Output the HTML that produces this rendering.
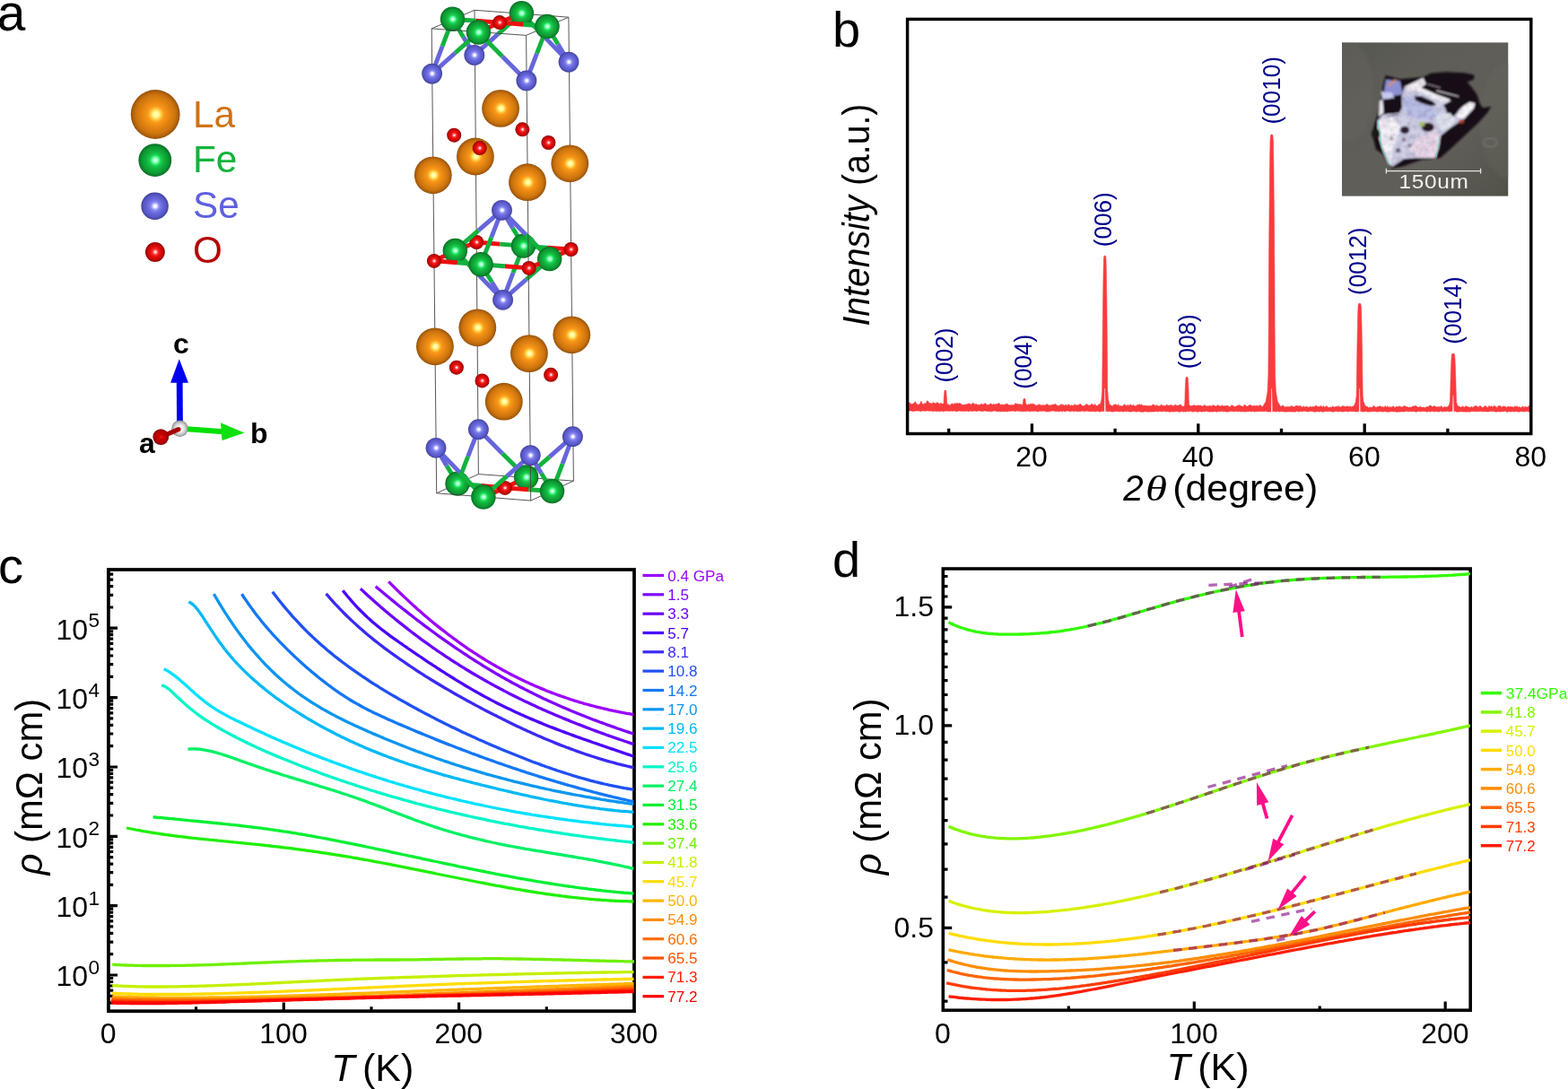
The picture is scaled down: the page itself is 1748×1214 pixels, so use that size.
<!DOCTYPE html>
<html lang="en"><head><meta charset="utf-8"><title>Figure</title>
<style>html,body{margin:0;padding:0;background:#fff;}svg{display:block;}text{font-family:"Liberation Sans",sans-serif;}</style></head>
<body>
<svg width="1748" height="1214" viewBox="0 0 1748 1214">
<rect width="1748" height="1214" fill="#fff"/>
<defs><radialGradient id="gLa" cx="0.5" cy="0.5" r="0.5" fx="0.515" fy="0.5"><stop offset="0" stop-color="#ffffc8"/><stop offset="0.12" stop-color="#fff890"/><stop offset="0.22" stop-color="#ffc840"/><stop offset="0.34" stop-color="#f89818"/><stop offset="0.55" stop-color="#e68612"/><stop offset="0.8" stop-color="#cc740e"/><stop offset="0.95" stop-color="#a85c0a"/><stop offset="1" stop-color="#8a4a06"/></radialGradient><radialGradient id="gFe" cx="0.5" cy="0.5" r="0.5" fx="0.515" fy="0.5"><stop offset="0" stop-color="#e0ffff"/><stop offset="0.12" stop-color="#a8ffd0"/><stop offset="0.22" stop-color="#50f888"/><stop offset="0.34" stop-color="#18d050"/><stop offset="0.55" stop-color="#12b03c"/><stop offset="0.8" stop-color="#0c9832"/><stop offset="0.95" stop-color="#087a28"/><stop offset="1" stop-color="#06601e"/></radialGradient><radialGradient id="gSe" cx="0.5" cy="0.5" r="0.5" fx="0.515" fy="0.5"><stop offset="0" stop-color="#ffffff"/><stop offset="0.12" stop-color="#f0f0ff"/><stop offset="0.22" stop-color="#b0b0ff"/><stop offset="0.34" stop-color="#8080ec"/><stop offset="0.55" stop-color="#6868dc"/><stop offset="0.8" stop-color="#5858c8"/><stop offset="0.95" stop-color="#4848a8"/><stop offset="1" stop-color="#38388c"/></radialGradient><radialGradient id="gO" cx="0.5" cy="0.5" r="0.5" fx="0.515" fy="0.5"><stop offset="0" stop-color="#fff0f0"/><stop offset="0.12" stop-color="#ffc0c0"/><stop offset="0.22" stop-color="#ff6060"/><stop offset="0.34" stop-color="#f82020"/><stop offset="0.55" stop-color="#e00c0c"/><stop offset="0.8" stop-color="#c40606"/><stop offset="0.95" stop-color="#9c0000"/><stop offset="1" stop-color="#800000"/></radialGradient><radialGradient id="gW" cx="0.5" cy="0.5" r="0.5" fx="0.515" fy="0.5"><stop offset="0" stop-color="#ffffff"/><stop offset="0.25" stop-color="#f8f8f8"/><stop offset="0.6" stop-color="#d8d8d8"/><stop offset="0.85" stop-color="#b0b0b0"/><stop offset="1" stop-color="#808080"/></radialGradient><radialGradient id="gR" cx="0.5" cy="0.5" r="0.5" fx="0.515" fy="0.5"><stop offset="0" stop-color="#e02020"/><stop offset="0.3" stop-color="#cc0000"/><stop offset="0.7" stop-color="#b80000"/><stop offset="1" stop-color="#800000"/></radialGradient></defs>
<g id="panel-a"><circle cx="173.2" cy="127.5" r="27.4" fill="url(#gLa)"/><circle cx="172.8" cy="178.6" r="18.4" fill="url(#gFe)"/><circle cx="172.6" cy="229.8" r="15.2" fill="url(#gSe)"/><circle cx="172.9" cy="281" r="10.9" fill="url(#gO)"/><text x="215" y="141.5" font-size="42.3" fill="#d07214">La</text><text x="215" y="192.2" font-size="42.3" fill="#14b43c">Fe</text><text x="215" y="243" font-size="42.3" fill="#5f5fe0">Se</text><text x="215" y="293.4" font-size="42.3" fill="#b40000">O</text><line x1="205" y1="478" x2="249" y2="481.2" stroke="#00e000" stroke-width="6"/><polygon points="246,471.3 272.5,482.6 247.5,491" fill="#10e010"/><line x1="200.5" y1="472" x2="200.2" y2="425" stroke="#0000f0" stroke-width="6.8"/><polygon points="190.1,426.8 199.8,400.2 210,426.8" fill="#0000f0"/><circle cx="200.5" cy="477.8" r="9.2" fill="url(#gW)"/><line x1="199" y1="478.6" x2="180" y2="486.8" stroke="#a80000" stroke-width="5.2" stroke-linecap="round"/><circle cx="179.3" cy="487.1" r="8.9" fill="url(#gR)"/><text x="193" y="394" font-size="32" font-weight="bold">c</text><text x="279" y="493.5" font-size="32" font-weight="bold">b</text><text x="155" y="504.6" font-size="32" font-weight="bold">a</text><g><line x1="529" y1="11.3" x2="481.2" y2="31.9" stroke="#444" stroke-width="0.9" fill="none"/><line x1="529" y1="11.3" x2="633.9" y2="19.2" stroke="#444" stroke-width="0.9" fill="none"/><line x1="533.4" y1="528.6" x2="486.7" y2="549.8" stroke="#444" stroke-width="0.9" fill="none"/><line x1="533.4" y1="528.6" x2="639.4" y2="536.1" stroke="#444" stroke-width="0.9" fill="none"/><line x1="529" y1="11.3" x2="533.4" y2="528.6" stroke="#444" stroke-width="0.9" fill="none"/><line x1="528.8" y1="61.4" x2="516.6" y2="41.4" stroke="#6666dc" stroke-width="4.9"/><line x1="528.8" y1="61.4" x2="555.1" y2="38.1" stroke="#6666dc" stroke-width="4.9"/><line x1="531.3" y1="270" x2="519.3" y2="274.7" stroke="#ee1010" stroke-width="4.9"/><line x1="531.3" y1="270" x2="557.4" y2="272.1" stroke="#ee1010" stroke-width="4.9"/><line x1="533.4" y1="478.7" x2="521.7" y2="508.9" stroke="#6666dc" stroke-width="4.9"/><line x1="533.4" y1="478.7" x2="560" y2="505.4" stroke="#6666dc" stroke-width="4.9"/><circle cx="528.8" cy="61.4" r="11.4" fill="url(#gSe)"/><circle cx="529.9" cy="174.5" r="20.9" fill="url(#gLa)"/><circle cx="531.3" cy="270" r="8" fill="url(#gO)"/><circle cx="532.3" cy="365.3" r="20.9" fill="url(#gLa)"/><circle cx="533.4" cy="478.7" r="11.4" fill="url(#gSe)"/><line x1="581.4" y1="14.8" x2="555.1" y2="38.1" stroke="#12b23e" stroke-width="4.9"/><line x1="581.4" y1="14.8" x2="607.7" y2="41.9" stroke="#12b23e" stroke-width="4.9"/><line x1="581.4" y1="14.8" x2="569.2" y2="20" stroke="#12b23e" stroke-width="4.9"/><line x1="583.5" y1="274.1" x2="557.4" y2="272.1" stroke="#12b23e" stroke-width="4.9"/><line x1="583.5" y1="274.1" x2="610" y2="276.1" stroke="#12b23e" stroke-width="4.9"/><line x1="583.5" y1="274.1" x2="571.5" y2="254.2" stroke="#12b23e" stroke-width="4.9"/><line x1="583.5" y1="274.1" x2="572" y2="304.2" stroke="#12b23e" stroke-width="4.9"/><line x1="586.6" y1="532" x2="560" y2="505.4" stroke="#12b23e" stroke-width="4.9"/><line x1="586.6" y1="532" x2="612.5" y2="509.4" stroke="#12b23e" stroke-width="4.9"/><line x1="586.6" y1="532" x2="574.8" y2="538" stroke="#12b23e" stroke-width="4.9"/><circle cx="581.4" cy="14.8" r="13.7" fill="url(#gFe)"/><circle cx="582.4" cy="144.3" r="8" fill="url(#gO)"/><circle cx="583.5" cy="274.1" r="13.7" fill="url(#gFe)"/><circle cx="585.3" cy="403.6" r="8" fill="url(#gO)"/><circle cx="586.6" cy="532" r="13.7" fill="url(#gFe)"/><line x1="633.9" y1="19.2" x2="586.6" y2="39.4" stroke="#444" stroke-width="0.9" fill="none"/><line x1="639.4" y1="536.1" x2="591.7" y2="558.1" stroke="#444" stroke-width="0.9" fill="none"/><line x1="633.9" y1="19.2" x2="639.4" y2="536.1" stroke="#444" stroke-width="0.9" fill="none"/><line x1="634" y1="69.1" x2="607.7" y2="41.9" stroke="#6666dc" stroke-width="4.9"/><line x1="634" y1="69.1" x2="622" y2="49.3" stroke="#6666dc" stroke-width="4.9"/><line x1="636.6" y1="278" x2="610" y2="276.1" stroke="#ee1010" stroke-width="4.9"/><line x1="636.6" y1="278" x2="624.7" y2="283.3" stroke="#ee1010" stroke-width="4.9"/><line x1="638.4" y1="486.7" x2="612.5" y2="509.4" stroke="#6666dc" stroke-width="4.9"/><line x1="638.4" y1="486.7" x2="627" y2="517.1" stroke="#6666dc" stroke-width="4.9"/><circle cx="634" cy="69.1" r="11.4" fill="url(#gSe)"/><circle cx="635.3" cy="182.3" r="20.9" fill="url(#gLa)"/><circle cx="636.6" cy="278" r="8" fill="url(#gO)"/><circle cx="637.3" cy="373.3" r="20.9" fill="url(#gLa)"/><circle cx="638.4" cy="486.7" r="11.4" fill="url(#gSe)"/><line x1="504.5" y1="21.3" x2="493.1" y2="51.7" stroke="#12b23e" stroke-width="4.9"/><line x1="504.5" y1="21.3" x2="516.6" y2="41.4" stroke="#12b23e" stroke-width="4.9"/><line x1="504.5" y1="21.3" x2="530.8" y2="23.2" stroke="#12b23e" stroke-width="4.9"/><line x1="507.3" y1="279.4" x2="495.6" y2="285.1" stroke="#12b23e" stroke-width="4.9"/><line x1="507.3" y1="279.4" x2="519.3" y2="274.7" stroke="#12b23e" stroke-width="4.9"/><line x1="507.3" y1="279.4" x2="533.4" y2="256.9" stroke="#12b23e" stroke-width="4.9"/><line x1="507.3" y1="279.4" x2="534" y2="306.9" stroke="#12b23e" stroke-width="4.9"/><line x1="510" y1="539.1" x2="498" y2="519.2" stroke="#12b23e" stroke-width="4.9"/><line x1="510" y1="539.1" x2="521.7" y2="508.9" stroke="#12b23e" stroke-width="4.9"/><line x1="510" y1="539.1" x2="536.5" y2="541.5" stroke="#12b23e" stroke-width="4.9"/><circle cx="504.5" cy="21.3" r="13.7" fill="url(#gFe)"/><circle cx="506.2" cy="150.7" r="8" fill="url(#gO)"/><circle cx="507.3" cy="279.4" r="13.7" fill="url(#gFe)"/><circle cx="508.9" cy="409.7" r="8" fill="url(#gO)"/><circle cx="510" cy="539.1" r="13.7" fill="url(#gFe)"/><line x1="557" y1="25.1" x2="530.8" y2="23.2" stroke="#ee1010" stroke-width="4.9"/><line x1="557" y1="25.1" x2="569.2" y2="20" stroke="#ee1010" stroke-width="4.9"/><line x1="557" y1="25.1" x2="545.2" y2="30.6" stroke="#ee1010" stroke-width="4.9"/><line x1="557" y1="25.1" x2="583.5" y2="27.3" stroke="#ee1010" stroke-width="4.9"/><line x1="559.5" y1="234.3" x2="533.4" y2="256.9" stroke="#6666dc" stroke-width="4.9"/><line x1="560.6" y1="334.3" x2="534" y2="306.9" stroke="#6666dc" stroke-width="4.9"/><line x1="559.5" y1="234.3" x2="571.5" y2="254.2" stroke="#6666dc" stroke-width="4.9"/><line x1="560.6" y1="334.3" x2="572" y2="304.2" stroke="#6666dc" stroke-width="4.9"/><line x1="559.5" y1="234.3" x2="547.8" y2="264.5" stroke="#6666dc" stroke-width="4.9"/><line x1="560.6" y1="334.3" x2="548.4" y2="314.5" stroke="#6666dc" stroke-width="4.9"/><line x1="559.5" y1="234.3" x2="586.1" y2="261.5" stroke="#6666dc" stroke-width="4.9"/><line x1="560.6" y1="334.3" x2="586.7" y2="311.5" stroke="#6666dc" stroke-width="4.9"/><line x1="562.9" y1="543.9" x2="536.5" y2="541.5" stroke="#ee1010" stroke-width="4.9"/><line x1="562.9" y1="543.9" x2="574.8" y2="538" stroke="#ee1010" stroke-width="4.9"/><line x1="562.9" y1="543.9" x2="550.9" y2="549" stroke="#ee1010" stroke-width="4.9"/><line x1="562.9" y1="543.9" x2="589.2" y2="545.7" stroke="#ee1010" stroke-width="4.9"/><circle cx="557" cy="25.1" r="8" fill="url(#gO)"/><circle cx="558.1" cy="120.9" r="20.9" fill="url(#gLa)"/><circle cx="559.5" cy="234.3" r="11.4" fill="url(#gSe)"/><circle cx="560.6" cy="334.3" r="11.4" fill="url(#gSe)"/><circle cx="561.8" cy="447.7" r="20.9" fill="url(#gLa)"/><circle cx="562.9" cy="543.9" r="8" fill="url(#gO)"/><line x1="610" y1="29.5" x2="598.5" y2="59.7" stroke="#12b23e" stroke-width="4.9"/><line x1="610" y1="29.5" x2="622" y2="49.3" stroke="#12b23e" stroke-width="4.9"/><line x1="610" y1="29.5" x2="583.5" y2="27.3" stroke="#12b23e" stroke-width="4.9"/><line x1="612.7" y1="288.6" x2="601.2" y2="293.8" stroke="#12b23e" stroke-width="4.9"/><line x1="612.7" y1="288.6" x2="624.7" y2="283.3" stroke="#12b23e" stroke-width="4.9"/><line x1="612.7" y1="288.6" x2="586.1" y2="261.5" stroke="#12b23e" stroke-width="4.9"/><line x1="612.7" y1="288.6" x2="586.7" y2="311.5" stroke="#12b23e" stroke-width="4.9"/><line x1="615.5" y1="547.5" x2="603.4" y2="527.5" stroke="#12b23e" stroke-width="4.9"/><line x1="615.5" y1="547.5" x2="627" y2="517.1" stroke="#12b23e" stroke-width="4.9"/><line x1="615.5" y1="547.5" x2="589.2" y2="545.7" stroke="#12b23e" stroke-width="4.9"/><circle cx="610" cy="29.5" r="13.7" fill="url(#gFe)"/><circle cx="611.4" cy="159" r="8" fill="url(#gO)"/><circle cx="612.7" cy="288.6" r="13.7" fill="url(#gFe)"/><circle cx="614.1" cy="417.8" r="8" fill="url(#gO)"/><circle cx="615.5" cy="547.5" r="13.7" fill="url(#gFe)"/><line x1="481.2" y1="31.9" x2="586.6" y2="39.4" stroke="#444" stroke-width="0.9" fill="none"/><line x1="486.7" y1="549.8" x2="591.7" y2="558.1" stroke="#444" stroke-width="0.9" fill="none"/><line x1="481.2" y1="31.9" x2="486.7" y2="549.8" stroke="#444" stroke-width="0.9" fill="none"/><line x1="481.6" y1="82.1" x2="493.1" y2="51.7" stroke="#6666dc" stroke-width="4.9"/><line x1="481.6" y1="82.1" x2="507.5" y2="59" stroke="#6666dc" stroke-width="4.9"/><line x1="483.9" y1="290.9" x2="495.6" y2="285.1" stroke="#ee1010" stroke-width="4.9"/><line x1="483.9" y1="290.9" x2="510" y2="292.8" stroke="#ee1010" stroke-width="4.9"/><line x1="486" y1="499.3" x2="498" y2="519.2" stroke="#6666dc" stroke-width="4.9"/><line x1="486" y1="499.3" x2="512.5" y2="526.6" stroke="#6666dc" stroke-width="4.9"/><circle cx="481.6" cy="82.1" r="11.4" fill="url(#gSe)"/><circle cx="482.8" cy="195.3" r="20.9" fill="url(#gLa)"/><circle cx="483.9" cy="290.9" r="8" fill="url(#gO)"/><circle cx="484.9" cy="386.3" r="20.9" fill="url(#gLa)"/><circle cx="486" cy="499.3" r="11.4" fill="url(#gSe)"/><line x1="533.4" y1="36" x2="507.5" y2="59" stroke="#12b23e" stroke-width="4.9"/><line x1="533.4" y1="36" x2="560.1" y2="63" stroke="#12b23e" stroke-width="4.9"/><line x1="533.4" y1="36" x2="545.2" y2="30.6" stroke="#12b23e" stroke-width="4.9"/><line x1="536.1" y1="294.7" x2="510" y2="292.8" stroke="#12b23e" stroke-width="4.9"/><line x1="536.1" y1="294.7" x2="562.9" y2="296.8" stroke="#12b23e" stroke-width="4.9"/><line x1="536.1" y1="294.7" x2="547.8" y2="264.5" stroke="#12b23e" stroke-width="4.9"/><line x1="536.1" y1="294.7" x2="548.4" y2="314.5" stroke="#12b23e" stroke-width="4.9"/><line x1="538.9" y1="554" x2="512.5" y2="526.6" stroke="#12b23e" stroke-width="4.9"/><line x1="538.9" y1="554" x2="565.1" y2="530.8" stroke="#12b23e" stroke-width="4.9"/><line x1="538.9" y1="554" x2="550.9" y2="549" stroke="#12b23e" stroke-width="4.9"/><circle cx="533.4" cy="36" r="13.7" fill="url(#gFe)"/><circle cx="534.7" cy="165.1" r="8" fill="url(#gO)"/><circle cx="536.1" cy="294.7" r="13.7" fill="url(#gFe)"/><circle cx="537.5" cy="424.4" r="8" fill="url(#gO)"/><circle cx="538.9" cy="554" r="13.7" fill="url(#gFe)"/><line x1="586.6" y1="39.4" x2="591.7" y2="558.1" stroke="#444" stroke-width="0.9" fill="none"/><line x1="586.9" y1="89.9" x2="560.1" y2="63" stroke="#6666dc" stroke-width="4.9"/><line x1="586.9" y1="89.9" x2="598.5" y2="59.7" stroke="#6666dc" stroke-width="4.9"/><line x1="589.7" y1="298.9" x2="562.9" y2="296.8" stroke="#ee1010" stroke-width="4.9"/><line x1="589.7" y1="298.9" x2="601.2" y2="293.8" stroke="#ee1010" stroke-width="4.9"/><line x1="591.3" y1="507.6" x2="565.1" y2="530.8" stroke="#6666dc" stroke-width="4.9"/><line x1="591.3" y1="507.6" x2="603.4" y2="527.5" stroke="#6666dc" stroke-width="4.9"/><circle cx="586.9" cy="89.9" r="11.4" fill="url(#gSe)"/><circle cx="588" cy="203.2" r="20.9" fill="url(#gLa)"/><circle cx="589.7" cy="298.9" r="8" fill="url(#gO)"/><circle cx="589.9" cy="394.1" r="20.9" fill="url(#gLa)"/><circle cx="591.3" cy="507.6" r="11.4" fill="url(#gSe)"/></g><text x="-3.2" y="33.7" font-size="56.8">a</text></g>
<g id="panel-b"><defs><filter id="blur1" x="-10%" y="-10%" width="120%" height="120%"><feGaussianBlur stdDeviation="1.1"/></filter><filter id="blur2" x="-10%" y="-10%" width="120%" height="120%"><feGaussianBlur stdDeviation="0.55"/></filter><filter id="blur3" x="-20%" y="-20%" width="140%" height="140%"><feGaussianBlur stdDeviation="2.2"/></filter><linearGradient id="phbg" x1="0" y1="0" x2="1" y2="1"><stop offset="0" stop-color="#565650"/><stop offset="0.3" stop-color="#5e5d57"/><stop offset="0.65" stop-color="#5f5e58"/><stop offset="1" stop-color="#525149"/></linearGradient><filter id="mott" x="0" y="0" width="100%" height="100%"><feTurbulence type="fractalNoise" baseFrequency="0.16" numOctaves="2" seed="5" result="n"/><feColorMatrix in="n" type="matrix" values="0 0 0 0 0.1  0 0 0 0 0.05  0 0 0 0 0.15  1.6 0.9 0 0 -0.95"/><feGaussianBlur stdDeviation="0.6"/></filter><filter id="grain" x="0" y="0" width="100%" height="100%"><feTurbulence type="fractalNoise" baseFrequency="0.5" numOctaves="2" seed="3" result="n"/><feColorMatrix in="n" type="matrix" values="0 0 0 0 1  0 0 0 0 1  0 0 0 0 1  0.5 0.5 0 0 -0.42"/></filter><clipPath id="phmain"><polygon points="1562.8,105.3 1566.1,96.8 1586.4,87.1 1589.6,93.6 1580,98.9 1595,105.3 1614.2,110.7 1621.7,115 1616.4,118.2 1611,120.3 1613.2,126.8 1620.7,130 1627.1,121.4 1637.8,113.9 1644.2,115 1643.2,120.3 1632.4,132.1 1616.4,142.8 1605.7,151.4 1604.6,161 1600.3,176 1580,176 1565,177.1 1552.1,185.7 1547.8,182.4 1541.4,166.4 1536.1,149.3 1536.1,134.3 1541.4,127.8 1560.7,125.7 1562.8,117.1"/></clipPath><clipPath id="phclip"><rect x="1496" y="47.2" width="185.5" height="171.6"/></clipPath></defs><g clip-path="url(#phclip)"><rect x="1496" y="47.2" width="185.5" height="171.6" fill="url(#phbg)"/><g filter="url(#blur3)" opacity="0.35"><ellipse cx="1503.9" cy="102.1" rx="27.8" ry="55.7" fill="#6a6963" opacity="1" transform="rotate(0 1503.9 102.1)"/><ellipse cx="1680.6" cy="134.3" rx="32.1" ry="64.3" fill="#68675f" opacity="1" transform="rotate(0 1680.6 134.3)"/></g><g filter="url(#blur1)"><polygon points="1544.6,83.9 1560.7,88.2 1586.4,86.1 1595,81.8 1611,80.2 1632.4,81.2 1643.2,83.4 1643.2,88.2 1635.7,91.4 1641,97.8 1646.4,105.3 1649.6,115 1652.8,120.3 1662.4,118.7 1658.2,125.7 1648.5,136.4 1632.4,151.4 1616.4,166.4 1605.7,176 1584.3,178.2 1562.8,185.7 1552.1,187.8 1547.8,183.5 1541.4,171.7 1533.9,166.4 1529.6,148.2 1532.9,136.4 1536.1,125.7 1539.3,110.7 1541.4,96.8" fill="#150e17"/><polygon points="1562.8,105.3 1566.1,96.8 1586.4,87.1 1589.6,93.6 1580,98.9 1595,105.3 1614.2,110.7 1621.7,115 1616.4,118.2 1611,120.3 1613.2,126.8 1620.7,130 1627.1,121.4 1637.8,113.9 1644.2,115 1643.2,120.3 1632.4,132.1 1616.4,142.8 1605.7,151.4 1604.6,161 1600.3,176 1580,176 1565,177.1 1552.1,185.7 1547.8,182.4 1541.4,166.4 1536.1,149.3 1536.1,134.3 1541.4,127.8 1560.7,125.7 1562.8,117.1" fill="#cfd0e6"/><polygon points="1545.2,88.7 1560.7,90.3 1563.9,105.3 1552.1,106.9 1543,101.6" fill="#8c8fd2"/><polygon points="1546.8,95.2 1555.3,88.2 1556.9,89.8 1548.4,96.8" fill="#d89060"/><polygon points="1539.3,102.1 1552.1,103.2 1554.3,109.6 1541.4,110.7" fill="#c8c8f0"/><polygon points="1562.8,108.6 1580,105.3 1595,115 1601.4,130 1588.5,134.3 1571.4,130 1565,120.3" fill="#b9bfe6"/><polygon points="1536.1,134.3 1552.1,130 1560.7,138.5 1558.6,151.4 1552.1,166.4 1551.1,183.5 1547.8,182.4 1541.4,166.4 1536.1,149.3" fill="#f4f2f8"/><polygon points="1566.1,96.8 1586.4,87.1 1589.6,93.6 1584.3,97.8 1601.4,105.3 1616.4,110.7 1614.2,116.1 1599.3,110.7 1584.3,102.1 1570.3,102.1" fill="#f2eef4"/><polygon points="1580,153.5 1601.4,145 1605.7,151.4 1603.5,166.4 1599.3,175.5 1580,175.5 1571.4,166.4" fill="#e9d9e8"/><polygon points="1622.8,130 1631.4,118.2 1638.9,113.9 1644.2,115.5 1642.1,121.4 1631.4,132.7" fill="#f6f6f6"/><polygon points="1601.4,130 1616.4,125.7 1622.8,134.3 1614.2,143.9 1605.7,145" fill="#dfe6ee"/><ellipse cx="1551.6" cy="118.2" rx="11.6" ry="8.6" fill="#140e18" opacity="1" transform="rotate(0 1551.6 118.2)"/><polygon points="1537.7,112.8 1541.4,110.7 1542.5,125.7 1537.1,130" fill="#e8e8f4"/><ellipse cx="1533.9" cy="149.3" rx="4.8" ry="6.4" fill="#1a1418" opacity="1" transform="rotate(0 1533.9 149.3)"/><polygon points="1576.8,107.5 1584.3,106.9 1597.1,112.8 1601.4,117.1 1595,118.2 1584.3,115 1577.8,111.8" fill="#140e18"/><ellipse cx="1591.8" cy="141.8" rx="7" ry="5.1" fill="#20121e" opacity="1" transform="rotate(0 1591.8 141.8)"/><ellipse cx="1566.1" cy="145" rx="5.1" ry="4.3" fill="#2a1c2c" opacity="1" transform="rotate(0 1566.1 145)"/><ellipse cx="1585.3" cy="138.5" rx="3.2" ry="2.7" fill="#a0c060" opacity="1" transform="rotate(0 1585.3 138.5)"/><ellipse cx="1565" cy="155.7" rx="2.4" ry="2.4" fill="#8a7a96" opacity="1" transform="rotate(0 1565 155.7)"/><ellipse cx="1571.4" cy="162.1" rx="2.6" ry="2.4" fill="#9486a0" opacity="1" transform="rotate(0 1571.4 162.1)"/><ellipse cx="1558.6" cy="167.5" rx="2.8" ry="2.6" fill="#6a5c78" opacity="1" transform="rotate(0 1558.6 167.5)"/><ellipse cx="1551.1" cy="154.6" rx="2.1" ry="1.9" fill="#a090a8" opacity="1" transform="rotate(0 1551.1 154.6)"/><ellipse cx="1629.2" cy="135.3" rx="2.8" ry="2.4" fill="#b04030" opacity="1" transform="rotate(0 1629.2 135.3)"/><path d="M1546.8,130 L1559.6,127.8" stroke="#2a2438" stroke-width="0.9" fill="none"/><path d="M1601.4,101.1 L1626,107.5" stroke="#d8d4e0" stroke-width="1.2" fill="none"/><path d="M1590.7,93.6 L1605.7,97.8" stroke="#b0a8c0" stroke-width="0.9" fill="none"/><polygon points="1608.9,117.1 1616.4,112.8 1627.1,115 1628.2,120.3 1622.8,127.8 1614.2,125.7" fill="#150e17"/></g><g clip-path="url(#phmain)"><rect x="1496" y="47.2" width="185.5" height="171.6" filter="url(#mott)" opacity="0.2"/></g><rect x="1496" y="47.2" width="185.5" height="171.6" filter="url(#grain)" opacity="0.06"/><g filter="url(#blur2)" opacity="0.8"><path d="M1536.1,134.3 L1540.3,164.2 L1550,183.5" stroke="#48d8c0" stroke-width="0.9" fill="none"/><path d="M1604.6,152.5 L1601.4,175.5" stroke="#60e0c0" stroke-width="0.9" fill="none"/></g><ellipse cx="1661.4" cy="158.9" rx="7.5" ry="4.8" fill="none" stroke="#77766e" stroke-width="2" opacity="0.8" filter="url(#blur1)"/><g filter="url(#blur2)"><path d="M1545.2 190.6H1650.8M1545.4 187.8v5.6M1650.6 187.8v5.6" stroke="#e6e4dc" stroke-width="1.3" fill="none"/><text x="1559.6" y="210.2" font-size="21.5" fill="#f2f0ea" textLength="78" lengthAdjust="spacingAndGlyphs" letter-spacing="0.6">150um</text></g></g><path d="M1012.6 449.3 L1013.9 448.7 L1015.2 450 L1016.5 450.6 L1017.8 449.9 L1019.1 449.4 L1020.4 447.6 L1021.7 449.9 L1023 451.2 L1024.3 450.9 L1025.6 450 L1026.9 447 L1028.2 450.2 L1029.5 451 L1030.8 449.3 L1032.1 450.2 L1033.4 446.8 L1034.7 447.3 L1036 449.6 L1037.3 449.3 L1038.6 450.2 L1039.9 448.8 L1041.2 449 L1042.5 449.8 L1043.8 449.2 L1045.1 448.4 L1046.4 449.7 L1047.7 450.4 L1049 449.1 L1050.3 450.3 L1051.6 450.1 L1052.9 451.2 L1054.2 450.9 L1055.5 450.6 L1056.8 450.5 L1058.1 451.4 L1059.4 451.5 L1060.7 450 L1062 449.8 L1063.3 451.1 L1064.6 449.3 L1065.9 450.1 L1067.2 449.3 L1068.5 450 L1069.8 449.3 L1071.1 450 L1072.4 451.2 L1073.7 451.4 L1075 451.2 L1076.3 450.7 L1077.6 450.8 L1078.9 450.2 L1080.2 449.7 L1081.5 450.4 L1082.8 451.1 L1084.1 449.4 L1085.4 449.2 L1086.7 451.2 L1088 450.1 L1089.3 451.1 L1090.6 451.2 L1091.9 451.6 L1093.2 450.4 L1094.5 450.3 L1095.8 451.3 L1097.1 450.2 L1098.4 449.4 L1099.7 451.1 L1101 451 L1102.3 451.7 L1103.6 449.9 L1104.9 450.1 L1106.2 451.2 L1107.5 450.3 L1108.8 451 L1110.1 450.4 L1111.4 450.7 L1112.7 449.6 L1114 449.4 L1115.3 451.4 L1116.6 450.7 L1117.9 451.1 L1119.2 451.4 L1120.5 450.6 L1121.8 450.5 L1123.1 450 L1124.4 451.5 L1125.7 451.6 L1127 451.4 L1128.3 451.7 L1129.6 451.2 L1130.9 451.3 L1132.2 449.3 L1133.5 450.5 L1134.8 450.3 L1136.1 450.8 L1137.4 450.5 L1138.7 451.1 L1140 451.3 L1141.3 451.2 L1142.6 450.5 L1143.9 450.3 L1145.2 451.8 L1146.5 450.5 L1147.8 450.9 L1149.1 449.9 L1150.4 450.5 L1151.7 449.9 L1153 450.7 L1154.3 451.6 L1155.6 452.1 L1156.9 451.4 L1158.2 450.5 L1159.5 451.5 L1160.8 451.4 L1162.1 451.9 L1163.4 451.2 L1164.7 452.1 L1166 450.9 L1167.3 450.6 L1168.6 451.2 L1169.9 452.1 L1171.2 451.7 L1172.5 451.2 L1173.8 451.1 L1175.1 450.9 L1176.4 450.2 L1177.7 451.2 L1179 452.3 L1180.3 452.2 L1181.6 452 L1182.9 450.3 L1184.2 451.4 L1185.5 451 L1186.8 452.2 L1188.1 450.8 L1189.4 452.3 L1190.7 450.7 L1192 451.1 L1193.3 452.4 L1194.6 451.6 L1195.9 452.3 L1197.2 451.5 L1198.5 450.7 L1199.8 451.9 L1201.1 451.4 L1202.4 451.4 L1203.7 450.4 L1205 450.5 L1206.3 452.4 L1207.6 452.5 L1208.9 452.5 L1210.2 451.1 L1211.5 450.2 L1212.8 451.6 L1214.1 452 L1215.4 451.8 L1216.7 450.3 L1218 450.8 L1219.3 452 L1220.6 450.3 L1221.9 452.3 L1223.2 452.6 L1224.5 450.9 L1225.8 450.3 L1227.1 452.6 L1228.4 452.2 L1229.7 451.5 L1231 451.5 L1232.3 452.5 L1233.6 451.3 L1234.9 450.4 L1236.2 451.9 L1237.5 451.2 L1238.8 452.1 L1240.1 452.7 L1241.4 451.3 L1242.7 451 L1244 450.4 L1245.3 452.4 L1246.6 450.5 L1247.9 452.7 L1249.2 452.2 L1250.5 452.7 L1251.8 452.5 L1253.1 450.9 L1254.4 450.9 L1255.7 452.8 L1257 451.2 L1258.3 452.4 L1259.6 450.9 L1260.9 451.3 L1262.2 452.2 L1263.5 451.2 L1264.8 452.4 L1266.1 452.7 L1267.4 451.4 L1268.7 451.3 L1270 450.5 L1271.3 451.7 L1272.6 450.7 L1273.9 452.1 L1275.2 452.3 L1276.5 452.1 L1277.8 452.2 L1279.1 452.2 L1280.4 452.8 L1281.7 452 L1283 452.8 L1284.3 451.6 L1285.6 451 L1286.9 451.3 L1288.2 452.7 L1289.5 451.3 L1290.8 452.6 L1292.1 452.9 L1293.4 452.1 L1294.7 451.1 L1296 452.3 L1297.3 451.8 L1298.6 453 L1299.9 451.4 L1301.2 451.4 L1302.5 452 L1303.8 452.1 L1305.1 451.3 L1306.4 451.8 L1307.7 452.5 L1309 452.1 L1310.3 450.9 L1311.6 451.9 L1312.9 452 L1314.2 452 L1315.5 450.8 L1316.8 451.6 L1318.1 453.2 L1319.4 453.1 L1320.7 453.2 L1322 452.8 L1323.3 452.1 L1324.6 453.2 L1325.9 451.7 L1327.2 452.5 L1328.5 452.5 L1329.8 452.1 L1331.1 451.6 L1332.4 451.9 L1333.7 452.6 L1335 451.8 L1336.3 451.9 L1337.6 452 L1338.9 451.9 L1340.2 453.1 L1341.5 452.5 L1342.8 451 L1344.1 452.9 L1345.4 452.4 L1346.7 453 L1348 452.4 L1349.3 451.9 L1350.6 453.2 L1351.9 451.6 L1353.2 451.9 L1354.5 452.4 L1355.8 453.3 L1357.1 451.4 L1358.4 452.1 L1359.7 452.6 L1361 452.9 L1362.3 451.4 L1363.6 453.1 L1364.9 452.6 L1366.2 452.6 L1367.5 452.2 L1368.8 452.1 L1370.1 453.4 L1371.4 453.7 L1372.7 451.7 L1374 451.8 L1375.3 453 L1376.6 453.2 L1377.9 453.3 L1379.2 452.1 L1380.5 451.9 L1381.8 451.5 L1383.1 452.3 L1384.4 452.8 L1385.7 453.5 L1387 451.3 L1388.3 451.6 L1389.6 453 L1390.9 453.1 L1392.2 451.7 L1393.5 451.6 L1394.8 451.4 L1396.1 453.1 L1397.4 452.2 L1398.7 452.1 L1400 453.1 L1401.3 451.7 L1402.6 452.9 L1403.9 451.7 L1405.2 451.6 L1406.5 453.2 L1407.8 453.5 L1409.1 452.7 L1410.4 452.6 L1411.7 453.3 L1413 451.7 L1414.3 452.3 L1415.6 453.8 L1416.9 453.9 L1418.2 451.6 L1419.5 451.4 L1420.8 453.5 L1422.1 452.8 L1423.4 453.5 L1424.7 453.3 L1426 452.8 L1427.3 453.4 L1428.6 453.2 L1429.9 451.6 L1431.2 452.9 L1432.5 453.8 L1433.8 453.6 L1435.1 453.4 L1436.4 453.3 L1437.7 453.7 L1439 452.5 L1440.3 452.8 L1441.6 453.3 L1442.9 453.8 L1444.2 452.6 L1445.5 452.2 L1446.8 452.5 L1448.1 452.9 L1449.4 452 L1450.7 453.4 L1452 454 L1453.3 452.7 L1454.6 454.1 L1455.9 452.9 L1457.2 453.2 L1458.5 454.2 L1459.8 453.6 L1461.1 453.2 L1462.4 453.8 L1463.7 453.1 L1465 453.7 L1466.3 452.5 L1467.6 452.1 L1468.9 453.5 L1470.2 453.3 L1471.5 453.1 L1472.8 452.2 L1474.1 454.2 L1475.4 452.2 L1476.7 454.3 L1478 452.8 L1479.3 452.7 L1480.6 454.3 L1481.9 454.3 L1483.2 453.8 L1484.5 454.3 L1485.8 452.5 L1487.1 454.2 L1488.4 453.6 L1489.7 452.9 L1491 453.6 L1492.3 452.3 L1493.6 454.1 L1494.9 453.7 L1496.2 452.4 L1497.5 452.7 L1498.8 452.9 L1500.1 453.4 L1501.4 452.8 L1502.7 452.9 L1504 453.6 L1505.3 452.5 L1506.6 454.1 L1507.9 453.4 L1509.2 453.3 L1510.5 453.7 L1511.8 452.6 L1513.1 454.4 L1514.4 452.5 L1515.7 453.6 L1517 454.5 L1518.3 452.5 L1519.6 454 L1520.9 454.5 L1522.2 454.6 L1523.5 453.1 L1524.8 453.8 L1526.1 454.5 L1527.4 453.8 L1528.7 454.3 L1530 453.9 L1531.3 452.2 L1532.6 453.1 L1533.9 454.4 L1535.2 453.4 L1536.5 453.3 L1537.8 453 L1539.1 452.6 L1540.4 453.9 L1541.7 453.2 L1543 454.4 L1544.3 452.2 L1545.6 454.3 L1546.9 452.4 L1548.2 454.2 L1549.5 453.4 L1550.8 454 L1552.1 453.4 L1553.4 452.6 L1554.7 454.5 L1556 453.8 L1557.3 452.8 L1558.6 453.7 L1559.9 452.7 L1561.2 453.3 L1562.5 453.7 L1563.8 453.8 L1565.1 452.4 L1566.4 452.7 L1567.7 453.4 L1569 453.5 L1570.3 454.3 L1571.6 453.7 L1572.9 454.2 L1574.2 453.2 L1575.5 452.7 L1576.8 452.9 L1578.1 452.1 L1579.4 453.2 L1580.7 453.8 L1582 454.3 L1583.3 452.8 L1584.6 454 L1585.9 454.1 L1587.2 453.9 L1588.5 454.5 L1589.8 453.7 L1591.1 453.4 L1592.4 453.6 L1593.7 452 L1595 452 L1596.3 453.5 L1597.6 453.2 L1598.9 452.5 L1600.2 453.1 L1601.5 453.8 L1602.8 453.5 L1604.1 453.2 L1605.4 454.1 L1606.7 452.2 L1608 454.4 L1609.3 453.9 L1610.6 453.3 L1611.9 453.9 L1613.2 454.5 L1614.5 453.9 L1615.8 453.9 L1617.1 454 L1618.4 454.4 L1619.7 454.4 L1621 452.9 L1622.3 452.1 L1623.6 452.9 L1624.9 453.2 L1626.2 452.9 L1627.5 453.4 L1628.8 454.5 L1630.1 452.7 L1631.4 453.2 L1632.7 454.2 L1634 452.5 L1635.3 453.1 L1636.6 453.6 L1637.9 454.1 L1639.2 454.3 L1640.5 452.9 L1641.8 454.5 L1643.1 453.3 L1644.4 452.5 L1645.7 452.6 L1647 453.3 L1648.3 454.2 L1649.6 452.3 L1650.9 452.8 L1652.2 454.2 L1653.5 454.2 L1654.8 452.7 L1656.1 452.3 L1657.4 453.9 L1658.7 454.2 L1660 452.2 L1661.3 453.5 L1662.6 452.5 L1663.9 453.7 L1665.2 452.5 L1666.5 452.5 L1667.8 453.6 L1669.1 454.5 L1670.4 452.2 L1671.7 452.4 L1673 452.7 L1674.3 454.2 L1675.6 452.8 L1676.9 452.9 L1678.2 453.3 L1679.5 454.3 L1680.8 452.9 L1682.1 453.4 L1683.4 453.4 L1684.7 453.5 L1686 453.4 L1687.3 454.2 L1688.6 452.7 L1689.9 453.5 L1691.2 452.5 L1692.5 454.3 L1693.8 453.3 L1695.1 454.6 L1696.4 453.9 L1697.7 452.7 L1699 454.4 L1700.3 453 L1701.6 453.8 L1702.9 454.1 L1704.2 452.4 L1705.5 452.7 L1706.8 453.3 L1706.8 458.3 L1705.5 458.7 L1704.2 459.2 L1702.9 458.3 L1701.6 458.7 L1700.3 458.8 L1699 458.9 L1697.7 459 L1696.4 458.5 L1695.1 458.7 L1693.8 459.2 L1692.5 459.1 L1691.2 458.9 L1689.9 458.5 L1688.6 459.1 L1687.3 459 L1686 458.4 L1684.7 459.1 L1683.4 458.9 L1682.1 458.8 L1680.8 459.3 L1679.5 459.2 L1678.2 458.3 L1676.9 458.5 L1675.6 458.9 L1674.3 458.8 L1673 459 L1671.7 459.1 L1670.4 458.7 L1669.1 459 L1667.8 459.2 L1666.5 459 L1665.2 458.4 L1663.9 458.7 L1662.6 458.3 L1661.3 458.4 L1660 458.9 L1658.7 458.9 L1657.4 459.1 L1656.1 458.7 L1654.8 458.8 L1653.5 458.9 L1652.2 458.7 L1650.9 458.5 L1649.6 458.6 L1648.3 458.9 L1647 458.5 L1645.7 458.9 L1644.4 458.7 L1643.1 458.4 L1641.8 458.8 L1640.5 458.6 L1639.2 459.1 L1637.9 459.2 L1636.6 459 L1635.3 459.1 L1634 459.2 L1632.7 459 L1631.4 459.1 L1630.1 459 L1628.8 458.7 L1627.5 459 L1626.2 459.1 L1624.9 459.1 L1623.6 459.3 L1622.3 458.3 L1621 458.7 L1619.7 458.7 L1618.4 458.5 L1617.1 458.4 L1615.8 459 L1614.5 458.5 L1613.2 458.5 L1611.9 458.4 L1610.6 458.7 L1609.3 458.6 L1608 459.2 L1606.7 458.3 L1605.4 458.5 L1604.1 459.2 L1602.8 458.8 L1601.5 458.9 L1600.2 458.4 L1598.9 459.3 L1597.6 458.6 L1596.3 458.6 L1595 458.8 L1593.7 459 L1592.4 458.4 L1591.1 459.3 L1589.8 458.9 L1588.5 458.4 L1587.2 458.6 L1585.9 458.5 L1584.6 458.8 L1583.3 458.8 L1582 458.7 L1580.7 458.5 L1579.4 459.3 L1578.1 459.1 L1576.8 458.9 L1575.5 458.4 L1574.2 458.7 L1572.9 459 L1571.6 458.4 L1570.3 459 L1569 458.4 L1567.7 458.4 L1566.4 458.8 L1565.1 458.9 L1563.8 459.1 L1562.5 458.7 L1561.2 459 L1559.9 459.1 L1558.6 459.2 L1557.3 459.2 L1556 459.2 L1554.7 458.4 L1553.4 459.2 L1552.1 458.4 L1550.8 458.7 L1549.5 458.9 L1548.2 459.2 L1546.9 459.1 L1545.6 459.3 L1544.3 458.7 L1543 458.5 L1541.7 459.2 L1540.4 458.9 L1539.1 458.6 L1537.8 459 L1536.5 458.7 L1535.2 459.2 L1533.9 458.7 L1532.6 458.8 L1531.3 458.6 L1530 458.9 L1528.7 458.5 L1527.4 459.1 L1526.1 458.9 L1524.8 459.3 L1523.5 458.5 L1522.2 458.5 L1520.9 459 L1519.6 459 L1518.3 459 L1517 458.6 L1515.7 458.5 L1514.4 458.5 L1513.1 459.1 L1511.8 459.1 L1510.5 458.8 L1509.2 458.6 L1507.9 458.7 L1506.6 458.6 L1505.3 458.7 L1504 458.6 L1502.7 459.1 L1501.4 458.7 L1500.1 458.4 L1498.8 458.8 L1497.5 459 L1496.2 458.9 L1494.9 458.7 L1493.6 458.6 L1492.3 459.2 L1491 458.5 L1489.7 458.7 L1488.4 458.6 L1487.1 459 L1485.8 459.2 L1484.5 459 L1483.2 458.4 L1481.9 458.6 L1480.6 458.8 L1479.3 458.8 L1478 458.6 L1476.7 458.8 L1475.4 459.2 L1474.1 459.2 L1472.8 458.4 L1471.5 459 L1470.2 458.9 L1468.9 458.8 L1467.6 458.8 L1466.3 459.2 L1465 459.3 L1463.7 458.7 L1462.4 458.4 L1461.1 458.5 L1459.8 458.6 L1458.5 459.2 L1457.2 458.7 L1455.9 458.8 L1454.6 458.3 L1453.3 458.3 L1452 458.7 L1450.7 458.8 L1449.4 458.6 L1448.1 459.2 L1446.8 458.7 L1445.5 458.3 L1444.2 459.2 L1442.9 458.9 L1441.6 459.2 L1440.3 458.7 L1439 459.2 L1437.7 458.8 L1436.4 459.1 L1435.1 458.9 L1433.8 459.2 L1432.5 458.9 L1431.2 459.2 L1429.9 458.5 L1428.6 459.1 L1427.3 458.4 L1426 459.3 L1424.7 458.4 L1423.4 458.7 L1422.1 459.1 L1420.8 458.6 L1419.5 458.7 L1418.2 459.1 L1416.9 458.9 L1415.6 459.1 L1414.3 459.1 L1413 459.1 L1411.7 458.6 L1410.4 458.3 L1409.1 458.9 L1407.8 458.6 L1406.5 458.7 L1405.2 458.4 L1403.9 458.9 L1402.6 458.4 L1401.3 459.1 L1400 458.5 L1398.7 459.3 L1397.4 458.5 L1396.1 458.5 L1394.8 459 L1393.5 458.6 L1392.2 458.7 L1390.9 458.7 L1389.6 458.8 L1388.3 459.3 L1387 458.7 L1385.7 459 L1384.4 458.7 L1383.1 459.1 L1381.8 458.5 L1380.5 459.1 L1379.2 458.5 L1377.9 458.8 L1376.6 458.5 L1375.3 459 L1374 458.4 L1372.7 458.3 L1371.4 458.7 L1370.1 458.8 L1368.8 459.2 L1367.5 459.1 L1366.2 458.9 L1364.9 458.6 L1363.6 459.1 L1362.3 458.3 L1361 458.8 L1359.7 458.9 L1358.4 458.5 L1357.1 459.1 L1355.8 459.2 L1354.5 458.4 L1353.2 459 L1351.9 459.1 L1350.6 459 L1349.3 459 L1348 459.2 L1346.7 458.7 L1345.4 458.5 L1344.1 458.3 L1342.8 459.1 L1341.5 458.8 L1340.2 459.1 L1338.9 459.1 L1337.6 458.6 L1336.3 459.1 L1335 459.2 L1333.7 459 L1332.4 458.5 L1331.1 458.8 L1329.8 459.2 L1328.5 458.8 L1327.2 458.3 L1325.9 458.6 L1324.6 458.9 L1323.3 458.3 L1322 459.2 L1320.7 458.8 L1319.4 459.3 L1318.1 458.5 L1316.8 458.7 L1315.5 459.2 L1314.2 459.2 L1312.9 458.7 L1311.6 458.4 L1310.3 458.9 L1309 458.8 L1307.7 459.2 L1306.4 458.6 L1305.1 459.2 L1303.8 459.2 L1302.5 458.9 L1301.2 458.8 L1299.9 459 L1298.6 458.5 L1297.3 458.4 L1296 458.8 L1294.7 458.9 L1293.4 458.6 L1292.1 458.4 L1290.8 459.1 L1289.5 458.7 L1288.2 458.4 L1286.9 459 L1285.6 458.9 L1284.3 459.1 L1283 459.1 L1281.7 459 L1280.4 459.2 L1279.1 459 L1277.8 459.1 L1276.5 458.6 L1275.2 459.2 L1273.9 459.2 L1272.6 459.2 L1271.3 459.3 L1270 458.6 L1268.7 458.7 L1267.4 458.9 L1266.1 459.2 L1264.8 458.6 L1263.5 458.6 L1262.2 458.8 L1260.9 458.9 L1259.6 459.1 L1258.3 459.1 L1257 458.3 L1255.7 459.1 L1254.4 458.3 L1253.1 458.9 L1251.8 458.9 L1250.5 458.7 L1249.2 458.4 L1247.9 459 L1246.6 458.8 L1245.3 458.7 L1244 458.3 L1242.7 458.8 L1241.4 459 L1240.1 459.1 L1238.8 458.9 L1237.5 458.5 L1236.2 458.6 L1234.9 459.1 L1233.6 458.3 L1232.3 458.9 L1231 458.8 L1229.7 458.3 L1228.4 458.8 L1227.1 458.6 L1225.8 459.2 L1224.5 458.5 L1223.2 458.3 L1221.9 458.8 L1220.6 458.9 L1219.3 458.6 L1218 458.8 L1216.7 458.6 L1215.4 458.8 L1214.1 458.7 L1212.8 458.3 L1211.5 458.2 L1210.2 458.3 L1208.9 459 L1207.6 458.2 L1206.3 458.3 L1205 458.4 L1203.7 458.8 L1202.4 458.5 L1201.1 458.9 L1199.8 458.4 L1198.5 458.3 L1197.2 458.7 L1195.9 458.2 L1194.6 458.2 L1193.3 458.9 L1192 458.2 L1190.7 458.3 L1189.4 458.1 L1188.1 458.4 L1186.8 459 L1185.5 458.1 L1184.2 458.9 L1182.9 458.3 L1181.6 458.4 L1180.3 458.9 L1179 458.6 L1177.7 458.5 L1176.4 458.7 L1175.1 458.1 L1173.8 458.1 L1172.5 458.3 L1171.2 458.2 L1169.9 459 L1168.6 458.8 L1167.3 458.9 L1166 458.9 L1164.7 458.3 L1163.4 458.2 L1162.1 458.2 L1160.8 458.4 L1159.5 458.2 L1158.2 458.6 L1156.9 458.9 L1155.6 458.7 L1154.3 458 L1153 458.4 L1151.7 458.5 L1150.4 458.3 L1149.1 458.6 L1147.8 458.9 L1146.5 458.2 L1145.2 458.3 L1143.9 458.5 L1142.6 458.4 L1141.3 458.8 L1140 458.5 L1138.7 458.8 L1137.4 458.6 L1136.1 458.3 L1134.8 458.3 L1133.5 458 L1132.2 458.8 L1130.9 458.3 L1129.6 458.3 L1128.3 458 L1127 458.6 L1125.7 458.2 L1124.4 458.4 L1123.1 458.9 L1121.8 458.8 L1120.5 458.5 L1119.2 458.9 L1117.9 458.8 L1116.6 458.7 L1115.3 458.9 L1114 458.8 L1112.7 458.6 L1111.4 458.9 L1110.1 458.1 L1108.8 458.2 L1107.5 458 L1106.2 458.8 L1104.9 458.8 L1103.6 458.5 L1102.3 458.7 L1101 458.3 L1099.7 458.8 L1098.4 457.9 L1097.1 458 L1095.8 458.7 L1094.5 458.2 L1093.2 458.4 L1091.9 457.9 L1090.6 458.1 L1089.3 458.4 L1088 458.6 L1086.7 458 L1085.4 458.3 L1084.1 458.6 L1082.8 458.3 L1081.5 458 L1080.2 458.7 L1078.9 458.6 L1077.6 458.1 L1076.3 458.8 L1075 458.1 L1073.7 458.8 L1072.4 458.3 L1071.1 458.4 L1069.8 458.1 L1068.5 458.2 L1067.2 458.6 L1065.9 458.7 L1064.6 458.3 L1063.3 458 L1062 458.4 L1060.7 458.1 L1059.4 458.6 L1058.1 458.3 L1056.8 458.2 L1055.5 458.3 L1054.2 457.9 L1052.9 458.6 L1051.6 458.8 L1050.3 458.2 L1049 458.3 L1047.7 458.7 L1046.4 458.3 L1045.1 458.8 L1043.8 458.6 L1042.5 458.2 L1041.2 458.4 L1039.9 458.5 L1038.6 458.2 L1037.3 457.9 L1036 458.5 L1034.7 457.8 L1033.4 457.9 L1032.1 458.3 L1030.8 458.3 L1029.5 458.1 L1028.2 457.9 L1026.9 458.6 L1025.6 458.6 L1024.3 458 L1023 457.9 L1021.7 458 L1020.4 458.2 L1019.1 458.2 L1017.8 458.7 L1016.5 458.1 L1015.2 458 L1013.9 458 L1012.6 458.1Z" fill="#fa3b3e" stroke="#fa3b3e" stroke-width="0.5" stroke-linejoin="round"/><polygon points="1049.4,455 1050.5,454.5 1051.5,453.8 1051.9,452.6 1052.1,449 1052.2,445 1052.5,441 1052.8,437 1053,435.5 1053.2,435.1 1053.8,435 1054.4,435.1 1054.6,435.5 1054.8,437 1055.1,441 1055.4,445 1055.5,449 1055.7,452.6 1056.1,453.8 1057,454.5 1058.2,455" fill="#fa3b3e" stroke="#fa3b3e" stroke-width="0.6" stroke-linejoin="round"/><polygon points="1137.5,455 1138.7,454.7 1139.6,454.4 1140,453.7 1140.2,451.9 1140.3,449.8 1140.6,447.6 1140.9,445.6 1141.1,444.8 1141.3,444.5 1141.9,444.5 1142.5,444.5 1142.8,444.8 1143,445.6 1143.2,447.6 1143.5,449.8 1143.6,451.9 1143.8,453.7 1144.2,454.4 1145.2,454.7 1146.3,455" fill="#fa3b3e" stroke="#fa3b3e" stroke-width="0.6" stroke-linejoin="round"/><polygon points="1223.1,455 1226.6,450.8 1228,444.8 1228.7,434.6 1229,404 1229.2,370.1 1229.6,336.1 1230.1,302.1 1230.4,289.3 1230.8,285.6 1231.7,285.1 1232.6,285.6 1233,289.3 1233.3,302.1 1233.8,336.1 1234.2,370.1 1234.4,404 1234.7,434.6 1235.4,444.8 1236.8,450.8 1240.3,455" fill="#fa3b3e" stroke="#fa3b3e" stroke-width="0.6" stroke-linejoin="round"/><polygon points="1231,459.6 1232.5,459.6 1232,433 1231.4,433" fill="#fff" opacity="0.9"/><polygon points="1318.7,455 1319.1,454.1 1320.2,452.9 1320.7,450.8 1321,444.6 1321.1,437.6 1321.4,430.7 1321.8,423.8 1322,421.2 1322.4,420.4 1323.1,420.3 1323.8,420.4 1324.2,421.2 1324.4,423.8 1324.8,430.7 1325.1,437.6 1325.2,444.6 1325.5,450.8 1326,452.9 1327.1,454.1 1327.5,455" fill="#fa3b3e" stroke="#fa3b3e" stroke-width="0.6" stroke-linejoin="round"/><polygon points="1406.7,455 1411.2,447.4 1413,436.7 1413.9,418.4 1414.3,363.4 1414.5,302.4 1415,241.4 1415.6,180.3 1416,157.4 1416.5,150.7 1417.7,149.8 1418.9,150.7 1419.4,157.4 1419.8,180.3 1420.4,241.4 1420.9,302.4 1421.1,363.4 1421.5,418.4 1422.4,436.7 1424.2,447.4 1428.7,455" fill="#fa3b3e" stroke="#fa3b3e" stroke-width="0.6" stroke-linejoin="round"/><polygon points="1417,459.6 1418.5,459.6 1418,433 1417.4,433" fill="#fff" opacity="0.9"/><polygon points="1505.5,455 1509.7,452.1 1511.3,448 1512.2,441 1512.5,420 1512.8,396.6 1513.2,373.2 1513.7,349.9 1514.1,341.1 1514.6,338.6 1515.7,338.2 1516.8,338.6 1517.3,341.1 1517.7,349.9 1518.2,373.2 1518.6,396.6 1518.9,420 1519.2,441 1520.1,448 1521.7,452.1 1525.9,455" fill="#fa3b3e" stroke="#fa3b3e" stroke-width="0.6" stroke-linejoin="round"/><polygon points="1515,459.6 1516.5,459.6 1516,433 1515.4,433" fill="#fff" opacity="0.9"/><polygon points="1609.8,455 1614,453.5 1615.6,451.3 1616.5,447.7 1616.8,436.7 1617.1,424.6 1617.5,412.4 1618,400.2 1618.4,395.6 1618.9,394.3 1620,394.1 1621.1,394.3 1621.6,395.6 1622,400.2 1622.5,412.4 1622.9,424.6 1623.2,436.7 1623.5,447.7 1624.4,451.3 1626,453.5 1630.2,455" fill="#fa3b3e" stroke="#fa3b3e" stroke-width="0.6" stroke-linejoin="round"/><polygon points="1619.2,459.6 1620.8,459.6 1620.3,440.7 1619.7,440.7" fill="#fff" opacity="0.9"/><path d="M1150.4 483.4 V472.2 M1335.8 483.4 V472.2 M1521.2 483.4 V472.2 M1057.7 483.4 V477.8 M1243.1 483.4 V477.8 M1428.5 483.4 V477.8 M1613.9 483.4 V477.8" stroke="#000" stroke-width="3.3" fill="none"/><rect x="1011.6" y="21.4" width="695.2" height="462.1" fill="none" stroke="#000" stroke-width="3.45"/><text x="1150.1" y="520.3" font-size="32" text-anchor="middle">20</text><text x="1335.5" y="520.3" font-size="32" text-anchor="middle">40</text><text x="1520.9" y="520.3" font-size="32" text-anchor="middle">60</text><text x="1706.3" y="520.3" font-size="32" text-anchor="middle">80</text><text x="1252.3" y="558.1" font-size="40.3" font-style="italic">2</text><text x="1277" y="558.1" font-size="40.3" font-style="italic" style="font-family:'Liberation Serif',serif" textLength="24" lengthAdjust="spacingAndGlyphs">θ</text><text x="1307.2" y="558.1" font-size="40.3" textLength="162" lengthAdjust="spacingAndGlyphs">(degree)</text><text transform="translate(968.8,363.6) rotate(-90)" font-size="42.5" textLength="248" lengthAdjust="spacingAndGlyphs"><tspan font-style="italic">Intensity</tspan> (a.u.)</text><text transform="translate(1061.5,426.6) rotate(-90)" font-size="27.7" fill="#00008a" textLength="61.0" lengthAdjust="spacingAndGlyphs">(002)</text><text transform="translate(1149.6,433.7) rotate(-90)" font-size="27.7" fill="#00008a" textLength="61.0" lengthAdjust="spacingAndGlyphs">(004)</text><text transform="translate(1239,275.3) rotate(-90)" font-size="27.7" fill="#00008a" textLength="61.0" lengthAdjust="spacingAndGlyphs">(006)</text><text transform="translate(1332.7,411.3) rotate(-90)" font-size="27.7" fill="#00008a" textLength="61.0" lengthAdjust="spacingAndGlyphs">(008)</text><text transform="translate(1426.8,138.6) rotate(-90)" font-size="27.7" fill="#00008a" textLength="75.5" lengthAdjust="spacingAndGlyphs">(0010)</text><text transform="translate(1522.9,329) rotate(-90)" font-size="27.7" fill="#00008a" textLength="75.5" lengthAdjust="spacingAndGlyphs">(0012)</text><text transform="translate(1628.5,383.7) rotate(-90)" font-size="27.7" fill="#00008a" textLength="75.5" lengthAdjust="spacingAndGlyphs">(0014)</text><text x="928" y="52" font-size="56">b</text></g>
<g id="panel-c"><path d="M120.9 1117.8H126.2 M120.9 1110.3H126.2 M120.9 1104.2H126.2 M120.9 1099H126.2 M120.9 1094.5H126.2 M120.9 1090.5H126.2 M120.9 1087H131 M120.9 1063.7H126.2 M120.9 1050.1H126.2 M120.9 1040.4H126.2 M120.9 1032.9H126.2 M120.9 1026.8H126.2 M120.9 1021.6H126.2 M120.9 1017.1H126.2 M120.9 1013.2H126.2 M120.9 1009.6H131 M120.9 986.4H126.2 M120.9 972.7H126.2 M120.9 963.1H126.2 M120.9 955.6H126.2 M120.9 949.5H126.2 M120.9 944.3H126.2 M120.9 939.8H126.2 M120.9 935.8H126.2 M120.9 932.3H131 M120.9 909H126.2 M120.9 895.4H126.2 M120.9 885.7H126.2 M120.9 878.2H126.2 M120.9 872.1H126.2 M120.9 866.9H126.2 M120.9 862.4H126.2 M120.9 858.5H126.2 M120.9 855H131 M120.9 831.7H126.2 M120.9 818H126.2 M120.9 808.4H126.2 M120.9 800.9H126.2 M120.9 794.8H126.2 M120.9 789.6H126.2 M120.9 785.1H126.2 M120.9 781.1H126.2 M120.9 777.6H131 M120.9 754.3H126.2 M120.9 740.7H126.2 M120.9 731H126.2 M120.9 723.5H126.2 M120.9 717.4H126.2 M120.9 712.2H126.2 M120.9 707.7H126.2 M120.9 703.8H126.2 M120.9 700.2H131 M120.9 677H126.2 M120.9 663.3H126.2 M120.9 653.7H126.2 M120.9 646.2H126.2 M120.9 640.1H126.2 M316.3 1127.2V1117.5 M511.6 1127.2V1117.5 M218.6 1127.2V1122.3 M414 1127.2V1122.3 M609.3 1127.2V1122.3" stroke="#000" stroke-width="3.2" fill="none"/><rect x="120.9" y="635" width="586.1" height="492.2" fill="none" stroke="#000" stroke-width="3.75"/><path d="M433.2 648.3 L435.7 650.8 L438.2 653.3 L440.7 655.8 L443.2 658.3 L445.7 660.7 L448.3 663.2 L450.8 665.6 L453.3 667.9 L455.8 670.3 L458.3 672.6 L460.8 674.9 L463.3 677.1 L465.8 679.4 L468.3 681.6 L470.8 683.8 L473.3 685.9 L475.8 688.1 L478.3 690.2 L480.8 692.3 L483.3 694.4 L485.8 696.4 L488.3 698.4 L490.8 700.4 L493.4 702.4 L495.9 704.3 L498.4 706.3 L500.9 708.2 L503.4 710 L505.9 711.9 L508.4 713.7 L510.9 715.5 L513.4 717.3 L515.9 719.1 L518.4 720.8 L520.9 722.6 L523.4 724.3 L525.9 725.9 L528.4 727.6 L530.9 729.2 L533.4 730.8 L535.9 732.4 L538.5 734 L541 735.6 L543.5 737.1 L546 738.6 L548.5 740.1 L551 741.5 L553.5 743 L556 744.4 L558.5 745.8 L561 747.2 L563.5 748.5 L566 749.9 L568.5 751.2 L571 752.5 L573.5 753.8 L576 755 L578.5 756.3 L581 757.5 L583.6 758.7 L586.1 759.9 L588.6 761 L591.1 762.2 L593.6 763.3 L596.1 764.4 L598.6 765.5 L601.1 766.6 L603.6 767.6 L606.1 768.6 L608.6 769.7 L611.1 770.7 L613.6 771.6 L616.1 772.6 L618.6 773.5 L621.1 774.5 L623.6 775.4 L626.1 776.3 L628.7 777.1 L631.2 778 L633.7 778.8 L636.2 779.7 L638.7 780.5 L641.2 781.3 L643.7 782 L646.2 782.8 L648.7 783.5 L651.2 784.3 L653.7 785 L656.2 785.7 L658.7 786.4 L661.2 787 L663.7 787.7 L666.2 788.3 L668.7 788.9 L671.3 789.5 L673.8 790.1 L676.3 790.7 L678.8 791.3 L681.3 791.8 L683.8 792.4 L686.3 792.9 L688.8 793.4 L691.3 793.9 L693.8 794.4 L696.3 794.8 L698.8 795.3 L701.3 795.7 L703.8 796.2 L706.3 796.6" fill="none" stroke="#9b00ff" stroke-width="3.3"/><path d="M418.8 653.8 L421.3 655.9 L423.8 658 L426.3 660.1 L428.8 662.2 L431.3 664.3 L433.8 666.3 L436.3 668.4 L438.8 670.4 L441.3 672.5 L443.8 674.5 L446.3 676.5 L448.8 678.5 L451.3 680.4 L453.8 682.4 L456.3 684.4 L458.8 686.3 L461.3 688.3 L463.8 690.2 L466.3 692.1 L468.8 694 L471.3 695.9 L473.8 697.8 L476.3 699.6 L478.8 701.5 L481.3 703.3 L483.8 705.2 L486.3 707 L488.8 708.8 L491.3 710.6 L493.8 712.4 L496.3 714.2 L498.8 715.9 L501.3 717.7 L503.8 719.4 L506.3 721.1 L508.8 722.8 L511.3 724.5 L513.8 726.2 L516.3 727.9 L518.8 729.5 L521.3 731.2 L523.8 732.8 L526.3 734.4 L528.8 736 L531.3 737.6 L533.8 739.2 L536.3 740.7 L538.8 742.3 L541.3 743.8 L543.8 745.3 L546.3 746.9 L548.8 748.3 L551.3 749.8 L553.8 751.3 L556.3 752.7 L558.8 754.2 L561.3 755.6 L563.8 757 L566.3 758.4 L568.8 759.8 L571.3 761.2 L573.8 762.5 L576.3 763.8 L578.8 765.2 L581.3 766.5 L583.8 767.8 L586.3 769.1 L588.8 770.3 L591.3 771.6 L593.8 772.8 L596.3 774.1 L598.8 775.3 L601.3 776.5 L603.8 777.7 L606.3 778.9 L608.8 780 L611.3 781.2 L613.8 782.3 L616.3 783.5 L618.8 784.6 L621.3 785.7 L623.8 786.8 L626.3 787.9 L628.8 789 L631.3 790.1 L633.8 791.1 L636.3 792.2 L638.8 793.2 L641.3 794.2 L643.8 795.3 L646.3 796.3 L648.8 797.3 L651.3 798.3 L653.8 799.3 L656.3 800.2 L658.8 801.2 L661.3 802.2 L663.8 803.1 L666.3 804 L668.8 805 L671.3 805.9 L673.8 806.8 L676.3 807.7 L678.8 808.6 L681.3 809.5 L683.8 810.4 L686.3 811.3 L688.8 812.2 L691.3 813 L693.8 813.9 L696.3 814.7 L698.8 815.6 L701.3 816.4 L703.8 817.3 L706.3 818.1" fill="none" stroke="#8000ff" stroke-width="3.3"/><path d="M401.8 656.3 L404.4 658.6 L406.9 661 L409.4 663.3 L411.9 665.5 L414.4 667.8 L416.9 670 L419.5 672.3 L422 674.5 L424.5 676.7 L427 678.8 L429.5 681 L432 683.1 L434.6 685.2 L437.1 687.3 L439.6 689.3 L442.1 691.4 L444.6 693.4 L447.1 695.4 L449.7 697.4 L452.2 699.4 L454.7 701.4 L457.2 703.3 L459.7 705.2 L462.2 707.1 L464.8 709 L467.3 710.9 L469.8 712.8 L472.3 714.6 L474.8 716.4 L477.3 718.2 L479.9 720 L482.4 721.8 L484.9 723.5 L487.4 725.3 L489.9 727 L492.4 728.7 L495 730.4 L497.5 732.1 L500 733.7 L502.5 735.4 L505 737 L507.5 738.6 L510.1 740.2 L512.6 741.8 L515.1 743.4 L517.6 744.9 L520.1 746.5 L522.6 748 L525.1 749.5 L527.7 751 L530.2 752.5 L532.7 753.9 L535.2 755.4 L537.7 756.8 L540.2 758.3 L542.8 759.7 L545.3 761.1 L547.8 762.5 L550.3 763.9 L552.8 765.2 L555.3 766.6 L557.9 767.9 L560.4 769.2 L562.9 770.6 L565.4 771.9 L567.9 773.2 L570.4 774.4 L573 775.7 L575.5 777 L578 778.2 L580.5 779.4 L583 780.7 L585.5 781.9 L588.1 783.1 L590.6 784.2 L593.1 785.4 L595.6 786.6 L598.1 787.8 L600.6 788.9 L603.2 790 L605.7 791.2 L608.2 792.3 L610.7 793.4 L613.2 794.5 L615.7 795.6 L618.3 796.7 L620.8 797.7 L623.3 798.8 L625.8 799.8 L628.3 800.9 L630.8 801.9 L633.4 802.9 L635.9 804 L638.4 805 L640.9 806 L643.4 807 L645.9 807.9 L648.5 808.9 L651 809.9 L653.5 810.9 L656 811.8 L658.5 812.8 L661 813.7 L663.6 814.6 L666.1 815.6 L668.6 816.5 L671.1 817.4 L673.6 818.3 L676.1 819.2 L678.6 820.1 L681.2 821 L683.7 821.9 L686.2 822.7 L688.7 823.6 L691.2 824.5 L693.7 825.3 L696.3 826.2 L698.8 827 L701.3 827.9 L703.8 828.7 L706.3 829.6" fill="none" stroke="#6a00ff" stroke-width="3.3"/><path d="M382.1 658.3 L384.7 661.4 L387.2 664.5 L389.7 667.4 L392.2 670.3 L394.7 673.1 L397.2 675.8 L399.7 678.5 L402.2 681 L404.8 683.5 L407.3 686 L409.8 688.4 L412.3 690.6 L414.8 692.9 L417.3 695 L419.8 697.1 L422.4 699.2 L424.9 701.2 L427.4 703.1 L429.9 705 L432.4 706.9 L434.9 708.8 L437.4 710.6 L439.9 712.4 L442.5 714.2 L445 716 L447.5 717.7 L450 719.5 L452.5 721.2 L455 723 L457.5 724.7 L460.1 726.4 L462.6 728.1 L465.1 729.8 L467.6 731.5 L470.1 733.2 L472.6 734.9 L475.1 736.6 L477.6 738.3 L480.2 739.9 L482.7 741.6 L485.2 743.2 L487.7 744.9 L490.2 746.5 L492.7 748.1 L495.2 749.7 L497.7 751.3 L500.3 752.9 L502.8 754.5 L505.3 756 L507.8 757.6 L510.3 759.1 L512.8 760.7 L515.3 762.2 L517.9 763.7 L520.4 765.2 L522.9 766.6 L525.4 768.1 L527.9 769.6 L530.4 771 L532.9 772.4 L535.4 773.8 L538 775.2 L540.5 776.6 L543 777.9 L545.5 779.3 L548 780.6 L550.5 781.9 L553 783.2 L555.5 784.5 L558.1 785.7 L560.6 787 L563.1 788.2 L565.6 789.4 L568.1 790.6 L570.6 791.8 L573.1 793 L575.7 794.2 L578.2 795.3 L580.7 796.5 L583.2 797.6 L585.7 798.7 L588.2 799.8 L590.7 800.9 L593.2 801.9 L595.8 803 L598.3 804.1 L600.8 805.1 L603.3 806.1 L605.8 807.2 L608.3 808.2 L610.8 809.2 L613.3 810.2 L615.9 811.1 L618.4 812.1 L620.9 813.1 L623.4 814 L625.9 815 L628.4 815.9 L630.9 816.9 L633.5 817.8 L636 818.7 L638.5 819.6 L641 820.6 L643.5 821.5 L646 822.4 L648.5 823.3 L651 824.2 L653.6 825 L656.1 825.9 L658.6 826.8 L661.1 827.7 L663.6 828.5 L666.1 829.4 L668.6 830.3 L671.1 831.1 L673.7 832 L676.2 832.9 L678.7 833.7 L681.2 834.6 L683.7 835.4 L686.2 836.3 L688.7 837.1 L691.3 838 L693.8 838.9 L696.3 839.7 L698.8 840.6 L701.3 841.4 L703.8 842.3 L706.3 843.1" fill="none" stroke="#4a00ff" stroke-width="3.3"/><path d="M363.5 661.8 L366 664.7 L368.5 667.6 L371 670.3 L373.5 673.1 L376 675.7 L378.5 678.4 L381 680.9 L383.5 683.5 L386 686 L388.5 688.4 L391 690.8 L393.5 693.1 L396 695.4 L398.5 697.7 L401 699.9 L403.5 702.1 L406 704.3 L408.5 706.4 L411 708.5 L413.5 710.5 L416 712.6 L418.5 714.6 L421 716.5 L423.5 718.5 L426 720.4 L428.5 722.3 L431 724.1 L433.5 726 L436 727.8 L438.5 729.6 L441 731.4 L443.5 733.2 L446 735 L448.6 736.7 L451.1 738.4 L453.6 740.1 L456.1 741.8 L458.6 743.5 L461.1 745.2 L463.6 746.8 L466.1 748.5 L468.6 750.1 L471.1 751.7 L473.6 753.3 L476.1 754.8 L478.6 756.4 L481.1 758 L483.6 759.5 L486.1 761 L488.6 762.5 L491.1 764 L493.6 765.5 L496.1 767 L498.6 768.4 L501.1 769.9 L503.6 771.3 L506.1 772.8 L508.6 774.2 L511.1 775.6 L513.6 777 L516.1 778.4 L518.6 779.8 L521.1 781.2 L523.6 782.5 L526.1 783.9 L528.6 785.2 L531.1 786.6 L533.6 787.9 L536.1 789.3 L538.6 790.6 L541.2 791.9 L543.7 793.2 L546.2 794.5 L548.7 795.8 L551.2 797.1 L553.7 798.3 L556.2 799.6 L558.7 800.8 L561.2 802.1 L563.7 803.3 L566.2 804.6 L568.7 805.8 L571.2 807 L573.7 808.2 L576.2 809.4 L578.7 810.6 L581.2 811.7 L583.7 812.9 L586.2 814 L588.7 815.2 L591.2 816.3 L593.7 817.4 L596.2 818.6 L598.7 819.7 L601.2 820.7 L603.7 821.8 L606.2 822.9 L608.7 824 L611.2 825 L613.7 826 L616.2 827.1 L618.7 828.1 L621.2 829.1 L623.7 830.1 L626.2 831.1 L628.7 832 L631.2 833 L633.8 833.9 L636.3 834.9 L638.8 835.8 L641.3 836.7 L643.8 837.6 L646.3 838.5 L648.8 839.4 L651.3 840.2 L653.8 841.1 L656.3 841.9 L658.8 842.7 L661.3 843.5 L663.8 844.3 L666.3 845.1 L668.8 845.9 L671.3 846.6 L673.8 847.4 L676.3 848.1 L678.8 848.8 L681.3 849.5 L683.8 850.2 L686.3 850.9 L688.8 851.6 L691.3 852.2 L693.8 852.8 L696.3 853.4 L698.8 854 L701.3 854.6 L703.8 855.2 L706.3 855.8" fill="none" stroke="#3a2af5" stroke-width="3.3"/><path d="M303.8 659.7 L306.3 663 L308.8 666.2 L311.3 669.4 L313.8 672.5 L316.3 675.6 L318.8 678.6 L321.3 681.5 L323.8 684.4 L326.3 687.3 L328.8 690 L331.3 692.7 L333.8 695.4 L336.3 698 L338.8 700.6 L341.3 703.1 L343.8 705.6 L346.3 708 L348.8 710.4 L351.3 712.7 L353.8 715 L356.3 717.3 L358.8 719.5 L361.3 721.6 L363.8 723.8 L366.3 725.9 L368.8 727.9 L371.3 730 L373.8 732 L376.3 733.9 L378.8 735.9 L381.3 737.8 L383.8 739.7 L386.3 741.5 L388.8 743.4 L391.3 745.2 L393.8 746.9 L396.3 748.7 L398.8 750.4 L401.3 752.2 L403.8 753.9 L406.3 755.5 L408.8 757.2 L411.3 758.8 L413.8 760.5 L416.3 762.1 L418.8 763.6 L421.3 765.2 L423.8 766.8 L426.3 768.3 L428.8 769.8 L431.3 771.3 L433.8 772.8 L436.3 774.3 L438.8 775.8 L441.3 777.2 L443.8 778.7 L446.3 780.1 L448.8 781.5 L451.3 782.9 L453.8 784.3 L456.3 785.7 L458.8 787.1 L461.3 788.5 L463.8 789.8 L466.3 791.2 L468.8 792.5 L471.3 793.9 L473.8 795.2 L476.3 796.5 L478.8 797.8 L481.3 799.1 L483.8 800.4 L486.3 801.7 L488.8 803 L491.3 804.2 L493.8 805.5 L496.3 806.7 L498.8 807.9 L501.3 809.2 L503.8 810.4 L506.3 811.6 L508.8 812.8 L511.3 814 L513.8 815.2 L516.3 816.4 L518.8 817.5 L521.3 818.7 L523.8 819.8 L526.3 821 L528.8 822.1 L531.3 823.2 L533.8 824.4 L536.3 825.5 L538.8 826.6 L541.3 827.7 L543.8 828.8 L546.3 829.9 L548.8 830.9 L551.3 832 L553.8 833.1 L556.3 834.1 L558.8 835.2 L561.3 836.2 L563.8 837.3 L566.3 838.3 L568.8 839.3 L571.3 840.3 L573.8 841.3 L576.3 842.3 L578.8 843.3 L581.3 844.3 L583.8 845.3 L586.3 846.3 L588.8 847.2 L591.3 848.2 L593.8 849.2 L596.3 850.1 L598.8 851 L601.3 851.9 L603.8 852.9 L606.3 853.8 L608.8 854.7 L611.3 855.5 L613.8 856.4 L616.3 857.3 L618.8 858.1 L621.3 859 L623.8 859.8 L626.3 860.6 L628.8 861.4 L631.3 862.2 L633.8 863 L636.3 863.8 L638.8 864.6 L641.3 865.3 L643.8 866.1 L646.3 866.8 L648.8 867.5 L651.3 868.2 L653.8 868.9 L656.3 869.6 L658.8 870.3 L661.3 870.9 L663.8 871.6 L666.3 872.2 L668.8 872.8 L671.3 873.4 L673.8 874 L676.3 874.5 L678.8 875.1 L681.3 875.6 L683.8 876.2 L686.3 876.7 L688.8 877.2 L691.3 877.7 L693.8 878.1 L696.3 878.6 L698.8 879 L701.3 879.4 L703.8 879.8 L706.3 880.2" fill="none" stroke="#2050f5" stroke-width="3.3"/><path d="M269.5 662.1 L272 666 L274.5 669.7 L277 673.3 L279.6 676.9 L282.1 680.3 L284.6 683.7 L287.1 686.9 L289.6 690.1 L292.1 693.2 L294.6 696.3 L297.1 699.2 L299.6 702.1 L302.2 705 L304.7 707.8 L307.2 710.5 L309.7 713.2 L312.2 715.8 L314.7 718.4 L317.2 720.9 L319.7 723.4 L322.2 725.9 L324.7 728.3 L327.3 730.7 L329.8 733.1 L332.3 735.4 L334.8 737.7 L337.3 740 L339.8 742.2 L342.3 744.4 L344.8 746.6 L347.3 748.7 L349.8 750.8 L352.4 752.9 L354.9 755 L357.4 757 L359.9 758.9 L362.4 760.9 L364.9 762.8 L367.4 764.7 L369.9 766.5 L372.4 768.3 L375 770.1 L377.5 771.8 L380 773.6 L382.5 775.2 L385 776.8 L387.5 778.4 L390 780 L392.5 781.5 L395 783 L397.5 784.4 L400.1 785.8 L402.6 787.2 L405.1 788.6 L407.6 789.9 L410.1 791.2 L412.6 792.4 L415.1 793.7 L417.6 794.9 L420.1 796.1 L422.7 797.3 L425.2 798.5 L427.7 799.6 L430.2 800.8 L432.7 801.9 L435.2 803 L437.7 804.1 L440.2 805.2 L442.7 806.3 L445.2 807.4 L447.8 808.4 L450.3 809.5 L452.8 810.6 L455.3 811.6 L457.8 812.7 L460.3 813.8 L462.8 814.8 L465.3 815.9 L467.8 816.9 L470.3 817.9 L472.9 819 L475.4 820 L477.9 821 L480.4 822 L482.9 823.1 L485.4 824.1 L487.9 825.1 L490.4 826.1 L492.9 827.1 L495.5 828.1 L498 829.1 L500.5 830.1 L503 831 L505.5 832 L508 833 L510.5 834 L513 834.9 L515.5 835.9 L518 836.8 L520.6 837.8 L523.1 838.7 L525.6 839.7 L528.1 840.6 L530.6 841.5 L533.1 842.4 L535.6 843.4 L538.1 844.3 L540.6 845.2 L543.2 846.1 L545.7 847 L548.2 847.9 L550.7 848.8 L553.2 849.7 L555.7 850.6 L558.2 851.4 L560.7 852.3 L563.2 853.2 L565.7 854 L568.3 854.9 L570.8 855.7 L573.3 856.6 L575.8 857.4 L578.3 858.3 L580.8 859.1 L583.3 859.9 L585.8 860.7 L588.3 861.6 L590.9 862.4 L593.4 863.2 L595.9 864 L598.4 864.8 L600.9 865.6 L603.4 866.3 L605.9 867.1 L608.4 867.9 L610.9 868.7 L613.4 869.4 L616 870.2 L618.5 870.9 L621 871.7 L623.5 872.4 L626 873.1 L628.5 873.9 L631 874.6 L633.5 875.3 L636 876 L638.5 876.7 L641.1 877.4 L643.6 878.1 L646.1 878.8 L648.6 879.5 L651.1 880.2 L653.6 880.9 L656.1 881.5 L658.6 882.2 L661.1 882.9 L663.7 883.5 L666.2 884.2 L668.7 884.8 L671.2 885.4 L673.7 886.1 L676.2 886.7 L678.7 887.3 L681.2 887.9 L683.7 888.5 L686.2 889.1 L688.8 889.7 L691.3 890.3 L693.8 890.9 L696.3 891.4 L698.8 892 L701.3 892.6 L703.8 893.1 L706.3 893.7" fill="none" stroke="#1478f5" stroke-width="3.3"/><path d="M238.4 662.2 L240.9 666.5 L243.4 670.7 L245.9 674.9 L248.4 678.9 L250.9 682.9 L253.4 686.7 L255.9 690.5 L258.4 694.2 L260.9 697.9 L263.4 701.4 L265.9 704.9 L268.4 708.3 L270.9 711.6 L273.4 714.8 L275.9 718 L278.4 721.1 L280.9 724.1 L283.4 727 L285.9 729.9 L288.4 732.7 L290.9 735.5 L293.4 738.2 L295.9 740.8 L298.4 743.4 L300.9 745.9 L303.4 748.3 L305.9 750.7 L308.4 753 L310.9 755.3 L313.4 757.5 L315.9 759.7 L318.5 761.8 L321 763.9 L323.5 765.9 L326 767.8 L328.5 769.8 L331 771.6 L333.5 773.5 L336 775.3 L338.5 777 L341 778.7 L343.5 780.4 L346 782 L348.5 783.6 L351 785.2 L353.5 786.7 L356 788.2 L358.5 789.7 L361 791.1 L363.5 792.5 L366 793.9 L368.5 795.3 L371 796.6 L373.5 797.9 L376 799.2 L378.5 800.5 L381 801.7 L383.5 803 L386 804.2 L388.5 805.4 L391 806.6 L393.5 807.7 L396 808.9 L398.5 810 L401 811.2 L403.5 812.3 L406 813.4 L408.5 814.6 L411 815.7 L413.5 816.8 L416 817.9 L418.5 818.9 L421.1 820 L423.6 821.1 L426.1 822.1 L428.6 823.2 L431.1 824.2 L433.6 825.3 L436.1 826.3 L438.6 827.3 L441.1 828.3 L443.6 829.3 L446.1 830.3 L448.6 831.3 L451.1 832.3 L453.6 833.3 L456.1 834.2 L458.6 835.2 L461.1 836.1 L463.6 837.1 L466.1 838 L468.6 838.9 L471.1 839.8 L473.6 840.7 L476.1 841.6 L478.6 842.5 L481.1 843.4 L483.6 844.3 L486.1 845.2 L488.6 846 L491.1 846.9 L493.6 847.8 L496.1 848.6 L498.6 849.4 L501.1 850.3 L503.6 851.1 L506.1 851.9 L508.6 852.7 L511.1 853.5 L513.6 854.3 L516.1 855.1 L518.6 855.9 L521.1 856.6 L523.7 857.4 L526.2 858.2 L528.7 858.9 L531.2 859.6 L533.7 860.4 L536.2 861.1 L538.7 861.8 L541.2 862.6 L543.7 863.3 L546.2 864 L548.7 864.7 L551.2 865.4 L553.7 866 L556.2 866.7 L558.7 867.4 L561.2 868 L563.7 868.7 L566.2 869.4 L568.7 870 L571.2 870.6 L573.7 871.3 L576.2 871.9 L578.7 872.5 L581.2 873.1 L583.7 873.7 L586.2 874.3 L588.7 874.9 L591.2 875.5 L593.7 876.1 L596.2 876.7 L598.7 877.2 L601.2 877.8 L603.7 878.4 L606.2 878.9 L608.7 879.5 L611.2 880 L613.7 880.5 L616.2 881.1 L618.7 881.6 L621.2 882.1 L623.7 882.6 L626.3 883.1 L628.8 883.6 L631.3 884.1 L633.8 884.6 L636.3 885.1 L638.8 885.6 L641.3 886 L643.8 886.5 L646.3 887 L648.8 887.4 L651.3 887.9 L653.8 888.3 L656.3 888.7 L658.8 889.2 L661.3 889.6 L663.8 890 L666.3 890.4 L668.8 890.9 L671.3 891.3 L673.8 891.7 L676.3 892.1 L678.8 892.5 L681.3 892.8 L683.8 893.2 L686.3 893.6 L688.8 894 L691.3 894.3 L693.8 894.7 L696.3 895.1 L698.8 895.4 L701.3 895.8 L703.8 896.1 L706.3 896.4" fill="none" stroke="#0a96f0" stroke-width="3.3"/><path d="M210.3 670.9 L212.9 672.2 L215.4 674.2 L217.9 676.7 L220.4 679.7 L222.9 683.1 L225.4 686.7 L227.9 690.6 L230.4 694.4 L232.9 698.3 L235.4 702.1 L237.9 705.9 L240.4 709.6 L242.9 713.2 L245.4 716.7 L247.9 720.1 L250.4 723.4 L252.9 726.6 L255.4 729.6 L257.9 732.6 L260.4 735.5 L263 738.3 L265.5 741 L268 743.6 L270.5 746.1 L273 748.6 L275.5 751 L278 753.4 L280.5 755.7 L283 757.9 L285.5 760.1 L288 762.3 L290.5 764.4 L293 766.4 L295.5 768.5 L298 770.5 L300.5 772.4 L303 774.3 L305.5 776.2 L308 778.1 L310.5 779.9 L313 781.7 L315.6 783.4 L318.1 785.1 L320.6 786.8 L323.1 788.5 L325.6 790.2 L328.1 791.8 L330.6 793.4 L333.1 794.9 L335.6 796.5 L338.1 798 L340.6 799.6 L343.1 801.1 L345.6 802.5 L348.1 804 L350.6 805.4 L353.1 806.9 L355.6 808.3 L358.1 809.7 L360.6 811 L363.1 812.4 L365.7 813.7 L368.2 815 L370.7 816.3 L373.2 817.6 L375.7 818.9 L378.2 820.1 L380.7 821.4 L383.2 822.6 L385.7 823.8 L388.2 825 L390.7 826.2 L393.2 827.3 L395.7 828.5 L398.2 829.6 L400.7 830.7 L403.2 831.8 L405.7 832.9 L408.2 834 L410.7 835 L413.2 836.1 L415.8 837.1 L418.3 838.1 L420.8 839.1 L423.3 840.1 L425.8 841.1 L428.3 842.1 L430.8 843 L433.3 844 L435.8 844.9 L438.3 845.8 L440.8 846.7 L443.3 847.6 L445.8 848.5 L448.3 849.4 L450.8 850.3 L453.3 851.1 L455.8 852 L458.3 852.8 L460.8 853.6 L463.3 854.4 L465.9 855.2 L468.4 856 L470.9 856.8 L473.4 857.6 L475.9 858.4 L478.4 859.1 L480.9 859.9 L483.4 860.6 L485.9 861.4 L488.4 862.1 L490.9 862.8 L493.4 863.6 L495.9 864.3 L498.4 865 L500.9 865.7 L503.4 866.4 L505.9 867.1 L508.4 867.7 L510.9 868.4 L513.4 869.1 L516 869.7 L518.5 870.4 L521 871 L523.5 871.7 L526 872.3 L528.5 873 L531 873.6 L533.5 874.2 L536 874.9 L538.5 875.5 L541 876.1 L543.5 876.7 L546 877.3 L548.5 877.9 L551 878.5 L553.5 879.2 L556 879.8 L558.5 880.4 L561 880.9 L563.5 881.5 L566.1 882.1 L568.6 882.7 L571.1 883.3 L573.6 883.9 L576.1 884.4 L578.6 885 L581.1 885.6 L583.6 886.1 L586.1 886.7 L588.6 887.2 L591.1 887.8 L593.6 888.3 L596.1 888.9 L598.6 889.4 L601.1 889.9 L603.6 890.4 L606.1 891 L608.6 891.5 L611.1 892 L613.6 892.5 L616.2 892.9 L618.7 893.4 L621.2 893.9 L623.7 894.4 L626.2 894.8 L628.7 895.3 L631.2 895.7 L633.7 896.2 L636.2 896.6 L638.7 897.1 L641.2 897.5 L643.7 897.9 L646.2 898.3 L648.7 898.7 L651.2 899.1 L653.7 899.5 L656.2 899.8 L658.7 900.2 L661.2 900.5 L663.7 900.9 L666.3 901.2 L668.8 901.6 L671.3 901.9 L673.8 902.2 L676.3 902.5 L678.8 902.8 L681.3 903 L683.8 903.3 L686.3 903.6 L688.8 903.8 L691.3 904.1 L693.8 904.3 L696.3 904.5 L698.8 904.7 L701.3 904.9 L703.8 905.1 L706.3 905.3" fill="none" stroke="#00b9f5" stroke-width="3.3"/><path d="M182.7 745.8 L185.2 747 L187.7 748.4 L190.2 750 L192.7 751.8 L195.2 753.6 L197.7 755.6 L200.2 757.7 L202.7 759.9 L205.2 762.1 L207.7 764.3 L210.2 766.6 L212.7 768.9 L215.2 771.1 L217.7 773.4 L220.2 775.5 L222.8 777.7 L225.3 779.7 L227.8 781.7 L230.3 783.6 L232.8 785.5 L235.3 787.3 L237.8 788.9 L240.3 790.6 L242.8 792.1 L245.3 793.6 L247.8 795 L250.3 796.4 L252.8 797.8 L255.3 799.1 L257.8 800.4 L260.3 801.6 L262.8 802.9 L265.3 804.1 L267.9 805.3 L270.4 806.5 L272.9 807.7 L275.4 808.9 L277.9 810.1 L280.4 811.3 L282.9 812.5 L285.4 813.7 L287.9 814.8 L290.4 816 L292.9 817.1 L295.4 818.3 L297.9 819.4 L300.4 820.5 L302.9 821.7 L305.4 822.8 L307.9 823.9 L310.4 825 L313 826.1 L315.5 827.2 L318 828.2 L320.5 829.3 L323 830.4 L325.5 831.4 L328 832.5 L330.5 833.5 L333 834.6 L335.5 835.6 L338 836.6 L340.5 837.7 L343 838.7 L345.5 839.7 L348 840.7 L350.5 841.7 L353 842.6 L355.5 843.6 L358.1 844.6 L360.6 845.6 L363.1 846.5 L365.6 847.5 L368.1 848.4 L370.6 849.4 L373.1 850.3 L375.6 851.2 L378.1 852.1 L380.6 853 L383.1 853.9 L385.6 854.8 L388.1 855.7 L390.6 856.6 L393.1 857.5 L395.6 858.4 L398.1 859.2 L400.6 860.1 L403.2 860.9 L405.7 861.8 L408.2 862.6 L410.7 863.5 L413.2 864.3 L415.7 865.1 L418.2 865.9 L420.7 866.7 L423.2 867.5 L425.7 868.3 L428.2 869.1 L430.7 869.9 L433.2 870.7 L435.7 871.5 L438.2 872.2 L440.7 873 L443.2 873.7 L445.7 874.5 L448.3 875.2 L450.8 876 L453.3 876.7 L455.8 877.4 L458.3 878.1 L460.8 878.8 L463.3 879.5 L465.8 880.2 L468.3 880.9 L470.8 881.6 L473.3 882.3 L475.8 883 L478.3 883.6 L480.8 884.3 L483.3 885 L485.8 885.6 L488.3 886.3 L490.9 886.9 L493.4 887.5 L495.9 888.2 L498.4 888.8 L500.9 889.4 L503.4 890 L505.9 890.6 L508.4 891.2 L510.9 891.8 L513.4 892.4 L515.9 893 L518.4 893.5 L520.9 894.1 L523.4 894.7 L525.9 895.2 L528.4 895.8 L530.9 896.3 L533.4 896.9 L536 897.4 L538.5 897.9 L541 898.5 L543.5 899 L546 899.5 L548.5 900 L551 900.5 L553.5 901 L556 901.5 L558.5 902 L561 902.5 L563.5 903 L566 903.4 L568.5 903.9 L571 904.3 L573.5 904.8 L576 905.3 L578.5 905.7 L581.1 906.1 L583.6 906.6 L586.1 907 L588.6 907.4 L591.1 907.8 L593.6 908.3 L596.1 908.7 L598.6 909.1 L601.1 909.5 L603.6 909.9 L606.1 910.2 L608.6 910.6 L611.1 911 L613.6 911.4 L616.1 911.7 L618.6 912.1 L621.1 912.5 L623.6 912.8 L626.2 913.2 L628.7 913.5 L631.2 913.8 L633.7 914.2 L636.2 914.5 L638.7 914.8 L641.2 915.1 L643.7 915.4 L646.2 915.8 L648.7 916.1 L651.2 916.4 L653.7 916.6 L656.2 916.9 L658.7 917.2 L661.2 917.5 L663.7 917.8 L666.2 918 L668.7 918.3 L671.3 918.6 L673.8 918.8 L676.3 919.1 L678.8 919.3 L681.3 919.6 L683.8 919.8 L686.3 920 L688.8 920.3 L691.3 920.5 L693.8 920.7 L696.3 920.9 L698.8 921.1 L701.3 921.3 L703.8 921.5 L706.3 921.7" fill="none" stroke="#00e1ff" stroke-width="3.3"/><path d="M180.1 763.9 L182.6 764.7 L185.1 766 L187.6 767.8 L190.1 769.8 L192.6 772.1 L195.1 774.5 L197.6 776.9 L200.1 779.3 L202.6 781.6 L205.1 783.8 L207.6 786.1 L210.1 788.2 L212.6 790.3 L215.2 792.3 L217.7 794.3 L220.2 796.2 L222.7 798 L225.2 799.8 L227.7 801.5 L230.2 803.1 L232.7 804.7 L235.2 806.3 L237.7 807.9 L240.2 809.4 L242.7 810.8 L245.2 812.3 L247.7 813.7 L250.2 815.1 L252.7 816.5 L255.2 817.8 L257.8 819.1 L260.3 820.5 L262.8 821.8 L265.3 823.1 L267.8 824.3 L270.3 825.6 L272.8 826.8 L275.3 828 L277.8 829.2 L280.3 830.4 L282.8 831.6 L285.3 832.8 L287.8 833.9 L290.3 835.1 L292.8 836.2 L295.3 837.3 L297.9 838.4 L300.4 839.5 L302.9 840.6 L305.4 841.6 L307.9 842.7 L310.4 843.7 L312.9 844.8 L315.4 845.8 L317.9 846.8 L320.4 847.8 L322.9 848.8 L325.4 849.8 L327.9 850.8 L330.4 851.8 L332.9 852.8 L335.4 853.7 L337.9 854.7 L340.5 855.6 L343 856.6 L345.5 857.5 L348 858.5 L350.5 859.4 L353 860.3 L355.5 861.3 L358 862.2 L360.5 863.1 L363 864 L365.5 864.9 L368 865.8 L370.5 866.6 L373 867.5 L375.5 868.4 L378 869.3 L380.5 870.1 L383.1 871 L385.6 871.8 L388.1 872.7 L390.6 873.5 L393.1 874.3 L395.6 875.1 L398.1 876 L400.6 876.8 L403.1 877.6 L405.6 878.4 L408.1 879.2 L410.6 880 L413.1 880.8 L415.6 881.5 L418.1 882.3 L420.6 883.1 L423.2 883.8 L425.7 884.6 L428.2 885.3 L430.7 886.1 L433.2 886.8 L435.7 887.6 L438.2 888.3 L440.7 889 L443.2 889.7 L445.7 890.4 L448.2 891.1 L450.7 891.9 L453.2 892.5 L455.7 893.2 L458.2 893.9 L460.7 894.6 L463.2 895.3 L465.8 896 L468.3 896.6 L470.8 897.3 L473.3 897.9 L475.8 898.6 L478.3 899.2 L480.8 899.9 L483.3 900.5 L485.8 901.1 L488.3 901.8 L490.8 902.4 L493.3 903 L495.8 903.6 L498.3 904.2 L500.8 904.8 L503.3 905.4 L505.8 906 L508.4 906.6 L510.9 907.2 L513.4 907.7 L515.9 908.3 L518.4 908.9 L520.9 909.4 L523.4 910 L525.9 910.5 L528.4 911.1 L530.9 911.6 L533.4 912.2 L535.9 912.7 L538.4 913.2 L540.9 913.7 L543.4 914.3 L545.9 914.8 L548.5 915.3 L551 915.8 L553.5 916.3 L556 916.8 L558.5 917.3 L561 917.8 L563.5 918.3 L566 918.7 L568.5 919.2 L571 919.7 L573.5 920.2 L576 920.6 L578.5 921.1 L581 921.5 L583.5 922 L586 922.4 L588.5 922.9 L591.1 923.3 L593.6 923.7 L596.1 924.2 L598.6 924.6 L601.1 925 L603.6 925.4 L606.1 925.8 L608.6 926.2 L611.1 926.6 L613.6 927 L616.1 927.4 L618.6 927.8 L621.1 928.2 L623.6 928.6 L626.1 929 L628.6 929.4 L631.1 929.7 L633.7 930.1 L636.2 930.5 L638.7 930.8 L641.2 931.2 L643.7 931.5 L646.2 931.9 L648.7 932.2 L651.2 932.6 L653.7 932.9 L656.2 933.3 L658.7 933.6 L661.2 933.9 L663.7 934.2 L666.2 934.6 L668.7 934.9 L671.2 935.2 L673.8 935.5 L676.3 935.8 L678.8 936.1 L681.3 936.4 L683.8 936.7 L686.3 937 L688.8 937.3 L691.3 937.6 L693.8 937.9 L696.3 938.1 L698.8 938.4 L701.3 938.7 L703.8 939 L706.3 939.2" fill="none" stroke="#00f5c8" stroke-width="3.3"/><path d="M209.5 835.1 L212 835 L214.5 834.9 L217 834.9 L219.5 835 L222 835.2 L224.5 835.5 L227 835.9 L229.6 836.3 L232.1 836.8 L234.6 837.3 L237.1 837.9 L239.6 838.6 L242.1 839.3 L244.6 840 L247.1 840.8 L249.6 841.6 L252.1 842.4 L254.6 843.3 L257.2 844.1 L259.7 845 L262.2 845.9 L264.7 846.8 L267.2 847.7 L269.7 848.6 L272.2 849.5 L274.7 850.4 L277.2 851.3 L279.7 852.1 L282.3 853 L284.8 853.9 L287.3 854.7 L289.8 855.6 L292.3 856.4 L294.8 857.3 L297.3 858.1 L299.8 858.9 L302.3 859.8 L304.8 860.6 L307.3 861.4 L309.9 862.2 L312.4 863 L314.9 863.8 L317.4 864.5 L319.9 865.3 L322.4 866.1 L324.9 866.9 L327.4 867.6 L329.9 868.4 L332.4 869.2 L334.9 869.9 L337.5 870.7 L340 871.4 L342.5 872.2 L345 873 L347.5 873.7 L350 874.5 L352.5 875.2 L355 876 L357.5 876.8 L360 877.5 L362.6 878.3 L365.1 879.1 L367.6 879.9 L370.1 880.7 L372.6 881.4 L375.1 882.2 L377.6 883 L380.1 883.9 L382.6 884.7 L385.1 885.5 L387.6 886.3 L390.2 887.2 L392.7 888 L395.2 888.9 L397.7 889.7 L400.2 890.6 L402.7 891.5 L405.2 892.4 L407.7 893.3 L410.2 894.2 L412.7 895.2 L415.2 896.1 L417.8 897 L420.3 898 L422.8 898.9 L425.3 899.9 L427.8 900.8 L430.3 901.8 L432.8 902.8 L435.3 903.7 L437.8 904.7 L440.3 905.6 L442.8 906.6 L445.4 907.6 L447.9 908.5 L450.4 909.5 L452.9 910.4 L455.4 911.4 L457.9 912.3 L460.4 913.2 L462.9 914.2 L465.4 915.1 L467.9 916 L470.5 916.9 L473 917.8 L475.5 918.7 L478 919.5 L480.5 920.4 L483 921.2 L485.5 922.1 L488 922.9 L490.5 923.7 L493 924.5 L495.5 925.3 L498.1 926 L500.6 926.8 L503.1 927.5 L505.6 928.3 L508.1 929 L510.6 929.7 L513.1 930.4 L515.6 931.1 L518.1 931.7 L520.6 932.4 L523.1 933.1 L525.7 933.7 L528.2 934.3 L530.7 934.9 L533.2 935.5 L535.7 936.1 L538.2 936.7 L540.7 937.3 L543.2 937.9 L545.7 938.4 L548.2 939 L550.8 939.5 L553.3 940 L555.8 940.6 L558.3 941.1 L560.8 941.6 L563.3 942.1 L565.8 942.6 L568.3 943 L570.8 943.5 L573.3 944 L575.8 944.5 L578.4 944.9 L580.9 945.4 L583.4 945.8 L585.9 946.3 L588.4 946.7 L590.9 947.1 L593.4 947.6 L595.9 948 L598.4 948.4 L600.9 948.8 L603.4 949.2 L606 949.7 L608.5 950.1 L611 950.5 L613.5 950.9 L616 951.3 L618.5 951.7 L621 952.1 L623.5 952.5 L626 952.9 L628.5 953.4 L631 953.8 L633.6 954.2 L636.1 954.6 L638.6 955 L641.1 955.4 L643.6 955.9 L646.1 956.3 L648.6 956.7 L651.1 957.2 L653.6 957.6 L656.1 958 L658.7 958.5 L661.2 958.9 L663.7 959.4 L666.2 959.9 L668.7 960.3 L671.2 960.8 L673.7 961.3 L676.2 961.8 L678.7 962.3 L681.2 962.8 L683.7 963.3 L686.3 963.9 L688.8 964.4 L691.3 964.9 L693.8 965.5 L696.3 966.1 L698.8 966.6 L701.3 967.2 L703.8 967.8 L706.3 968.4" fill="none" stroke="#00f064" stroke-width="3.3"/><path d="M170.6 910.8 L173.1 911 L175.6 911.3 L178.1 911.5 L180.6 911.7 L183.1 912 L185.6 912.2 L188.1 912.5 L190.6 912.7 L193.1 912.9 L195.6 913.2 L198.1 913.4 L200.6 913.6 L203.1 913.9 L205.6 914.1 L208.1 914.3 L210.6 914.6 L213.1 914.8 L215.6 915.1 L218.1 915.3 L220.6 915.5 L223.1 915.8 L225.6 916 L228.1 916.3 L230.6 916.5 L233.1 916.8 L235.6 917 L238.2 917.3 L240.7 917.5 L243.2 917.8 L245.7 918 L248.2 918.3 L250.7 918.6 L253.2 918.8 L255.7 919.1 L258.2 919.4 L260.7 919.6 L263.2 919.9 L265.7 920.2 L268.2 920.5 L270.7 920.8 L273.2 921.1 L275.7 921.4 L278.2 921.7 L280.7 922 L283.2 922.3 L285.7 922.6 L288.2 922.9 L290.7 923.2 L293.2 923.6 L295.7 923.9 L298.2 924.2 L300.7 924.6 L303.2 924.9 L305.7 925.3 L308.3 925.7 L310.8 926 L313.3 926.4 L315.8 926.8 L318.3 927.1 L320.8 927.5 L323.3 927.9 L325.8 928.3 L328.3 928.7 L330.8 929.1 L333.3 929.6 L335.8 930 L338.3 930.4 L340.8 930.8 L343.3 931.3 L345.8 931.7 L348.3 932.2 L350.8 932.6 L353.3 933.1 L355.8 933.5 L358.3 934 L360.8 934.5 L363.3 934.9 L365.8 935.4 L368.3 935.9 L370.8 936.4 L373.3 936.9 L375.9 937.4 L378.4 937.9 L380.9 938.3 L383.4 938.8 L385.9 939.4 L388.4 939.9 L390.9 940.4 L393.4 940.9 L395.9 941.4 L398.4 941.9 L400.9 942.4 L403.4 942.9 L405.9 943.4 L408.4 944 L410.9 944.5 L413.4 945 L415.9 945.5 L418.4 946.1 L420.9 946.6 L423.4 947.1 L425.9 947.7 L428.4 948.2 L430.9 948.7 L433.4 949.2 L435.9 949.8 L438.4 950.3 L440.9 950.8 L443.4 951.4 L446 951.9 L448.5 952.5 L451 953 L453.5 953.5 L456 954.1 L458.5 954.6 L461 955.1 L463.5 955.7 L466 956.2 L468.5 956.7 L471 957.3 L473.5 957.8 L476 958.3 L478.5 958.9 L481 959.4 L483.5 960 L486 960.5 L488.5 961 L491 961.5 L493.5 962.1 L496 962.6 L498.5 963.1 L501 963.7 L503.5 964.2 L506 964.7 L508.5 965.2 L511 965.8 L513.6 966.3 L516.1 966.8 L518.6 967.3 L521.1 967.8 L523.6 968.3 L526.1 968.8 L528.6 969.4 L531.1 969.9 L533.6 970.4 L536.1 970.9 L538.6 971.4 L541.1 971.9 L543.6 972.4 L546.1 972.9 L548.6 973.4 L551.1 973.8 L553.6 974.3 L556.1 974.8 L558.6 975.3 L561.1 975.8 L563.6 976.2 L566.1 976.7 L568.6 977.2 L571.1 977.6 L573.6 978.1 L576.1 978.6 L578.6 979 L581.1 979.5 L583.7 979.9 L586.2 980.4 L588.7 980.8 L591.2 981.2 L593.7 981.7 L596.2 982.1 L598.7 982.5 L601.2 983 L603.7 983.4 L606.2 983.8 L608.7 984.2 L611.2 984.6 L613.7 985 L616.2 985.4 L618.7 985.8 L621.2 986.2 L623.7 986.6 L626.2 986.9 L628.7 987.3 L631.2 987.7 L633.7 988 L636.2 988.4 L638.7 988.7 L641.2 989.1 L643.7 989.4 L646.2 989.8 L648.7 990.1 L651.2 990.4 L653.8 990.7 L656.3 991.1 L658.8 991.4 L661.3 991.7 L663.8 992 L666.3 992.3 L668.8 992.5 L671.3 992.8 L673.8 993.1 L676.3 993.4 L678.8 993.6 L681.3 993.9 L683.8 994.1 L686.3 994.4 L688.8 994.6 L691.3 994.8 L693.8 995 L696.3 995.3 L698.8 995.5 L701.3 995.7 L703.8 995.9 L706.3 996" fill="none" stroke="#00f032" stroke-width="3.3"/><path d="M141.1 923 L143.6 923.5 L146.1 924 L148.6 924.5 L151.1 925 L153.6 925.5 L156.1 925.9 L158.6 926.4 L161.1 926.8 L163.6 927.2 L166.2 927.7 L168.7 928.1 L171.2 928.5 L173.7 928.8 L176.2 929.2 L178.7 929.6 L181.2 930 L183.7 930.3 L186.2 930.7 L188.7 931 L191.2 931.3 L193.7 931.7 L196.2 932 L198.7 932.3 L201.2 932.6 L203.7 932.9 L206.2 933.2 L208.7 933.5 L211.2 933.8 L213.7 934.1 L216.2 934.3 L218.7 934.6 L221.2 934.9 L223.7 935.1 L226.2 935.4 L228.7 935.7 L231.2 935.9 L233.7 936.2 L236.2 936.4 L238.7 936.7 L241.2 936.9 L243.7 937.2 L246.2 937.4 L248.7 937.7 L251.2 937.9 L253.7 938.1 L256.2 938.4 L258.7 938.6 L261.2 938.9 L263.7 939.1 L266.2 939.4 L268.7 939.6 L271.2 939.8 L273.7 940.1 L276.2 940.4 L278.7 940.6 L281.2 940.9 L283.7 941.1 L286.2 941.4 L288.7 941.6 L291.2 941.9 L293.7 942.2 L296.2 942.5 L298.7 942.7 L301.2 943 L303.7 943.3 L306.2 943.6 L308.7 943.9 L311.2 944.2 L313.7 944.5 L316.2 944.8 L318.7 945.1 L321.2 945.4 L323.7 945.7 L326.2 946 L328.7 946.3 L331.2 946.7 L333.7 947 L336.2 947.3 L338.7 947.6 L341.2 948 L343.7 948.3 L346.2 948.7 L348.7 949 L351.2 949.4 L353.7 949.7 L356.2 950.1 L358.7 950.5 L361.2 950.8 L363.7 951.2 L366.2 951.6 L368.7 952 L371.2 952.4 L373.7 952.8 L376.2 953.2 L378.7 953.6 L381.2 954 L383.7 954.4 L386.2 954.8 L388.7 955.2 L391.2 955.6 L393.7 956.1 L396.2 956.5 L398.7 956.9 L401.2 957.4 L403.7 957.8 L406.2 958.3 L408.7 958.7 L411.2 959.2 L413.7 959.6 L416.2 960.1 L418.7 960.6 L421.2 961 L423.7 961.5 L426.2 962 L428.7 962.5 L431.2 962.9 L433.7 963.4 L436.2 963.9 L438.7 964.4 L441.2 964.9 L443.7 965.4 L446.2 965.9 L448.7 966.4 L451.2 966.9 L453.7 967.4 L456.2 967.9 L458.7 968.4 L461.2 968.9 L463.7 969.4 L466.2 969.9 L468.8 970.4 L471.3 970.9 L473.8 971.4 L476.3 971.9 L478.8 972.4 L481.3 972.9 L483.8 973.4 L486.3 974 L488.8 974.5 L491.3 975 L493.8 975.5 L496.3 976 L498.8 976.5 L501.3 977 L503.8 977.5 L506.3 978 L508.8 978.5 L511.3 979 L513.8 979.5 L516.3 980 L518.8 980.5 L521.3 981 L523.8 981.5 L526.3 982 L528.8 982.5 L531.3 983 L533.8 983.5 L536.3 984 L538.8 984.4 L541.3 984.9 L543.8 985.4 L546.3 985.9 L548.8 986.3 L551.3 986.8 L553.8 987.3 L556.3 987.7 L558.8 988.2 L561.3 988.7 L563.8 989.1 L566.3 989.6 L568.8 990 L571.3 990.4 L573.8 990.9 L576.3 991.3 L578.8 991.7 L581.3 992.2 L583.8 992.6 L586.3 993 L588.8 993.4 L591.3 993.8 L593.8 994.2 L596.3 994.6 L598.8 995 L601.3 995.4 L603.8 995.7 L606.3 996.1 L608.8 996.5 L611.3 996.8 L613.8 997.2 L616.3 997.5 L618.8 997.9 L621.3 998.2 L623.8 998.5 L626.3 998.9 L628.8 999.2 L631.3 999.5 L633.8 999.8 L636.3 1000.1 L638.8 1000.4 L641.3 1000.6 L643.8 1000.9 L646.3 1001.2 L648.8 1001.4 L651.3 1001.7 L653.8 1001.9 L656.3 1002.1 L658.8 1002.4 L661.3 1002.6 L663.8 1002.8 L666.3 1003 L668.8 1003.2 L671.3 1003.4 L673.8 1003.5 L676.3 1003.7 L678.8 1003.8 L681.3 1004 L683.8 1004.1 L686.3 1004.3 L688.8 1004.4 L691.3 1004.5 L693.8 1004.6 L696.3 1004.7 L698.8 1004.7 L701.3 1004.8 L703.8 1004.9 L706.3 1004.9" fill="none" stroke="#1ef000" stroke-width="3.3"/><path d="M125.2 1075.1 L127.8 1075.3 L130.3 1075.5 L132.8 1075.6 L135.3 1075.8 L137.8 1075.9 L140.3 1076 L142.8 1076.1 L145.3 1076.2 L147.8 1076.2 L150.3 1076.3 L152.8 1076.4 L155.3 1076.4 L157.8 1076.4 L160.4 1076.5 L162.9 1076.5 L165.4 1076.5 L167.9 1076.5 L170.4 1076.5 L172.9 1076.5 L175.4 1076.5 L177.9 1076.5 L180.4 1076.5 L182.9 1076.5 L185.4 1076.5 L187.9 1076.5 L190.4 1076.4 L193 1076.4 L195.5 1076.4 L198 1076.4 L200.5 1076.3 L203 1076.3 L205.5 1076.3 L208 1076.2 L210.5 1076.2 L213 1076.1 L215.5 1076.1 L218 1076 L220.5 1075.9 L223 1075.9 L225.6 1075.8 L228.1 1075.7 L230.6 1075.7 L233.1 1075.6 L235.6 1075.5 L238.1 1075.4 L240.6 1075.3 L243.1 1075.2 L245.6 1075.1 L248.1 1075 L250.6 1074.9 L253.1 1074.8 L255.6 1074.7 L258.1 1074.6 L260.7 1074.5 L263.2 1074.4 L265.7 1074.3 L268.2 1074.2 L270.7 1074.1 L273.2 1074 L275.7 1073.9 L278.2 1073.7 L280.7 1073.6 L283.2 1073.5 L285.7 1073.4 L288.2 1073.3 L290.7 1073.2 L293.3 1073.1 L295.8 1073 L298.3 1072.9 L300.8 1072.8 L303.3 1072.7 L305.8 1072.6 L308.3 1072.5 L310.8 1072.4 L313.3 1072.3 L315.8 1072.2 L318.3 1072.1 L320.8 1072 L323.3 1071.9 L325.9 1071.8 L328.4 1071.8 L330.9 1071.7 L333.4 1071.6 L335.9 1071.5 L338.4 1071.4 L340.9 1071.3 L343.4 1071.3 L345.9 1071.2 L348.4 1071.1 L350.9 1071.1 L353.4 1071 L355.9 1070.9 L358.5 1070.9 L361 1070.8 L363.5 1070.8 L366 1070.7 L368.5 1070.6 L371 1070.6 L373.5 1070.5 L376 1070.5 L378.5 1070.5 L381 1070.4 L383.5 1070.4 L386 1070.3 L388.5 1070.3 L391 1070.3 L393.6 1070.2 L396.1 1070.2 L398.6 1070.2 L401.1 1070.2 L403.6 1070.1 L406.1 1070.1 L408.6 1070.1 L411.1 1070.1 L413.6 1070.1 L416.1 1070.1 L418.6 1070 L421.1 1070 L423.6 1070 L426.2 1070 L428.7 1070 L431.2 1070 L433.7 1070 L436.2 1070 L438.7 1070 L441.2 1070 L443.7 1070 L446.2 1069.9 L448.7 1069.9 L451.2 1069.9 L453.7 1069.9 L456.2 1069.9 L458.8 1069.9 L461.3 1069.8 L463.8 1069.8 L466.3 1069.8 L468.8 1069.7 L471.3 1069.7 L473.8 1069.6 L476.3 1069.6 L478.8 1069.5 L481.3 1069.5 L483.8 1069.4 L486.3 1069.4 L488.8 1069.3 L491.4 1069.3 L493.9 1069.3 L496.4 1069.2 L498.9 1069.2 L501.4 1069.2 L503.9 1069.1 L506.4 1069.1 L508.9 1069.1 L511.4 1069 L513.9 1069 L516.4 1069 L518.9 1068.9 L521.4 1068.9 L523.9 1068.9 L526.5 1068.9 L529 1068.8 L531.5 1068.8 L534 1068.8 L536.5 1068.8 L539 1068.7 L541.5 1068.7 L544 1068.7 L546.5 1068.7 L549 1068.7 L551.5 1068.7 L554 1068.7 L556.5 1068.7 L559.1 1068.7 L561.6 1068.8 L564.1 1068.8 L566.6 1068.8 L569.1 1068.8 L571.6 1068.9 L574.1 1068.9 L576.6 1069 L579.1 1069 L581.6 1069 L584.1 1069.1 L586.6 1069.1 L589.1 1069.2 L591.7 1069.2 L594.2 1069.3 L596.7 1069.3 L599.2 1069.4 L601.7 1069.4 L604.2 1069.5 L606.7 1069.5 L609.2 1069.6 L611.7 1069.6 L614.2 1069.7 L616.7 1069.8 L619.2 1069.8 L621.7 1069.9 L624.3 1069.9 L626.8 1070 L629.3 1070.1 L631.8 1070.1 L634.3 1070.2 L636.8 1070.2 L639.3 1070.3 L641.8 1070.4 L644.3 1070.4 L646.8 1070.5 L649.3 1070.6 L651.8 1070.6 L654.3 1070.7 L656.8 1070.8 L659.4 1070.8 L661.9 1070.9 L664.4 1071 L666.9 1071 L669.4 1071.1 L671.9 1071.1 L674.4 1071.2 L676.9 1071.3 L679.4 1071.3 L681.9 1071.4 L684.4 1071.4 L686.9 1071.5 L689.4 1071.6 L692 1071.6 L694.5 1071.7 L697 1071.8 L699.5 1071.8 L702 1071.9 L704.5 1071.9 L707 1072" fill="none" stroke="#6ef000" stroke-width="3.3"/><path d="M125.2 1098.6 L127.8 1098.8 L130.3 1098.9 L132.8 1099.1 L135.3 1099.2 L137.8 1099.3 L140.3 1099.4 L142.8 1099.5 L145.3 1099.6 L147.8 1099.6 L150.3 1099.7 L152.8 1099.8 L155.3 1099.8 L157.8 1099.9 L160.3 1099.9 L162.8 1100 L165.3 1100 L167.8 1100 L170.3 1100 L172.9 1100 L175.4 1100 L177.9 1100 L180.4 1100 L182.9 1100 L185.4 1100 L187.9 1099.9 L190.4 1099.9 L192.9 1099.9 L195.4 1099.8 L197.9 1099.8 L200.4 1099.8 L202.9 1099.7 L205.4 1099.7 L207.9 1099.6 L210.4 1099.6 L212.9 1099.5 L215.4 1099.4 L217.9 1099.4 L220.5 1099.3 L223 1099.2 L225.5 1099.2 L228 1099.1 L230.5 1099 L233 1098.9 L235.5 1098.8 L238 1098.8 L240.5 1098.7 L243 1098.6 L245.5 1098.5 L248 1098.4 L250.5 1098.3 L253 1098.2 L255.5 1098.1 L258 1098 L260.5 1097.9 L263 1097.8 L265.6 1097.7 L268.1 1097.6 L270.6 1097.5 L273.1 1097.4 L275.6 1097.3 L278.1 1097.2 L280.6 1097 L283.1 1096.9 L285.6 1096.8 L288.1 1096.7 L290.6 1096.6 L293.1 1096.5 L295.6 1096.3 L298.1 1096.2 L300.6 1096.1 L303.1 1096 L305.6 1095.9 L308.1 1095.7 L310.6 1095.6 L313.2 1095.5 L315.7 1095.4 L318.2 1095.2 L320.7 1095.1 L323.2 1095 L325.7 1094.9 L328.2 1094.7 L330.7 1094.6 L333.2 1094.5 L335.7 1094.4 L338.2 1094.2 L340.7 1094.1 L343.2 1094 L345.7 1093.9 L348.2 1093.8 L350.7 1093.6 L353.2 1093.5 L355.7 1093.4 L358.3 1093.3 L360.8 1093.1 L363.3 1093 L365.8 1092.9 L368.3 1092.8 L370.8 1092.7 L373.3 1092.5 L375.8 1092.4 L378.3 1092.3 L380.8 1092.2 L383.3 1092.1 L385.8 1092 L388.3 1091.9 L390.8 1091.8 L393.3 1091.7 L395.8 1091.5 L398.3 1091.4 L400.8 1091.3 L403.3 1091.2 L405.9 1091.1 L408.4 1091 L410.9 1090.9 L413.4 1090.8 L415.9 1090.8 L418.4 1090.7 L420.9 1090.6 L423.4 1090.5 L425.9 1090.4 L428.4 1090.3 L430.9 1090.2 L433.4 1090.1 L435.9 1090 L438.4 1090 L440.9 1089.9 L443.4 1089.8 L445.9 1089.7 L448.4 1089.6 L450.9 1089.5 L453.5 1089.5 L456 1089.4 L458.5 1089.3 L461 1089.2 L463.5 1089.1 L466 1089.1 L468.5 1089 L471 1088.9 L473.5 1088.8 L476 1088.8 L478.5 1088.7 L481 1088.6 L483.5 1088.5 L486 1088.5 L488.5 1088.4 L491 1088.3 L493.5 1088.2 L496 1088.1 L498.6 1088.1 L501.1 1088 L503.6 1087.9 L506.1 1087.8 L508.6 1087.7 L511.1 1087.7 L513.6 1087.6 L516.1 1087.5 L518.6 1087.5 L521.1 1087.4 L523.6 1087.3 L526.1 1087.3 L528.6 1087.2 L531.1 1087.1 L533.6 1087.1 L536.1 1087 L538.6 1086.9 L541.1 1086.9 L543.6 1086.8 L546.2 1086.7 L548.7 1086.7 L551.2 1086.6 L553.7 1086.5 L556.2 1086.5 L558.7 1086.4 L561.2 1086.3 L563.7 1086.3 L566.2 1086.2 L568.7 1086.2 L571.2 1086.1 L573.7 1086 L576.2 1086 L578.7 1085.9 L581.2 1085.9 L583.7 1085.8 L586.2 1085.7 L588.7 1085.7 L591.3 1085.6 L593.8 1085.6 L596.3 1085.5 L598.8 1085.4 L601.3 1085.4 L603.8 1085.3 L606.3 1085.3 L608.8 1085.2 L611.3 1085.2 L613.8 1085.1 L616.3 1085.1 L618.8 1085 L621.3 1084.9 L623.8 1084.9 L626.3 1084.8 L628.8 1084.8 L631.3 1084.7 L633.8 1084.7 L636.3 1084.6 L638.9 1084.6 L641.4 1084.6 L643.9 1084.5 L646.4 1084.5 L648.9 1084.4 L651.4 1084.4 L653.9 1084.3 L656.4 1084.3 L658.9 1084.2 L661.4 1084.2 L663.9 1084.2 L666.4 1084.1 L668.9 1084.1 L671.4 1084 L673.9 1084 L676.4 1084 L678.9 1083.9 L681.4 1083.9 L684 1083.9 L686.5 1083.8 L689 1083.8 L691.5 1083.8 L694 1083.7 L696.5 1083.7 L699 1083.7 L701.5 1083.7 L704 1083.6 L706.5 1083.6" fill="none" stroke="#c3f000" stroke-width="3.3"/><path d="M125.2 1107.2 L127.8 1107.3 L130.3 1107.4 L132.8 1107.6 L135.3 1107.7 L137.8 1107.8 L140.3 1107.9 L142.8 1108 L145.3 1108 L147.8 1108.1 L150.3 1108.2 L152.8 1108.2 L155.3 1108.3 L157.8 1108.4 L160.3 1108.4 L162.8 1108.4 L165.3 1108.5 L167.8 1108.5 L170.3 1108.5 L172.9 1108.5 L175.4 1108.5 L177.9 1108.5 L180.4 1108.5 L182.9 1108.5 L185.4 1108.5 L187.9 1108.5 L190.4 1108.5 L192.9 1108.5 L195.4 1108.5 L197.9 1108.5 L200.4 1108.4 L202.9 1108.4 L205.4 1108.4 L207.9 1108.3 L210.4 1108.3 L212.9 1108.3 L215.4 1108.2 L217.9 1108.2 L220.5 1108.1 L223 1108.1 L225.5 1108 L228 1108 L230.5 1107.9 L233 1107.9 L235.5 1107.8 L238 1107.8 L240.5 1107.7 L243 1107.6 L245.5 1107.6 L248 1107.5 L250.5 1107.4 L253 1107.4 L255.5 1107.3 L258 1107.2 L260.5 1107.2 L263 1107.1 L265.6 1107 L268.1 1106.9 L270.6 1106.9 L273.1 1106.8 L275.6 1106.7 L278.1 1106.6 L280.6 1106.5 L283.1 1106.4 L285.6 1106.3 L288.1 1106.3 L290.6 1106.2 L293.1 1106.1 L295.6 1106 L298.1 1105.9 L300.6 1105.8 L303.1 1105.7 L305.6 1105.6 L308.1 1105.5 L310.6 1105.4 L313.2 1105.3 L315.7 1105.2 L318.2 1105.1 L320.7 1105 L323.2 1104.9 L325.7 1104.8 L328.2 1104.7 L330.7 1104.6 L333.2 1104.5 L335.7 1104.4 L338.2 1104.3 L340.7 1104.2 L343.2 1104.1 L345.7 1104 L348.2 1103.8 L350.7 1103.7 L353.2 1103.6 L355.7 1103.5 L358.3 1103.4 L360.8 1103.3 L363.3 1103.2 L365.8 1103.1 L368.3 1103 L370.8 1102.8 L373.3 1102.7 L375.8 1102.6 L378.3 1102.5 L380.8 1102.4 L383.3 1102.3 L385.8 1102.2 L388.3 1102 L390.8 1101.9 L393.3 1101.8 L395.8 1101.7 L398.3 1101.6 L400.8 1101.5 L403.3 1101.4 L405.9 1101.2 L408.4 1101.1 L410.9 1101 L413.4 1100.9 L415.9 1100.8 L418.4 1100.7 L420.9 1100.6 L423.4 1100.4 L425.9 1100.3 L428.4 1100.2 L430.9 1100.1 L433.4 1100 L435.9 1099.9 L438.4 1099.8 L440.9 1099.6 L443.4 1099.5 L445.9 1099.4 L448.4 1099.3 L450.9 1099.2 L453.5 1099.1 L456 1099 L458.5 1098.9 L461 1098.8 L463.5 1098.7 L466 1098.6 L468.5 1098.4 L471 1098.3 L473.5 1098.2 L476 1098.1 L478.5 1098 L481 1097.9 L483.5 1097.8 L486 1097.7 L488.5 1097.6 L491 1097.5 L493.5 1097.4 L496 1097.3 L498.6 1097.2 L501.1 1097.1 L503.6 1097 L506.1 1096.9 L508.6 1096.8 L511.1 1096.7 L513.6 1096.7 L516.1 1096.6 L518.6 1096.5 L521.1 1096.4 L523.6 1096.3 L526.1 1096.2 L528.6 1096.2 L531.1 1096.1 L533.6 1096 L536.1 1095.9 L538.6 1095.8 L541.1 1095.8 L543.6 1095.7 L546.2 1095.6 L548.7 1095.5 L551.2 1095.4 L553.7 1095.4 L556.2 1095.3 L558.7 1095.2 L561.2 1095.1 L563.7 1095 L566.2 1095 L568.7 1094.9 L571.2 1094.8 L573.7 1094.7 L576.2 1094.6 L578.7 1094.6 L581.2 1094.5 L583.7 1094.4 L586.2 1094.3 L588.7 1094.3 L591.3 1094.2 L593.8 1094.1 L596.3 1094 L598.8 1094 L601.3 1093.9 L603.8 1093.8 L606.3 1093.7 L608.8 1093.7 L611.3 1093.6 L613.8 1093.5 L616.3 1093.5 L618.8 1093.4 L621.3 1093.3 L623.8 1093.2 L626.3 1093.2 L628.8 1093.1 L631.3 1093 L633.8 1093 L636.3 1092.9 L638.9 1092.8 L641.4 1092.8 L643.9 1092.7 L646.4 1092.6 L648.9 1092.6 L651.4 1092.5 L653.9 1092.5 L656.4 1092.4 L658.9 1092.3 L661.4 1092.3 L663.9 1092.2 L666.4 1092.2 L668.9 1092.1 L671.4 1092 L673.9 1092 L676.4 1091.9 L678.9 1091.9 L681.4 1091.8 L684 1091.8 L686.5 1091.7 L689 1091.7 L691.5 1091.6 L694 1091.5 L696.5 1091.5 L699 1091.4 L701.5 1091.4 L704 1091.3 L706.5 1091.3" fill="none" stroke="#ffdc00" stroke-width="3.3"/><path d="M125.2 1110.9 L127.8 1111 L130.3 1111.1 L132.8 1111.2 L135.3 1111.2 L137.8 1111.3 L140.3 1111.4 L142.8 1111.5 L145.3 1111.5 L147.8 1111.6 L150.3 1111.6 L152.8 1111.7 L155.3 1111.8 L157.8 1111.8 L160.3 1111.8 L162.8 1111.9 L165.3 1111.9 L167.8 1112 L170.3 1112 L172.9 1112 L175.4 1112.1 L177.9 1112.1 L180.4 1112.1 L182.9 1112.1 L185.4 1112.1 L187.9 1112.2 L190.4 1112.2 L192.9 1112.2 L195.4 1112.2 L197.9 1112.2 L200.4 1112.2 L202.9 1112.2 L205.4 1112.2 L207.9 1112.2 L210.4 1112.2 L212.9 1112.2 L215.4 1112.2 L217.9 1112.2 L220.5 1112.1 L223 1112.1 L225.5 1112.1 L228 1112.1 L230.5 1112.1 L233 1112 L235.5 1112 L238 1112 L240.5 1111.9 L243 1111.9 L245.5 1111.9 L248 1111.8 L250.5 1111.8 L253 1111.8 L255.5 1111.7 L258 1111.7 L260.5 1111.6 L263 1111.6 L265.6 1111.6 L268.1 1111.5 L270.6 1111.5 L273.1 1111.4 L275.6 1111.4 L278.1 1111.3 L280.6 1111.2 L283.1 1111.2 L285.6 1111.1 L288.1 1111.1 L290.6 1111 L293.1 1111 L295.6 1110.9 L298.1 1110.8 L300.6 1110.8 L303.1 1110.7 L305.6 1110.6 L308.1 1110.6 L310.6 1110.5 L313.2 1110.4 L315.7 1110.3 L318.2 1110.3 L320.7 1110.2 L323.2 1110.1 L325.7 1110.1 L328.2 1110 L330.7 1109.9 L333.2 1109.8 L335.7 1109.7 L338.2 1109.7 L340.7 1109.6 L343.2 1109.5 L345.7 1109.4 L348.2 1109.3 L350.7 1109.2 L353.2 1109.2 L355.7 1109.1 L358.3 1109 L360.8 1108.9 L363.3 1108.8 L365.8 1108.7 L368.3 1108.6 L370.8 1108.6 L373.3 1108.5 L375.8 1108.4 L378.3 1108.3 L380.8 1108.2 L383.3 1108.1 L385.8 1108 L388.3 1107.9 L390.8 1107.8 L393.3 1107.7 L395.8 1107.6 L398.3 1107.5 L400.8 1107.4 L403.3 1107.4 L405.9 1107.3 L408.4 1107.2 L410.9 1107.1 L413.4 1107 L415.9 1106.9 L418.4 1106.8 L420.9 1106.7 L423.4 1106.6 L425.9 1106.5 L428.4 1106.4 L430.9 1106.3 L433.4 1106.2 L435.9 1106.1 L438.4 1106 L440.9 1105.9 L443.4 1105.8 L445.9 1105.7 L448.4 1105.6 L450.9 1105.5 L453.5 1105.4 L456 1105.3 L458.5 1105.2 L461 1105.1 L463.5 1105 L466 1104.9 L468.5 1104.8 L471 1104.7 L473.5 1104.6 L476 1104.5 L478.5 1104.4 L481 1104.3 L483.5 1104.2 L486 1104.1 L488.5 1104 L491 1104 L493.5 1103.9 L496 1103.8 L498.6 1103.7 L501.1 1103.6 L503.6 1103.5 L506.1 1103.4 L508.6 1103.3 L511.1 1103.2 L513.6 1103.1 L516.1 1103 L518.6 1102.9 L521.1 1102.8 L523.6 1102.7 L526.1 1102.6 L528.6 1102.6 L531.1 1102.5 L533.6 1102.4 L536.1 1102.3 L538.6 1102.2 L541.1 1102.1 L543.6 1102 L546.2 1101.9 L548.7 1101.8 L551.2 1101.7 L553.7 1101.7 L556.2 1101.6 L558.7 1101.5 L561.2 1101.4 L563.7 1101.3 L566.2 1101.2 L568.7 1101.1 L571.2 1101 L573.7 1100.9 L576.2 1100.8 L578.7 1100.8 L581.2 1100.7 L583.7 1100.6 L586.2 1100.5 L588.7 1100.4 L591.3 1100.3 L593.8 1100.2 L596.3 1100.1 L598.8 1100 L601.3 1100 L603.8 1099.9 L606.3 1099.8 L608.8 1099.7 L611.3 1099.6 L613.8 1099.5 L616.3 1099.4 L618.8 1099.3 L621.3 1099.3 L623.8 1099.2 L626.3 1099.1 L628.8 1099 L631.3 1098.9 L633.8 1098.8 L636.3 1098.7 L638.9 1098.7 L641.4 1098.6 L643.9 1098.5 L646.4 1098.4 L648.9 1098.3 L651.4 1098.2 L653.9 1098.1 L656.4 1098.1 L658.9 1098 L661.4 1097.9 L663.9 1097.8 L666.4 1097.7 L668.9 1097.6 L671.4 1097.6 L673.9 1097.5 L676.4 1097.4 L678.9 1097.3 L681.4 1097.2 L684 1097.1 L686.5 1097.1 L689 1097 L691.5 1096.9 L694 1096.8 L696.5 1096.7 L699 1096.6 L701.5 1096.6 L704 1096.5 L706.5 1096.4" fill="none" stroke="#ffb400" stroke-width="3.3"/><path d="M125.2 1112.8 L127.8 1112.9 L130.3 1113 L132.8 1113 L135.3 1113.1 L137.8 1113.2 L140.3 1113.2 L142.8 1113.3 L145.3 1113.4 L147.8 1113.4 L150.3 1113.5 L152.8 1113.5 L155.3 1113.6 L157.8 1113.6 L160.3 1113.6 L162.8 1113.7 L165.3 1113.7 L167.8 1113.8 L170.3 1113.8 L172.9 1113.8 L175.4 1113.8 L177.9 1113.9 L180.4 1113.9 L182.9 1113.9 L185.4 1113.9 L187.9 1113.9 L190.4 1113.9 L192.9 1113.9 L195.4 1114 L197.9 1114 L200.4 1114 L202.9 1114 L205.4 1114 L207.9 1114 L210.4 1114 L212.9 1113.9 L215.4 1113.9 L217.9 1113.9 L220.5 1113.9 L223 1113.9 L225.5 1113.9 L228 1113.9 L230.5 1113.8 L233 1113.8 L235.5 1113.8 L238 1113.8 L240.5 1113.8 L243 1113.7 L245.5 1113.7 L248 1113.7 L250.5 1113.6 L253 1113.6 L255.5 1113.6 L258 1113.5 L260.5 1113.5 L263 1113.5 L265.6 1113.4 L268.1 1113.4 L270.6 1113.4 L273.1 1113.3 L275.6 1113.3 L278.1 1113.3 L280.6 1113.2 L283.1 1113.2 L285.6 1113.1 L288.1 1113.1 L290.6 1113 L293.1 1113 L295.6 1113 L298.1 1112.9 L300.6 1112.9 L303.1 1112.8 L305.6 1112.8 L308.1 1112.7 L310.6 1112.7 L313.2 1112.6 L315.7 1112.6 L318.2 1112.6 L320.7 1112.5 L323.2 1112.5 L325.7 1112.4 L328.2 1112.4 L330.7 1112.3 L333.2 1112.3 L335.7 1112.2 L338.2 1112.2 L340.7 1112.1 L343.2 1112.1 L345.7 1112.1 L348.2 1112 L350.7 1112 L353.2 1111.9 L355.7 1111.9 L358.3 1111.8 L360.8 1111.8 L363.3 1111.7 L365.8 1111.7 L368.3 1111.6 L370.8 1111.6 L373.3 1111.5 L375.8 1111.5 L378.3 1111.4 L380.8 1111.3 L383.3 1111.3 L385.8 1111.2 L388.3 1111.2 L390.8 1111.1 L393.3 1111 L395.8 1111 L398.3 1110.9 L400.8 1110.8 L403.3 1110.7 L405.9 1110.7 L408.4 1110.6 L410.9 1110.5 L413.4 1110.4 L415.9 1110.4 L418.4 1110.3 L420.9 1110.2 L423.4 1110.1 L425.9 1110 L428.4 1109.9 L430.9 1109.8 L433.4 1109.7 L435.9 1109.6 L438.4 1109.5 L440.9 1109.4 L443.4 1109.3 L445.9 1109.2 L448.4 1109.1 L450.9 1109.1 L453.5 1109 L456 1108.9 L458.5 1108.8 L461 1108.7 L463.5 1108.6 L466 1108.5 L468.5 1108.4 L471 1108.3 L473.5 1108.2 L476 1108.1 L478.5 1108 L481 1107.9 L483.5 1107.8 L486 1107.7 L488.5 1107.6 L491 1107.5 L493.5 1107.4 L496 1107.3 L498.6 1107.2 L501.1 1107.1 L503.6 1107.1 L506.1 1107 L508.6 1106.9 L511.1 1106.8 L513.6 1106.7 L516.1 1106.6 L518.6 1106.5 L521.1 1106.4 L523.6 1106.3 L526.1 1106.2 L528.6 1106.2 L531.1 1106.1 L533.6 1106 L536.1 1105.9 L538.6 1105.8 L541.1 1105.7 L543.6 1105.6 L546.2 1105.5 L548.7 1105.4 L551.2 1105.3 L553.7 1105.2 L556.2 1105.1 L558.7 1105 L561.2 1104.9 L563.7 1104.9 L566.2 1104.8 L568.7 1104.7 L571.2 1104.6 L573.7 1104.5 L576.2 1104.4 L578.7 1104.3 L581.2 1104.2 L583.7 1104.1 L586.2 1104 L588.7 1103.9 L591.3 1103.8 L593.8 1103.7 L596.3 1103.6 L598.8 1103.5 L601.3 1103.4 L603.8 1103.3 L606.3 1103.2 L608.8 1103.1 L611.3 1103 L613.8 1102.9 L616.3 1102.8 L618.8 1102.8 L621.3 1102.7 L623.8 1102.6 L626.3 1102.5 L628.8 1102.4 L631.3 1102.3 L633.8 1102.2 L636.3 1102.1 L638.9 1102 L641.4 1101.9 L643.9 1101.8 L646.4 1101.7 L648.9 1101.6 L651.4 1101.5 L653.9 1101.4 L656.4 1101.3 L658.9 1101.2 L661.4 1101.1 L663.9 1101 L666.4 1100.9 L668.9 1100.8 L671.4 1100.7 L673.9 1100.6 L676.4 1100.5 L678.9 1100.3 L681.4 1100.2 L684 1100.1 L686.5 1100 L689 1099.9 L691.5 1099.8 L694 1099.7 L696.5 1099.6 L699 1099.5 L701.5 1099.4 L704 1099.3 L706.5 1099.2" fill="none" stroke="#ff8c00" stroke-width="3.3"/><path d="M124.3 1113.9 L126.8 1114.1 L129.3 1114.2 L131.8 1114.3 L134.4 1114.4 L136.9 1114.5 L139.4 1114.6 L141.9 1114.6 L144.4 1114.7 L146.9 1114.8 L149.4 1114.9 L151.9 1114.9 L154.4 1115 L156.9 1115 L159.5 1115.1 L162 1115.1 L164.5 1115.1 L167 1115.2 L169.5 1115.2 L172 1115.2 L174.5 1115.2 L177 1115.3 L179.5 1115.3 L182 1115.3 L184.5 1115.3 L187.1 1115.3 L189.6 1115.3 L192.1 1115.3 L194.6 1115.3 L197.1 1115.3 L199.6 1115.3 L202.1 1115.3 L204.6 1115.3 L207.1 1115.3 L209.6 1115.3 L212.1 1115.2 L214.7 1115.2 L217.2 1115.2 L219.7 1115.2 L222.2 1115.2 L224.7 1115.2 L227.2 1115.2 L229.7 1115.1 L232.2 1115.1 L234.7 1115.1 L237.2 1115.1 L239.8 1115 L242.3 1115 L244.8 1115 L247.3 1115 L249.8 1114.9 L252.3 1114.9 L254.8 1114.9 L257.3 1114.9 L259.8 1114.8 L262.3 1114.8 L264.8 1114.8 L267.4 1114.7 L269.9 1114.7 L272.4 1114.6 L274.9 1114.6 L277.4 1114.6 L279.9 1114.5 L282.4 1114.5 L284.9 1114.4 L287.4 1114.4 L289.9 1114.4 L292.4 1114.3 L295 1114.3 L297.5 1114.2 L300 1114.2 L302.5 1114.1 L305 1114.1 L307.5 1114 L310 1114 L312.5 1113.9 L315 1113.9 L317.5 1113.8 L320.1 1113.8 L322.6 1113.7 L325.1 1113.6 L327.6 1113.6 L330.1 1113.5 L332.6 1113.5 L335.1 1113.4 L337.6 1113.3 L340.1 1113.3 L342.6 1113.2 L345.1 1113.2 L347.7 1113.1 L350.2 1113 L352.7 1113 L355.2 1112.9 L357.7 1112.8 L360.2 1112.8 L362.7 1112.7 L365.2 1112.6 L367.7 1112.6 L370.2 1112.5 L372.7 1112.4 L375.3 1112.4 L377.8 1112.3 L380.3 1112.2 L382.8 1112.2 L385.3 1112.1 L387.8 1112 L390.3 1111.9 L392.8 1111.9 L395.3 1111.8 L397.8 1111.7 L400.4 1111.7 L402.9 1111.6 L405.4 1111.5 L407.9 1111.4 L410.4 1111.4 L412.9 1111.3 L415.4 1111.2 L417.9 1111.1 L420.4 1111.1 L422.9 1111 L425.4 1110.9 L428 1110.9 L430.5 1110.8 L433 1110.7 L435.5 1110.6 L438 1110.6 L440.5 1110.5 L443 1110.4 L445.5 1110.3 L448 1110.3 L450.5 1110.2 L453.1 1110.1 L455.6 1110 L458.1 1110 L460.6 1109.9 L463.1 1109.8 L465.6 1109.7 L468.1 1109.7 L470.6 1109.6 L473.1 1109.5 L475.6 1109.4 L478.1 1109.4 L480.7 1109.3 L483.2 1109.2 L485.7 1109.2 L488.2 1109.1 L490.7 1109 L493.2 1108.9 L495.7 1108.9 L498.2 1108.8 L500.7 1108.7 L503.2 1108.7 L505.7 1108.6 L508.3 1108.5 L510.8 1108.5 L513.3 1108.4 L515.8 1108.3 L518.3 1108.2 L520.8 1108.2 L523.3 1108.1 L525.8 1108 L528.3 1107.9 L530.8 1107.8 L533.4 1107.8 L535.9 1107.7 L538.4 1107.6 L540.9 1107.5 L543.4 1107.4 L545.9 1107.4 L548.4 1107.3 L550.9 1107.2 L553.4 1107.1 L555.9 1107 L558.4 1107 L561 1106.9 L563.5 1106.8 L566 1106.7 L568.5 1106.6 L571 1106.5 L573.5 1106.4 L576 1106.4 L578.5 1106.3 L581 1106.2 L583.5 1106.1 L586 1106 L588.6 1105.9 L591.1 1105.8 L593.6 1105.7 L596.1 1105.6 L598.6 1105.5 L601.1 1105.5 L603.6 1105.4 L606.1 1105.3 L608.6 1105.2 L611.1 1105.1 L613.7 1105 L616.2 1104.9 L618.7 1104.8 L621.2 1104.7 L623.7 1104.6 L626.2 1104.5 L628.7 1104.4 L631.2 1104.3 L633.7 1104.2 L636.2 1104.1 L638.7 1104 L641.3 1103.9 L643.8 1103.8 L646.3 1103.7 L648.8 1103.6 L651.3 1103.5 L653.8 1103.4 L656.3 1103.3 L658.8 1103.2 L661.3 1103.1 L663.8 1103 L666.3 1102.8 L668.9 1102.7 L671.4 1102.6 L673.9 1102.5 L676.4 1102.4 L678.9 1102.3 L681.4 1102.2 L683.9 1102.1 L686.4 1101.9 L688.9 1101.8 L691.4 1101.7 L694 1101.6 L696.5 1101.5 L699 1101.4 L701.5 1101.2 L704 1101.1 L706.5 1101" fill="none" stroke="#ff6e00" stroke-width="3.3"/><path d="M124 1115.1 L126.5 1115.2 L129 1115.3 L131.5 1115.4 L134 1115.5 L136.5 1115.6 L139 1115.7 L141.5 1115.7 L144 1115.8 L146.5 1115.9 L149 1115.9 L151.5 1116 L154 1116 L156.5 1116 L159 1116.1 L161.5 1116.1 L164 1116.1 L166.5 1116.2 L169 1116.2 L171.5 1116.2 L174 1116.2 L176.5 1116.2 L179 1116.2 L181.5 1116.2 L184 1116.2 L186.5 1116.2 L189 1116.2 L191.5 1116.2 L194 1116.2 L196.5 1116.2 L199 1116.2 L201.5 1116.2 L204 1116.2 L206.5 1116.2 L209 1116.1 L211.5 1116.1 L214 1116.1 L216.5 1116.1 L219 1116 L221.5 1116 L224 1116 L226.5 1116 L229 1115.9 L231.5 1115.9 L234 1115.9 L236.5 1115.8 L239 1115.8 L241.5 1115.8 L244 1115.7 L246.5 1115.7 L249 1115.6 L251.5 1115.6 L254 1115.6 L256.5 1115.5 L259 1115.5 L261.5 1115.4 L264 1115.4 L266.5 1115.3 L269 1115.3 L271.5 1115.2 L274 1115.2 L276.5 1115.1 L279 1115.1 L281.5 1115 L284 1115 L286.5 1114.9 L289 1114.9 L291.5 1114.8 L294 1114.8 L296.5 1114.7 L299 1114.6 L301.5 1114.6 L304 1114.5 L306.5 1114.5 L309 1114.4 L311.5 1114.4 L314 1114.3 L316.5 1114.2 L319 1114.2 L321.5 1114.1 L324 1114 L326.5 1114 L329 1113.9 L331.5 1113.9 L334 1113.8 L336.5 1113.7 L339 1113.7 L341.5 1113.6 L344 1113.5 L346.5 1113.5 L349 1113.4 L351.5 1113.3 L354 1113.3 L356.5 1113.2 L359 1113.1 L361.5 1113.1 L364 1113 L366.5 1112.9 L369 1112.9 L371.5 1112.8 L374 1112.7 L376.5 1112.6 L379 1112.6 L381.5 1112.5 L384 1112.4 L386.5 1112.4 L389 1112.3 L391.5 1112.2 L394 1112.2 L396.5 1112.1 L399 1112 L401.5 1111.9 L404 1111.9 L406.5 1111.8 L409 1111.7 L411.5 1111.7 L414 1111.6 L416.5 1111.5 L419 1111.4 L421.5 1111.4 L424 1111.3 L426.5 1111.2 L429 1111.2 L431.5 1111.1 L434 1111 L436.5 1110.9 L439 1110.9 L441.5 1110.8 L444 1110.7 L446.5 1110.7 L449 1110.6 L451.5 1110.5 L454 1110.5 L456.5 1110.4 L459 1110.3 L461.5 1110.2 L464 1110.2 L466.5 1110.1 L469 1110 L471.5 1110 L474 1109.9 L476.5 1109.8 L479 1109.8 L481.5 1109.7 L484 1109.6 L486.5 1109.6 L489 1109.5 L491.5 1109.4 L494 1109.4 L496.5 1109.3 L499 1109.3 L501.5 1109.2 L504 1109.1 L506.5 1109.1 L509 1109 L511.5 1108.9 L514 1108.9 L516.5 1108.8 L519 1108.7 L521.5 1108.7 L524 1108.6 L526.5 1108.5 L529 1108.5 L531.5 1108.4 L534 1108.3 L536.5 1108.3 L539 1108.2 L541.5 1108.1 L544 1108 L546.5 1108 L549 1107.9 L551.5 1107.8 L554 1107.8 L556.5 1107.7 L559 1107.6 L561.5 1107.5 L564 1107.5 L566.5 1107.4 L569 1107.3 L571.5 1107.2 L574 1107.2 L576.5 1107.1 L579 1107 L581.5 1106.9 L584 1106.9 L586.5 1106.8 L589 1106.7 L591.5 1106.6 L594 1106.5 L596.5 1106.5 L599 1106.4 L601.5 1106.3 L604 1106.2 L606.5 1106.1 L609 1106.1 L611.5 1106 L614 1105.9 L616.5 1105.8 L619 1105.7 L621.5 1105.6 L624 1105.6 L626.5 1105.5 L629 1105.4 L631.5 1105.3 L634 1105.2 L636.5 1105.1 L639 1105.1 L641.5 1105 L644 1104.9 L646.5 1104.8 L649 1104.7 L651.5 1104.6 L654 1104.5 L656.5 1104.4 L659 1104.3 L661.5 1104.2 L664 1104.2 L666.5 1104.1 L669 1104 L671.5 1103.9 L674 1103.8 L676.5 1103.7 L679 1103.6 L681.5 1103.5 L684 1103.4 L686.5 1103.3 L689 1103.2 L691.5 1103.1 L694 1103 L696.5 1102.9 L699 1102.8 L701.5 1102.7 L704 1102.6 L706.5 1102.5" fill="none" stroke="#ff5000" stroke-width="3.3"/><path d="M123.6 1116.6 L126.1 1116.7 L128.6 1116.8 L131.1 1116.9 L133.6 1116.9 L136.1 1117 L138.6 1117.1 L141.1 1117.1 L143.6 1117.2 L146.1 1117.2 L148.6 1117.3 L151.1 1117.3 L153.6 1117.3 L156.1 1117.4 L158.6 1117.4 L161.1 1117.4 L163.6 1117.5 L166.1 1117.5 L168.6 1117.5 L171.1 1117.5 L173.6 1117.5 L176.1 1117.5 L178.6 1117.5 L181.1 1117.5 L183.6 1117.5 L186.1 1117.5 L188.6 1117.5 L191.1 1117.5 L193.6 1117.4 L196.1 1117.4 L198.6 1117.4 L201.1 1117.4 L203.6 1117.4 L206.1 1117.3 L208.6 1117.3 L211.1 1117.3 L213.6 1117.2 L216.1 1117.2 L218.6 1117.1 L221.1 1117.1 L223.6 1117.1 L226.1 1117 L228.6 1117 L231.1 1116.9 L233.6 1116.9 L236.1 1116.8 L238.6 1116.8 L241.1 1116.7 L243.6 1116.7 L246.1 1116.6 L248.6 1116.5 L251.1 1116.5 L253.7 1116.4 L256.2 1116.4 L258.7 1116.3 L261.2 1116.2 L263.7 1116.2 L266.2 1116.1 L268.7 1116.1 L271.2 1116 L273.7 1115.9 L276.2 1115.9 L278.7 1115.8 L281.2 1115.7 L283.7 1115.7 L286.2 1115.6 L288.7 1115.5 L291.2 1115.5 L293.7 1115.4 L296.2 1115.3 L298.7 1115.2 L301.2 1115.2 L303.7 1115.1 L306.2 1115 L308.7 1115 L311.2 1114.9 L313.7 1114.8 L316.2 1114.7 L318.7 1114.7 L321.2 1114.6 L323.7 1114.5 L326.2 1114.4 L328.7 1114.4 L331.2 1114.3 L333.7 1114.2 L336.2 1114.1 L338.7 1114.1 L341.2 1114 L343.7 1113.9 L346.2 1113.8 L348.7 1113.8 L351.2 1113.7 L353.7 1113.6 L356.2 1113.5 L358.7 1113.5 L361.2 1113.4 L363.7 1113.3 L366.2 1113.2 L368.7 1113.2 L371.2 1113.1 L373.7 1113 L376.2 1112.9 L378.7 1112.9 L381.2 1112.8 L383.8 1112.7 L386.3 1112.6 L388.8 1112.5 L391.3 1112.5 L393.8 1112.4 L396.3 1112.3 L398.8 1112.2 L401.3 1112.2 L403.8 1112.1 L406.3 1112 L408.8 1111.9 L411.3 1111.9 L413.8 1111.8 L416.3 1111.7 L418.8 1111.7 L421.3 1111.6 L423.8 1111.5 L426.3 1111.4 L428.8 1111.4 L431.3 1111.3 L433.8 1111.2 L436.3 1111.2 L438.8 1111.1 L441.3 1111 L443.8 1111 L446.3 1110.9 L448.8 1110.8 L451.3 1110.8 L453.8 1110.7 L456.3 1110.6 L458.8 1110.6 L461.3 1110.5 L463.8 1110.4 L466.3 1110.4 L468.8 1110.3 L471.3 1110.2 L473.8 1110.2 L476.3 1110.1 L478.8 1110.1 L481.3 1110 L483.8 1110 L486.3 1109.9 L488.8 1109.8 L491.3 1109.8 L493.8 1109.7 L496.3 1109.7 L498.8 1109.6 L501.3 1109.6 L503.8 1109.5 L506.3 1109.5 L508.8 1109.4 L511.3 1109.4 L513.9 1109.3 L516.4 1109.3 L518.9 1109.2 L521.4 1109.2 L523.9 1109.1 L526.4 1109.1 L528.9 1109 L531.4 1109 L533.9 1108.9 L536.4 1108.8 L538.9 1108.8 L541.4 1108.7 L543.9 1108.7 L546.4 1108.6 L548.9 1108.5 L551.4 1108.5 L553.9 1108.4 L556.4 1108.4 L558.9 1108.3 L561.4 1108.3 L563.9 1108.2 L566.4 1108.1 L568.9 1108.1 L571.4 1108 L573.9 1107.9 L576.4 1107.9 L578.9 1107.8 L581.4 1107.8 L583.9 1107.7 L586.4 1107.6 L588.9 1107.6 L591.4 1107.5 L593.9 1107.4 L596.4 1107.4 L598.9 1107.3 L601.4 1107.2 L603.9 1107.2 L606.4 1107.1 L608.9 1107 L611.4 1107 L613.9 1106.9 L616.4 1106.8 L618.9 1106.8 L621.4 1106.7 L623.9 1106.6 L626.4 1106.6 L628.9 1106.5 L631.4 1106.4 L633.9 1106.3 L636.4 1106.3 L638.9 1106.2 L641.4 1106.1 L644 1106 L646.5 1106 L649 1105.9 L651.5 1105.8 L654 1105.7 L656.5 1105.7 L659 1105.6 L661.5 1105.5 L664 1105.4 L666.5 1105.3 L669 1105.3 L671.5 1105.2 L674 1105.1 L676.5 1105 L679 1104.9 L681.5 1104.9 L684 1104.8 L686.5 1104.7 L689 1104.6 L691.5 1104.5 L694 1104.4 L696.5 1104.4 L699 1104.3 L701.5 1104.2 L704 1104.1 L706.5 1104" fill="none" stroke="#ff1e00" stroke-width="3.3"/><path d="M125.2 1118.2 L127.7 1118.2 L130.2 1118.3 L132.7 1118.3 L135.2 1118.3 L137.8 1118.4 L140.3 1118.4 L142.8 1118.4 L145.3 1118.5 L147.8 1118.5 L150.3 1118.5 L152.8 1118.5 L155.3 1118.5 L157.8 1118.5 L160.3 1118.5 L162.8 1118.5 L165.3 1118.6 L167.8 1118.6 L170.3 1118.5 L172.8 1118.5 L175.3 1118.5 L177.8 1118.5 L180.3 1118.5 L182.9 1118.5 L185.4 1118.4 L187.9 1118.4 L190.4 1118.4 L192.9 1118.4 L195.4 1118.3 L197.9 1118.3 L200.4 1118.2 L202.9 1118.2 L205.4 1118.1 L207.9 1118.1 L210.4 1118 L212.9 1118 L215.4 1117.9 L217.9 1117.9 L220.4 1117.8 L222.9 1117.7 L225.4 1117.7 L228 1117.6 L230.5 1117.6 L233 1117.5 L235.5 1117.4 L238 1117.3 L240.5 1117.3 L243 1117.2 L245.5 1117.1 L248 1117.1 L250.5 1117 L253 1116.9 L255.5 1116.8 L258 1116.7 L260.5 1116.7 L263 1116.6 L265.5 1116.5 L268 1116.4 L270.5 1116.4 L273.1 1116.3 L275.6 1116.2 L278.1 1116.1 L280.6 1116.1 L283.1 1116 L285.6 1115.9 L288.1 1115.9 L290.6 1115.8 L293.1 1115.7 L295.6 1115.6 L298.1 1115.6 L300.6 1115.5 L303.1 1115.4 L305.6 1115.3 L308.1 1115.3 L310.6 1115.2 L313.1 1115.1 L315.6 1115.1 L318.1 1115 L320.7 1114.9 L323.2 1114.8 L325.7 1114.8 L328.2 1114.7 L330.7 1114.6 L333.2 1114.6 L335.7 1114.5 L338.2 1114.4 L340.7 1114.3 L343.2 1114.3 L345.7 1114.2 L348.2 1114.1 L350.7 1114.1 L353.2 1114 L355.7 1113.9 L358.2 1113.8 L360.7 1113.8 L363.2 1113.7 L365.8 1113.6 L368.3 1113.6 L370.8 1113.5 L373.3 1113.4 L375.8 1113.4 L378.3 1113.3 L380.8 1113.2 L383.3 1113.1 L385.8 1113.1 L388.3 1113 L390.8 1112.9 L393.3 1112.9 L395.8 1112.8 L398.3 1112.7 L400.8 1112.6 L403.3 1112.6 L405.8 1112.5 L408.3 1112.4 L410.9 1112.4 L413.4 1112.3 L415.9 1112.2 L418.4 1112.2 L420.9 1112.1 L423.4 1112 L425.9 1112 L428.4 1111.9 L430.9 1111.8 L433.4 1111.8 L435.9 1111.7 L438.4 1111.6 L440.9 1111.6 L443.4 1111.5 L445.9 1111.4 L448.4 1111.4 L450.9 1111.3 L453.4 1111.3 L456 1111.2 L458.5 1111.1 L461 1111.1 L463.5 1111 L466 1111 L468.5 1110.9 L471 1110.8 L473.5 1110.8 L476 1110.7 L478.5 1110.7 L481 1110.6 L483.5 1110.6 L486 1110.5 L488.5 1110.4 L491 1110.4 L493.5 1110.3 L496 1110.3 L498.5 1110.2 L501 1110.2 L503.6 1110.1 L506.1 1110.1 L508.6 1110.1 L511.1 1110 L513.6 1110 L516.1 1109.9 L518.6 1109.9 L521.1 1109.8 L523.6 1109.8 L526.1 1109.7 L528.6 1109.7 L531.1 1109.6 L533.6 1109.6 L536.1 1109.5 L538.6 1109.5 L541.1 1109.4 L543.6 1109.4 L546.1 1109.3 L548.7 1109.2 L551.2 1109.2 L553.7 1109.1 L556.2 1109.1 L558.7 1109 L561.2 1109 L563.7 1108.9 L566.2 1108.9 L568.7 1108.8 L571.2 1108.8 L573.7 1108.7 L576.2 1108.7 L578.7 1108.6 L581.2 1108.6 L583.7 1108.5 L586.2 1108.4 L588.7 1108.4 L591.2 1108.3 L593.8 1108.3 L596.3 1108.2 L598.8 1108.2 L601.3 1108.1 L603.8 1108.1 L606.3 1108 L608.8 1107.9 L611.3 1107.9 L613.8 1107.8 L616.3 1107.8 L618.8 1107.7 L621.3 1107.7 L623.8 1107.6 L626.3 1107.5 L628.8 1107.5 L631.3 1107.4 L633.8 1107.4 L636.3 1107.3 L638.9 1107.2 L641.4 1107.2 L643.9 1107.1 L646.4 1107.1 L648.9 1107 L651.4 1106.9 L653.9 1106.9 L656.4 1106.8 L658.9 1106.7 L661.4 1106.7 L663.9 1106.6 L666.4 1106.6 L668.9 1106.5 L671.4 1106.4 L673.9 1106.4 L676.4 1106.3 L678.9 1106.2 L681.4 1106.2 L684 1106.1 L686.5 1106 L689 1106 L691.5 1105.9 L694 1105.8 L696.5 1105.8 L699 1105.7 L701.5 1105.6 L704 1105.6 L706.5 1105.5" fill="none" stroke="#ff0000" stroke-width="3.3"/><text x="98" y="1099.4" font-size="32" text-anchor="end">10</text><text x="98.4" y="1086.1" font-size="22.5">0</text><text x="98" y="1022" font-size="32" text-anchor="end">10</text><text x="98.4" y="1008.8" font-size="22.5">1</text><text x="98" y="944.7" font-size="32" text-anchor="end">10</text><text x="98.4" y="931.4" font-size="22.5">2</text><text x="98" y="867.4" font-size="32" text-anchor="end">10</text><text x="98.4" y="854.1" font-size="22.5">3</text><text x="98" y="790" font-size="32" text-anchor="end">10</text><text x="98.4" y="776.7" font-size="22.5">4</text><text x="98" y="712.6" font-size="32" text-anchor="end">10</text><text x="98.4" y="699.4" font-size="22.5">5</text><text x="120.6" y="1163.4" font-size="32" text-anchor="middle">0</text><text x="316" y="1163.4" font-size="32" text-anchor="middle">100</text><text x="511.3" y="1163.4" font-size="32" text-anchor="middle">200</text><text x="706.7" y="1163.4" font-size="32" text-anchor="middle">300</text><text y="1204.5" font-size="43"><tspan x="369.3" font-style="italic">T</tspan><tspan x="404">(K)</tspan></text><text transform="translate(47.3,975.6) rotate(-90)" font-size="41.8"><tspan font-style="italic">ρ</tspan> (mΩ cm)</text><path d="M716.5 641.5H740.1" stroke="#9b00ff" stroke-width="3.2"/><text x="744.3" y="647.5" font-size="17.1" fill="#9b00ff">0.4 GPa</text><path d="M716.5 662.8H740.1" stroke="#8000ff" stroke-width="3.2"/><text x="744.3" y="668.8" font-size="17.1" fill="#8000ff">1.5</text><path d="M716.5 684.2H740.1" stroke="#6a00ff" stroke-width="3.2"/><text x="744.3" y="690.2" font-size="17.1" fill="#6a00ff">3.3</text><path d="M716.5 705.5H740.1" stroke="#4a00ff" stroke-width="3.2"/><text x="744.3" y="711.5" font-size="17.1" fill="#4a00ff">5.7</text><path d="M716.5 726.8H740.1" stroke="#3a2af5" stroke-width="3.2"/><text x="744.3" y="732.8" font-size="17.1" fill="#3a2af5">8.1</text><path d="M716.5 748.1H740.1" stroke="#2050f5" stroke-width="3.2"/><text x="744.3" y="754.1" font-size="17.1" fill="#2050f5">10.8</text><path d="M716.5 769.5H740.1" stroke="#1478f5" stroke-width="3.2"/><text x="744.3" y="775.5" font-size="17.1" fill="#1478f5">14.2</text><path d="M716.5 790.8H740.1" stroke="#0a96f0" stroke-width="3.2"/><text x="744.3" y="796.8" font-size="17.1" fill="#0a96f0">17.0</text><path d="M716.5 812.1H740.1" stroke="#00b9f5" stroke-width="3.2"/><text x="744.3" y="818.1" font-size="17.1" fill="#00b9f5">19.6</text><path d="M716.5 833.4H740.1" stroke="#00e1ff" stroke-width="3.2"/><text x="744.3" y="839.4" font-size="17.1" fill="#00e1ff">22.5</text><path d="M716.5 854.8H740.1" stroke="#00f5c8" stroke-width="3.2"/><text x="744.3" y="860.8" font-size="17.1" fill="#00f5c8">25.6</text><path d="M716.5 876.1H740.1" stroke="#00f064" stroke-width="3.2"/><text x="744.3" y="882.1" font-size="17.1" fill="#00f064">27.4</text><path d="M716.5 897.4H740.1" stroke="#00f032" stroke-width="3.2"/><text x="744.3" y="903.4" font-size="17.1" fill="#00f032">31.5</text><path d="M716.5 918.8H740.1" stroke="#1ef000" stroke-width="3.2"/><text x="744.3" y="924.8" font-size="17.1" fill="#1ef000">33.6</text><path d="M716.5 940.1H740.1" stroke="#6ef000" stroke-width="3.2"/><text x="744.3" y="946.1" font-size="17.1" fill="#6ef000">37.4</text><path d="M716.5 961.4H740.1" stroke="#c3f000" stroke-width="3.2"/><text x="744.3" y="967.4" font-size="17.1" fill="#c3f000">41.8</text><path d="M716.5 982.7H740.1" stroke="#ffdc00" stroke-width="3.2"/><text x="744.3" y="988.7" font-size="17.1" fill="#ffdc00">45.7</text><path d="M716.5 1004.1H740.1" stroke="#ffb400" stroke-width="3.2"/><text x="744.3" y="1010.1" font-size="17.1" fill="#ffb400">50.0</text><path d="M716.5 1025.4H740.1" stroke="#ff8c00" stroke-width="3.2"/><text x="744.3" y="1031.4" font-size="17.1" fill="#ff8c00">54.9</text><path d="M716.5 1046.7H740.1" stroke="#ff6e00" stroke-width="3.2"/><text x="744.3" y="1052.7" font-size="17.1" fill="#ff6e00">60.6</text><path d="M716.5 1068H740.1" stroke="#ff5000" stroke-width="3.2"/><text x="744.3" y="1074" font-size="17.1" fill="#ff5000">65.5</text><path d="M716.5 1089.4H740.1" stroke="#ff1e00" stroke-width="3.2"/><text x="744.3" y="1095.4" font-size="17.1" fill="#ff1e00">71.3</text><path d="M716.5 1110.7H740.1" stroke="#ff0000" stroke-width="3.2"/><text x="744.3" y="1116.7" font-size="17.1" fill="#ff0000">77.2</text><text x="-2" y="649.5" font-size="56">c</text></g>
<g id="panel-d"><path d="M1051.3 1116.2H1056.5 M1051.3 1072.8H1056.5 M1051.3 1034.4H1061.2 M1051.3 1000.1H1056.5 M1051.3 969.1H1056.5 M1051.3 940.8H1056.5 M1051.3 914.7H1056.5 M1051.3 890.6H1056.5 M1051.3 868.1H1056.5 M1051.3 847.1H1056.5 M1051.3 827.4H1056.5 M1051.3 808.8H1061.2 M1051.3 791.2H1056.5 M1051.3 774.5H1056.5 M1051.3 758.6H1056.5 M1051.3 743.5H1056.5 M1051.3 729H1056.5 M1051.3 715.2H1056.5 M1051.3 701.9H1056.5 M1051.3 689.1H1056.5 M1051.3 676.8H1061.2 M1051.3 665H1056.5 M1051.3 653.6H1056.5 M1051.3 642.5H1056.5 M1331.3 1126.2V1116.4 M1611.2 1126.2V1116.4 M1191.3 1126.2V1121.4 M1471.2 1126.2V1121.4" stroke="#000" stroke-width="3.2" fill="none"/><rect x="1051.3" y="634" width="587.9" height="492.2" fill="none" stroke="#000" stroke-width="3.55"/><path d="M1057.5 693.7 L1060 694.9 L1062.5 696.1 L1065 697.2 L1067.6 698.2 L1070.1 699.2 L1072.6 700 L1075.1 700.8 L1077.6 701.6 L1080.1 702.3 L1082.6 702.9 L1085.1 703.5 L1087.6 704.1 L1090.1 704.5 L1092.6 705 L1095.1 705.4 L1097.6 705.7 L1100.1 706 L1102.6 706.3 L1105.1 706.5 L1107.7 706.7 L1110.2 706.8 L1112.7 707 L1115.2 707.1 L1117.7 707.1 L1120.2 707.2 L1122.7 707.2 L1125.2 707.2 L1127.7 707.2 L1130.2 707.2 L1132.7 707.1 L1135.2 707.1 L1137.7 707 L1140.2 707 L1142.7 706.9 L1145.2 706.8 L1147.8 706.7 L1150.3 706.5 L1152.8 706.4 L1155.3 706.2 L1157.8 706.1 L1160.3 705.9 L1162.8 705.7 L1165.3 705.5 L1167.8 705.3 L1170.3 705 L1172.8 704.7 L1175.3 704.5 L1177.8 704.1 L1180.3 703.8 L1182.8 703.5 L1185.3 703.1 L1187.8 702.7 L1190.4 702.3 L1192.9 701.9 L1195.4 701.5 L1197.9 701 L1200.4 700.5 L1202.9 700 L1205.4 699.5 L1207.9 699 L1210.4 698.5 L1212.9 697.9 L1215.4 697.3 L1217.9 696.7 L1220.4 696.1 L1222.9 695.5 L1225.4 694.9 L1227.9 694.3 L1230.5 693.6 L1233 692.9 L1235.5 692.3 L1238 691.6 L1240.5 690.9 L1243 690.2 L1245.5 689.5 L1248 688.8 L1250.5 688.1 L1253 687.4 L1255.5 686.6 L1258 685.9 L1260.5 685.2 L1263 684.4 L1265.5 683.7 L1268 683 L1270.6 682.2 L1273.1 681.5 L1275.6 680.7 L1278.1 680 L1280.6 679.2 L1283.1 678.5 L1285.6 677.8 L1288.1 677 L1290.6 676.3 L1293.1 675.6 L1295.6 674.8 L1298.1 674.1 L1300.6 673.4 L1303.1 672.7 L1305.6 672 L1308.1 671.3 L1310.6 670.6 L1313.2 669.9 L1315.7 669.2 L1318.2 668.6 L1320.7 667.9 L1323.2 667.3 L1325.7 666.6 L1328.2 666 L1330.7 665.3 L1333.2 664.7 L1335.7 664.1 L1338.2 663.5 L1340.7 662.9 L1343.2 662.3 L1345.7 661.7 L1348.2 661.1 L1350.7 660.5 L1353.3 660 L1355.8 659.4 L1358.3 658.9 L1360.8 658.4 L1363.3 657.8 L1365.8 657.3 L1368.3 656.8 L1370.8 656.3 L1373.3 655.8 L1375.8 655.3 L1378.3 654.9 L1380.8 654.4 L1383.3 654 L1385.8 653.5 L1388.3 653.1 L1390.8 652.7 L1393.3 652.3 L1395.9 651.9 L1398.4 651.5 L1400.9 651.1 L1403.4 650.7 L1405.9 650.4 L1408.4 650 L1410.9 649.7 L1413.4 649.4 L1415.9 649.1 L1418.4 648.8 L1420.9 648.5 L1423.4 648.2 L1425.9 647.9 L1428.4 647.7 L1430.9 647.4 L1433.4 647.2 L1436 647 L1438.5 646.8 L1441 646.6 L1443.5 646.4 L1446 646.2 L1448.5 646 L1451 645.8 L1453.5 645.7 L1456 645.5 L1458.5 645.4 L1461 645.2 L1463.5 645.1 L1466 645 L1468.5 644.9 L1471 644.7 L1473.5 644.6 L1476.1 644.5 L1478.6 644.4 L1481.1 644.4 L1483.6 644.3 L1486.1 644.2 L1488.6 644.1 L1491.1 644.1 L1493.6 644 L1496.1 643.9 L1498.6 643.9 L1501.1 643.8 L1503.6 643.8 L1506.1 643.7 L1508.6 643.7 L1511.1 643.7 L1513.6 643.6 L1516.1 643.6 L1518.7 643.5 L1521.2 643.5 L1523.7 643.5 L1526.2 643.5 L1528.7 643.4 L1531.2 643.4 L1533.7 643.4 L1536.2 643.4 L1538.7 643.3 L1541.2 643.3 L1543.7 643.3 L1546.2 643.3 L1548.7 643.2 L1551.2 643.2 L1553.7 643.2 L1556.2 643.1 L1558.8 643.1 L1561.3 643.1 L1563.8 643 L1566.3 643 L1568.8 643 L1571.3 642.9 L1573.8 642.9 L1576.3 642.8 L1578.8 642.8 L1581.3 642.7 L1583.8 642.6 L1586.3 642.6 L1588.8 642.5 L1591.3 642.4 L1593.8 642.3 L1596.3 642.2 L1598.9 642.2 L1601.4 642.1 L1603.9 641.9 L1606.4 641.8 L1608.9 641.7 L1611.4 641.6 L1613.9 641.5 L1616.4 641.3 L1618.9 641.2 L1621.4 641 L1623.9 640.9 L1626.4 640.7 L1628.9 640.5 L1631.4 640.3 L1633.9 640.1 L1636.4 639.9 L1638.9 639.7" fill="none" stroke="#32fa00" stroke-width="3.3"/><path d="M1057.5 921.4 L1060 922.4 L1062.5 923.4 L1065 924.4 L1067.6 925.3 L1070.1 926.1 L1072.6 927 L1075.1 927.7 L1077.6 928.4 L1080.1 929.1 L1082.6 929.8 L1085.1 930.3 L1087.6 930.9 L1090.1 931.4 L1092.6 931.9 L1095.1 932.3 L1097.6 932.7 L1100.1 933.1 L1102.6 933.4 L1105.1 933.7 L1107.7 933.9 L1110.2 934.2 L1112.7 934.3 L1115.2 934.5 L1117.7 934.6 L1120.2 934.7 L1122.7 934.8 L1125.2 934.9 L1127.7 934.9 L1130.2 934.9 L1132.7 934.9 L1135.2 934.8 L1137.7 934.7 L1140.2 934.6 L1142.7 934.5 L1145.2 934.3 L1147.8 934.2 L1150.3 934 L1152.8 933.8 L1155.3 933.5 L1157.8 933.3 L1160.3 933 L1162.8 932.7 L1165.3 932.4 L1167.8 932.1 L1170.3 931.8 L1172.8 931.5 L1175.3 931.1 L1177.8 930.7 L1180.3 930.3 L1182.8 929.9 L1185.3 929.5 L1187.8 929.1 L1190.4 928.7 L1192.9 928.2 L1195.4 927.8 L1197.9 927.3 L1200.4 926.8 L1202.9 926.3 L1205.4 925.8 L1207.9 925.3 L1210.4 924.7 L1212.9 924.2 L1215.4 923.6 L1217.9 923.1 L1220.4 922.5 L1222.9 921.9 L1225.4 921.3 L1227.9 920.7 L1230.5 920.1 L1233 919.5 L1235.5 918.8 L1238 918.2 L1240.5 917.5 L1243 916.9 L1245.5 916.2 L1248 915.5 L1250.5 914.8 L1253 914.1 L1255.5 913.4 L1258 912.7 L1260.5 912 L1263 911.3 L1265.5 910.5 L1268 909.8 L1270.6 909.1 L1273.1 908.3 L1275.6 907.6 L1278.1 906.8 L1280.6 906 L1283.1 905.3 L1285.6 904.5 L1288.1 903.7 L1290.6 902.9 L1293.1 902.1 L1295.6 901.3 L1298.1 900.5 L1300.6 899.7 L1303.1 898.9 L1305.6 898.1 L1308.1 897.3 L1310.6 896.5 L1313.2 895.6 L1315.7 894.8 L1318.2 894 L1320.7 893.2 L1323.2 892.3 L1325.7 891.5 L1328.2 890.7 L1330.7 889.8 L1333.2 889 L1335.7 888.1 L1338.2 887.3 L1340.7 886.4 L1343.2 885.6 L1345.7 884.8 L1348.2 883.9 L1350.7 883.1 L1353.3 882.2 L1355.8 881.4 L1358.3 880.5 L1360.8 879.7 L1363.3 878.8 L1365.8 878 L1368.3 877.2 L1370.8 876.3 L1373.3 875.5 L1375.8 874.6 L1378.3 873.8 L1380.8 873 L1383.3 872.1 L1385.8 871.3 L1388.3 870.5 L1390.8 869.7 L1393.3 868.8 L1395.9 868 L1398.4 867.2 L1400.9 866.4 L1403.4 865.6 L1405.9 864.8 L1408.4 864 L1410.9 863.2 L1413.4 862.4 L1415.9 861.6 L1418.4 860.8 L1420.9 860.1 L1423.4 859.3 L1425.9 858.5 L1428.4 857.8 L1430.9 857 L1433.4 856.3 L1436 855.5 L1438.5 854.8 L1441 854.1 L1443.5 853.4 L1446 852.6 L1448.5 851.9 L1451 851.2 L1453.5 850.5 L1456 849.9 L1458.5 849.2 L1461 848.5 L1463.5 847.9 L1466 847.2 L1468.5 846.5 L1471 845.9 L1473.5 845.3 L1476.1 844.6 L1478.6 844 L1481.1 843.4 L1483.6 842.8 L1486.1 842.2 L1488.6 841.6 L1491.1 841 L1493.6 840.4 L1496.1 839.8 L1498.6 839.2 L1501.1 838.6 L1503.6 838 L1506.1 837.5 L1508.6 836.9 L1511.1 836.3 L1513.6 835.8 L1516.1 835.2 L1518.7 834.7 L1521.2 834.1 L1523.7 833.6 L1526.2 833 L1528.7 832.5 L1531.2 832 L1533.7 831.4 L1536.2 830.9 L1538.7 830.4 L1541.2 829.8 L1543.7 829.3 L1546.2 828.8 L1548.7 828.2 L1551.2 827.7 L1553.7 827.2 L1556.2 826.7 L1558.8 826.2 L1561.3 825.6 L1563.8 825.1 L1566.3 824.6 L1568.8 824.1 L1571.3 823.5 L1573.8 823 L1576.3 822.5 L1578.8 822 L1581.3 821.5 L1583.8 820.9 L1586.3 820.4 L1588.8 819.9 L1591.3 819.4 L1593.8 818.8 L1596.3 818.3 L1598.9 817.8 L1601.4 817.2 L1603.9 816.7 L1606.4 816.2 L1608.9 815.6 L1611.4 815.1 L1613.9 814.5 L1616.4 814 L1618.9 813.4 L1621.4 812.9 L1623.9 812.3 L1626.4 811.7 L1628.9 811.2 L1631.4 810.6 L1633.9 810 L1636.4 809.4 L1638.9 808.9" fill="none" stroke="#82f500" stroke-width="3.3"/><path d="M1057.5 1004.3 L1060 1005.3 L1062.5 1006.2 L1065 1007 L1067.6 1007.8 L1070.1 1008.6 L1072.6 1009.3 L1075.1 1010 L1077.6 1010.7 L1080.1 1011.3 L1082.6 1011.9 L1085.1 1012.5 L1087.6 1013 L1090.1 1013.5 L1092.6 1013.9 L1095.1 1014.4 L1097.6 1014.8 L1100.1 1015.2 L1102.6 1015.5 L1105.1 1015.8 L1107.7 1016.1 L1110.2 1016.4 L1112.7 1016.6 L1115.2 1016.8 L1117.7 1017 L1120.2 1017.1 L1122.7 1017.3 L1125.2 1017.4 L1127.7 1017.5 L1130.2 1017.5 L1132.7 1017.6 L1135.2 1017.6 L1137.7 1017.6 L1140.2 1017.6 L1142.7 1017.5 L1145.2 1017.5 L1147.8 1017.4 L1150.3 1017.3 L1152.8 1017.2 L1155.3 1017.1 L1157.8 1016.9 L1160.3 1016.8 L1162.8 1016.6 L1165.3 1016.5 L1167.8 1016.3 L1170.3 1016.1 L1172.8 1015.8 L1175.3 1015.6 L1177.8 1015.4 L1180.3 1015.1 L1182.8 1014.9 L1185.3 1014.6 L1187.8 1014.3 L1190.4 1014.1 L1192.9 1013.8 L1195.4 1013.4 L1197.9 1013.1 L1200.4 1012.8 L1202.9 1012.5 L1205.4 1012.1 L1207.9 1011.8 L1210.4 1011.4 L1212.9 1011 L1215.4 1010.6 L1217.9 1010.2 L1220.4 1009.8 L1222.9 1009.4 L1225.4 1009 L1227.9 1008.6 L1230.5 1008.1 L1233 1007.7 L1235.5 1007.2 L1238 1006.8 L1240.5 1006.3 L1243 1005.8 L1245.5 1005.3 L1248 1004.8 L1250.5 1004.3 L1253 1003.8 L1255.5 1003.3 L1258 1002.8 L1260.5 1002.3 L1263 1001.7 L1265.5 1001.2 L1268 1000.6 L1270.6 1000.1 L1273.1 999.5 L1275.6 999 L1278.1 998.4 L1280.6 997.8 L1283.1 997.2 L1285.6 996.6 L1288.1 996 L1290.6 995.4 L1293.1 994.8 L1295.6 994.2 L1298.1 993.6 L1300.6 993 L1303.1 992.4 L1305.6 991.7 L1308.1 991.1 L1310.6 990.5 L1313.2 989.8 L1315.7 989.2 L1318.2 988.5 L1320.7 987.9 L1323.2 987.2 L1325.7 986.5 L1328.2 985.8 L1330.7 985.2 L1333.2 984.5 L1335.7 983.8 L1338.2 983.1 L1340.7 982.4 L1343.2 981.7 L1345.7 981 L1348.2 980.3 L1350.7 979.6 L1353.3 978.9 L1355.8 978.2 L1358.3 977.5 L1360.8 976.8 L1363.3 976.1 L1365.8 975.3 L1368.3 974.6 L1370.8 973.9 L1373.3 973.1 L1375.8 972.4 L1378.3 971.7 L1380.8 970.9 L1383.3 970.2 L1385.8 969.4 L1388.3 968.7 L1390.8 967.9 L1393.3 967.2 L1395.9 966.4 L1398.4 965.7 L1400.9 964.9 L1403.4 964.2 L1405.9 963.4 L1408.4 962.6 L1410.9 961.9 L1413.4 961.1 L1415.9 960.3 L1418.4 959.6 L1420.9 958.8 L1423.4 958 L1425.9 957.2 L1428.4 956.5 L1430.9 955.7 L1433.4 954.9 L1436 954.2 L1438.5 953.4 L1441 952.6 L1443.5 951.8 L1446 951 L1448.5 950.3 L1451 949.5 L1453.5 948.7 L1456 947.9 L1458.5 947.2 L1461 946.4 L1463.5 945.6 L1466 944.8 L1468.5 944.1 L1471 943.3 L1473.5 942.5 L1476.1 941.7 L1478.6 940.9 L1481.1 940.2 L1483.6 939.4 L1486.1 938.6 L1488.6 937.9 L1491.1 937.1 L1493.6 936.3 L1496.1 935.6 L1498.6 934.8 L1501.1 934 L1503.6 933.3 L1506.1 932.5 L1508.6 931.7 L1511.1 931 L1513.6 930.2 L1516.1 929.5 L1518.7 928.7 L1521.2 928 L1523.7 927.2 L1526.2 926.5 L1528.7 925.7 L1531.2 925 L1533.7 924.3 L1536.2 923.5 L1538.7 922.8 L1541.2 922.1 L1543.7 921.3 L1546.2 920.6 L1548.7 919.9 L1551.2 919.2 L1553.7 918.4 L1556.2 917.7 L1558.8 917 L1561.3 916.3 L1563.8 915.6 L1566.3 914.9 L1568.8 914.2 L1571.3 913.5 L1573.8 912.8 L1576.3 912.2 L1578.8 911.5 L1581.3 910.8 L1583.8 910.1 L1586.3 909.5 L1588.8 908.8 L1591.3 908.1 L1593.8 907.5 L1596.3 906.8 L1598.9 906.2 L1601.4 905.6 L1603.9 904.9 L1606.4 904.3 L1608.9 903.7 L1611.4 903 L1613.9 902.4 L1616.4 901.8 L1618.9 901.2 L1621.4 900.6 L1623.9 900 L1626.4 899.4 L1628.9 898.8 L1631.4 898.3 L1633.9 897.7 L1636.4 897.1 L1638.9 896.6" fill="none" stroke="#d7f000" stroke-width="3.3"/><path d="M1057.5 1040.3 L1060 1041 L1062.5 1041.6 L1065 1042.1 L1067.6 1042.7 L1070.1 1043.3 L1072.6 1043.8 L1075.1 1044.3 L1077.6 1044.8 L1080.1 1045.3 L1082.6 1045.7 L1085.1 1046.2 L1087.6 1046.6 L1090.1 1047 L1092.6 1047.5 L1095.1 1047.8 L1097.6 1048.2 L1100.1 1048.6 L1102.6 1048.9 L1105.1 1049.2 L1107.7 1049.5 L1110.2 1049.8 L1112.7 1050.1 L1115.2 1050.4 L1117.7 1050.6 L1120.2 1050.9 L1122.7 1051.1 L1125.2 1051.3 L1127.7 1051.5 L1130.2 1051.7 L1132.7 1051.9 L1135.2 1052 L1137.7 1052.2 L1140.2 1052.3 L1142.7 1052.4 L1145.2 1052.5 L1147.8 1052.6 L1150.3 1052.7 L1152.8 1052.8 L1155.3 1052.8 L1157.8 1052.9 L1160.3 1052.9 L1162.8 1052.9 L1165.3 1053 L1167.8 1053 L1170.3 1053 L1172.8 1052.9 L1175.3 1052.9 L1177.8 1052.9 L1180.3 1052.8 L1182.8 1052.7 L1185.3 1052.7 L1187.8 1052.6 L1190.4 1052.5 L1192.9 1052.4 L1195.4 1052.3 L1197.9 1052.2 L1200.4 1052 L1202.9 1051.9 L1205.4 1051.8 L1207.9 1051.6 L1210.4 1051.4 L1212.9 1051.3 L1215.4 1051.1 L1217.9 1050.9 L1220.4 1050.7 L1222.9 1050.5 L1225.4 1050.3 L1227.9 1050.1 L1230.5 1049.8 L1233 1049.6 L1235.5 1049.3 L1238 1049.1 L1240.5 1048.8 L1243 1048.6 L1245.5 1048.3 L1248 1048 L1250.5 1047.7 L1253 1047.4 L1255.5 1047.1 L1258 1046.8 L1260.5 1046.5 L1263 1046.2 L1265.5 1045.8 L1268 1045.5 L1270.6 1045.1 L1273.1 1044.8 L1275.6 1044.4 L1278.1 1044.1 L1280.6 1043.7 L1283.1 1043.3 L1285.6 1042.9 L1288.1 1042.5 L1290.6 1042.1 L1293.1 1041.7 L1295.6 1041.3 L1298.1 1040.9 L1300.6 1040.5 L1303.1 1040 L1305.6 1039.6 L1308.1 1039.2 L1310.6 1038.7 L1313.2 1038.3 L1315.7 1037.8 L1318.2 1037.4 L1320.7 1036.9 L1323.2 1036.4 L1325.7 1035.9 L1328.2 1035.5 L1330.7 1035 L1333.2 1034.5 L1335.7 1034 L1338.2 1033.5 L1340.7 1033 L1343.2 1032.5 L1345.7 1032 L1348.2 1031.4 L1350.7 1030.9 L1353.3 1030.4 L1355.8 1029.9 L1358.3 1029.3 L1360.8 1028.8 L1363.3 1028.2 L1365.8 1027.7 L1368.3 1027.1 L1370.8 1026.6 L1373.3 1026 L1375.8 1025.5 L1378.3 1024.9 L1380.8 1024.3 L1383.3 1023.8 L1385.8 1023.2 L1388.3 1022.6 L1390.8 1022 L1393.3 1021.5 L1395.9 1020.9 L1398.4 1020.3 L1400.9 1019.7 L1403.4 1019.1 L1405.9 1018.5 L1408.4 1017.9 L1410.9 1017.3 L1413.4 1016.7 L1415.9 1016.1 L1418.4 1015.5 L1420.9 1014.8 L1423.4 1014.2 L1425.9 1013.6 L1428.4 1013 L1430.9 1012.4 L1433.4 1011.7 L1436 1011.1 L1438.5 1010.5 L1441 1009.9 L1443.5 1009.2 L1446 1008.6 L1448.5 1007.9 L1451 1007.3 L1453.5 1006.7 L1456 1006 L1458.5 1005.4 L1461 1004.7 L1463.5 1004.1 L1466 1003.4 L1468.5 1002.8 L1471 1002.2 L1473.5 1001.5 L1476.1 1000.8 L1478.6 1000.2 L1481.1 999.5 L1483.6 998.9 L1486.1 998.2 L1488.6 997.6 L1491.1 996.9 L1493.6 996.3 L1496.1 995.6 L1498.6 994.9 L1501.1 994.3 L1503.6 993.6 L1506.1 993 L1508.6 992.3 L1511.1 991.6 L1513.6 991 L1516.1 990.3 L1518.7 989.6 L1521.2 989 L1523.7 988.3 L1526.2 987.7 L1528.7 987 L1531.2 986.3 L1533.7 985.7 L1536.2 985 L1538.7 984.3 L1541.2 983.7 L1543.7 983 L1546.2 982.4 L1548.7 981.7 L1551.2 981 L1553.7 980.4 L1556.2 979.7 L1558.8 979.1 L1561.3 978.4 L1563.8 977.7 L1566.3 977.1 L1568.8 976.4 L1571.3 975.8 L1573.8 975.1 L1576.3 974.5 L1578.8 973.8 L1581.3 973.2 L1583.8 972.5 L1586.3 971.9 L1588.8 971.2 L1591.3 970.6 L1593.8 969.9 L1596.3 969.3 L1598.9 968.7 L1601.4 968 L1603.9 967.4 L1606.4 966.8 L1608.9 966.1 L1611.4 965.5 L1613.9 964.9 L1616.4 964.2 L1618.9 963.6 L1621.4 963 L1623.9 962.4 L1626.4 961.8 L1628.9 961.1 L1631.4 960.5 L1633.9 959.9 L1636.4 959.3 L1638.9 958.7" fill="none" stroke="#ffdc00" stroke-width="3.3"/><path d="M1057.5 1058.7 L1060 1059.3 L1062.5 1059.8 L1065 1060.4 L1067.6 1060.9 L1070.1 1061.3 L1072.6 1061.8 L1075.1 1062.3 L1077.6 1062.7 L1080.1 1063.2 L1082.6 1063.6 L1085.1 1064 L1087.6 1064.4 L1090.1 1064.7 L1092.6 1065.1 L1095.1 1065.4 L1097.6 1065.8 L1100.1 1066.1 L1102.6 1066.4 L1105.2 1066.7 L1107.7 1067 L1110.2 1067.2 L1112.7 1067.5 L1115.2 1067.7 L1117.7 1067.9 L1120.2 1068.2 L1122.7 1068.4 L1125.2 1068.6 L1127.7 1068.7 L1130.2 1068.9 L1132.7 1069.1 L1135.2 1069.2 L1137.7 1069.3 L1140.2 1069.4 L1142.7 1069.6 L1145.3 1069.7 L1147.8 1069.7 L1150.3 1069.8 L1152.8 1069.9 L1155.3 1069.9 L1157.8 1070 L1160.3 1070 L1162.8 1070 L1165.3 1070.1 L1167.8 1070.1 L1170.3 1070.1 L1172.8 1070 L1175.3 1070 L1177.8 1070 L1180.3 1070 L1182.8 1069.9 L1185.4 1069.8 L1187.9 1069.8 L1190.4 1069.7 L1192.9 1069.6 L1195.4 1069.5 L1197.9 1069.4 L1200.4 1069.3 L1202.9 1069.2 L1205.4 1069.1 L1207.9 1069 L1210.4 1068.8 L1212.9 1068.7 L1215.4 1068.5 L1217.9 1068.4 L1220.4 1068.2 L1222.9 1068.1 L1225.5 1067.9 L1228 1067.7 L1230.5 1067.5 L1233 1067.3 L1235.5 1067.1 L1238 1066.9 L1240.5 1066.7 L1243 1066.5 L1245.5 1066.3 L1248 1066 L1250.5 1065.8 L1253 1065.6 L1255.5 1065.3 L1258 1065.1 L1260.5 1064.8 L1263.1 1064.6 L1265.6 1064.3 L1268.1 1064.1 L1270.6 1063.8 L1273.1 1063.6 L1275.6 1063.3 L1278.1 1063 L1280.6 1062.7 L1283.1 1062.5 L1285.6 1062.2 L1288.1 1061.9 L1290.6 1061.6 L1293.1 1061.3 L1295.6 1061 L1298.1 1060.7 L1300.6 1060.4 L1303.2 1060.1 L1305.7 1059.8 L1308.2 1059.5 L1310.7 1059.2 L1313.2 1058.9 L1315.7 1058.6 L1318.2 1058.3 L1320.7 1058 L1323.2 1057.7 L1325.7 1057.4 L1328.2 1057.1 L1330.7 1056.8 L1333.2 1056.5 L1335.7 1056.2 L1338.2 1055.9 L1340.7 1055.6 L1343.3 1055.3 L1345.8 1055 L1348.3 1054.7 L1350.8 1054.4 L1353.3 1054.1 L1355.8 1053.8 L1358.3 1053.5 L1360.8 1053.2 L1363.3 1052.9 L1365.8 1052.6 L1368.3 1052.2 L1370.8 1051.9 L1373.3 1051.6 L1375.8 1051.3 L1378.3 1051 L1380.8 1050.7 L1383.4 1050.3 L1385.9 1050 L1388.4 1049.7 L1390.9 1049.4 L1393.4 1049 L1395.9 1048.7 L1398.4 1048.3 L1400.9 1048 L1403.4 1047.6 L1405.9 1047.3 L1408.4 1046.9 L1410.9 1046.6 L1413.4 1046.2 L1415.9 1045.8 L1418.4 1045.4 L1420.9 1045 L1423.5 1044.6 L1426 1044.2 L1428.5 1043.8 L1431 1043.4 L1433.5 1043 L1436 1042.6 L1438.5 1042.1 L1441 1041.7 L1443.5 1041.2 L1446 1040.8 L1448.5 1040.3 L1451 1039.8 L1453.5 1039.4 L1456 1038.9 L1458.5 1038.4 L1461.1 1037.9 L1463.6 1037.3 L1466.1 1036.8 L1468.6 1036.3 L1471.1 1035.7 L1473.6 1035.2 L1476.1 1034.6 L1478.6 1034 L1481.1 1033.4 L1483.6 1032.8 L1486.1 1032.2 L1488.6 1031.6 L1491.1 1031 L1493.6 1030.4 L1496.1 1029.8 L1498.6 1029.1 L1501.2 1028.5 L1503.7 1027.9 L1506.2 1027.2 L1508.7 1026.6 L1511.2 1025.9 L1513.7 1025.3 L1516.2 1024.6 L1518.7 1023.9 L1521.2 1023.3 L1523.7 1022.6 L1526.2 1022 L1528.7 1021.3 L1531.2 1020.6 L1533.7 1020 L1536.2 1019.3 L1538.7 1018.6 L1541.3 1018 L1543.8 1017.3 L1546.3 1016.6 L1548.8 1016 L1551.3 1015.3 L1553.8 1014.7 L1556.3 1014 L1558.8 1013.4 L1561.3 1012.7 L1563.8 1012.1 L1566.3 1011.4 L1568.8 1010.8 L1571.3 1010.2 L1573.8 1009.5 L1576.3 1008.9 L1578.8 1008.3 L1581.4 1007.6 L1583.9 1007 L1586.4 1006.4 L1588.9 1005.8 L1591.4 1005.2 L1593.9 1004.5 L1596.4 1003.9 L1598.9 1003.3 L1601.4 1002.7 L1603.9 1002.1 L1606.4 1001.5 L1608.9 1000.9 L1611.4 1000.3 L1613.9 999.7 L1616.4 999.1 L1618.9 998.6 L1621.5 998 L1624 997.4 L1626.5 996.8 L1629 996.3 L1631.5 995.7 L1634 995.1 L1636.5 994.6 L1639 994" fill="none" stroke="#ffaa00" stroke-width="3.3"/><path d="M1056.2 1069.8 L1058.7 1070.6 L1061.2 1071.4 L1063.7 1072.2 L1066.2 1072.9 L1068.7 1073.6 L1071.2 1074.2 L1073.7 1074.9 L1076.2 1075.5 L1078.7 1076 L1081.2 1076.6 L1083.7 1077.1 L1086.2 1077.6 L1088.7 1078.1 L1091.2 1078.5 L1093.7 1078.9 L1096.2 1079.3 L1098.7 1079.7 L1101.2 1080 L1103.7 1080.3 L1106.2 1080.6 L1108.7 1080.9 L1111.2 1081.2 L1113.7 1081.4 L1116.2 1081.6 L1118.7 1081.8 L1121.2 1082 L1123.7 1082.2 L1126.2 1082.3 L1128.7 1082.4 L1131.2 1082.5 L1133.7 1082.6 L1136.2 1082.7 L1138.7 1082.8 L1141.2 1082.9 L1143.7 1082.9 L1146.2 1082.9 L1148.7 1083 L1151.2 1083 L1153.8 1083 L1156.3 1083 L1158.8 1082.9 L1161.3 1082.9 L1163.8 1082.9 L1166.3 1082.8 L1168.8 1082.8 L1171.3 1082.7 L1173.8 1082.7 L1176.3 1082.6 L1178.8 1082.6 L1181.3 1082.5 L1183.8 1082.4 L1186.3 1082.3 L1188.8 1082.2 L1191.3 1082.1 L1193.8 1082 L1196.3 1081.9 L1198.8 1081.8 L1201.3 1081.7 L1203.8 1081.6 L1206.3 1081.5 L1208.8 1081.3 L1211.3 1081.2 L1213.8 1081.1 L1216.3 1080.9 L1218.8 1080.8 L1221.3 1080.6 L1223.8 1080.4 L1226.3 1080.3 L1228.8 1080.1 L1231.3 1079.9 L1233.8 1079.7 L1236.3 1079.5 L1238.8 1079.4 L1241.3 1079.2 L1243.8 1079 L1246.3 1078.7 L1248.8 1078.5 L1251.3 1078.3 L1253.8 1078.1 L1256.3 1077.9 L1258.8 1077.6 L1261.3 1077.4 L1263.8 1077.1 L1266.3 1076.9 L1268.8 1076.6 L1271.3 1076.4 L1273.8 1076.1 L1276.3 1075.9 L1278.8 1075.6 L1281.3 1075.3 L1283.8 1075 L1286.3 1074.7 L1288.8 1074.4 L1291.3 1074.1 L1293.8 1073.8 L1296.3 1073.5 L1298.8 1073.2 L1301.3 1072.9 L1303.8 1072.6 L1306.3 1072.3 L1308.8 1071.9 L1311.3 1071.6 L1313.8 1071.3 L1316.3 1070.9 L1318.8 1070.6 L1321.3 1070.2 L1323.8 1069.9 L1326.3 1069.5 L1328.8 1069.2 L1331.3 1068.8 L1333.8 1068.4 L1336.3 1068.1 L1338.8 1067.7 L1341.3 1067.3 L1343.8 1066.9 L1346.3 1066.5 L1348.9 1066.1 L1351.4 1065.7 L1353.9 1065.3 L1356.4 1064.9 L1358.9 1064.5 L1361.4 1064.1 L1363.9 1063.7 L1366.4 1063.3 L1368.9 1062.9 L1371.4 1062.5 L1373.9 1062.1 L1376.4 1061.6 L1378.9 1061.2 L1381.4 1060.8 L1383.9 1060.3 L1386.4 1059.9 L1388.9 1059.5 L1391.4 1059 L1393.9 1058.6 L1396.4 1058.1 L1398.9 1057.7 L1401.4 1057.2 L1403.9 1056.8 L1406.4 1056.3 L1408.9 1055.9 L1411.4 1055.4 L1413.9 1054.9 L1416.4 1054.5 L1418.9 1054 L1421.4 1053.6 L1423.9 1053.1 L1426.4 1052.6 L1428.9 1052.1 L1431.4 1051.7 L1433.9 1051.2 L1436.4 1050.7 L1438.9 1050.2 L1441.4 1049.7 L1443.9 1049.3 L1446.4 1048.8 L1448.9 1048.3 L1451.4 1047.8 L1453.9 1047.3 L1456.4 1046.8 L1458.9 1046.3 L1461.4 1045.8 L1463.9 1045.4 L1466.4 1044.9 L1468.9 1044.4 L1471.4 1043.9 L1473.9 1043.4 L1476.4 1042.9 L1478.9 1042.4 L1481.4 1041.9 L1483.9 1041.4 L1486.4 1040.9 L1488.9 1040.4 L1491.4 1039.9 L1493.9 1039.4 L1496.4 1038.9 L1498.9 1038.4 L1501.4 1037.9 L1503.9 1037.4 L1506.4 1036.9 L1508.9 1036.4 L1511.4 1035.9 L1513.9 1035.4 L1516.4 1034.9 L1518.9 1034.4 L1521.4 1033.9 L1523.9 1033.4 L1526.4 1032.9 L1528.9 1032.4 L1531.4 1031.9 L1533.9 1031.4 L1536.4 1030.9 L1538.9 1030.4 L1541.4 1029.9 L1544 1029.4 L1546.5 1028.9 L1549 1028.4 L1551.5 1027.9 L1554 1027.4 L1556.5 1026.9 L1559 1026.4 L1561.5 1025.9 L1564 1025.5 L1566.5 1025 L1569 1024.5 L1571.5 1024 L1574 1023.5 L1576.5 1023 L1579 1022.6 L1581.5 1022.1 L1584 1021.6 L1586.5 1021.1 L1589 1020.6 L1591.5 1020.2 L1594 1019.7 L1596.5 1019.2 L1599 1018.8 L1601.5 1018.3 L1604 1017.8 L1606.5 1017.4 L1609 1016.9 L1611.5 1016.5 L1614 1016 L1616.5 1015.6 L1619 1015.1 L1621.5 1014.7 L1624 1014.2 L1626.5 1013.8 L1629 1013.3 L1631.5 1012.9 L1634 1012.5 L1636.5 1012 L1639 1011.6" fill="none" stroke="#ff8c00" stroke-width="3.3"/><path d="M1055.7 1081.5 L1058.2 1082.2 L1060.7 1082.9 L1063.2 1083.5 L1065.7 1084.1 L1068.2 1084.7 L1070.7 1085.3 L1073.2 1085.8 L1075.7 1086.4 L1078.2 1086.8 L1080.7 1087.3 L1083.2 1087.7 L1085.7 1088.2 L1088.2 1088.5 L1090.7 1088.9 L1093.3 1089.2 L1095.8 1089.6 L1098.3 1089.9 L1100.8 1090.1 L1103.3 1090.4 L1105.8 1090.6 L1108.3 1090.8 L1110.8 1091 L1113.3 1091.2 L1115.8 1091.4 L1118.3 1091.5 L1120.8 1091.6 L1123.3 1091.7 L1125.8 1091.8 L1128.3 1091.9 L1130.8 1092 L1133.3 1092 L1135.8 1092.1 L1138.3 1092.1 L1140.8 1092.1 L1143.3 1092.1 L1145.8 1092.1 L1148.3 1092.1 L1150.8 1092 L1153.3 1092 L1155.8 1091.9 L1158.3 1091.9 L1160.8 1091.8 L1163.3 1091.7 L1165.9 1091.7 L1168.4 1091.6 L1170.9 1091.5 L1173.4 1091.3 L1175.9 1091.2 L1178.4 1091.1 L1180.9 1091 L1183.4 1090.8 L1185.9 1090.7 L1188.4 1090.5 L1190.9 1090.3 L1193.4 1090.2 L1195.9 1090 L1198.4 1089.8 L1200.9 1089.6 L1203.4 1089.4 L1205.9 1089.2 L1208.4 1089 L1210.9 1088.8 L1213.4 1088.5 L1215.9 1088.3 L1218.4 1088.1 L1220.9 1087.8 L1223.4 1087.6 L1225.9 1087.3 L1228.4 1087 L1230.9 1086.8 L1233.4 1086.5 L1235.9 1086.2 L1238.5 1085.9 L1241 1085.6 L1243.5 1085.4 L1246 1085.1 L1248.5 1084.8 L1251 1084.4 L1253.5 1084.1 L1256 1083.8 L1258.5 1083.5 L1261 1083.2 L1263.5 1082.8 L1266 1082.5 L1268.5 1082.2 L1271 1081.8 L1273.5 1081.5 L1276 1081.2 L1278.5 1080.8 L1281 1080.5 L1283.5 1080.1 L1286 1079.7 L1288.5 1079.4 L1291 1079 L1293.5 1078.6 L1296 1078.3 L1298.5 1077.9 L1301 1077.5 L1303.5 1077.1 L1306 1076.8 L1308.5 1076.4 L1311.1 1076 L1313.6 1075.6 L1316.1 1075.2 L1318.6 1074.8 L1321.1 1074.4 L1323.6 1074 L1326.1 1073.6 L1328.6 1073.2 L1331.1 1072.8 L1333.6 1072.3 L1336.1 1071.9 L1338.6 1071.5 L1341.1 1071.1 L1343.6 1070.7 L1346.1 1070.2 L1348.6 1069.8 L1351.1 1069.4 L1353.6 1068.9 L1356.1 1068.5 L1358.6 1068.1 L1361.1 1067.6 L1363.6 1067.2 L1366.1 1066.8 L1368.6 1066.3 L1371.1 1065.9 L1373.6 1065.4 L1376.1 1065 L1378.6 1064.5 L1381.1 1064.1 L1383.6 1063.6 L1386.2 1063.1 L1388.7 1062.7 L1391.2 1062.2 L1393.7 1061.8 L1396.2 1061.3 L1398.7 1060.8 L1401.2 1060.4 L1403.7 1059.9 L1406.2 1059.4 L1408.7 1059 L1411.2 1058.5 L1413.7 1058 L1416.2 1057.6 L1418.7 1057.1 L1421.2 1056.6 L1423.7 1056.1 L1426.2 1055.7 L1428.7 1055.2 L1431.2 1054.7 L1433.7 1054.2 L1436.2 1053.8 L1438.7 1053.3 L1441.2 1052.8 L1443.7 1052.3 L1446.2 1051.8 L1448.7 1051.4 L1451.2 1050.9 L1453.7 1050.4 L1456.2 1049.9 L1458.8 1049.4 L1461.3 1049 L1463.8 1048.5 L1466.3 1048 L1468.8 1047.5 L1471.3 1047 L1473.8 1046.5 L1476.3 1046.1 L1478.8 1045.6 L1481.3 1045.1 L1483.8 1044.6 L1486.3 1044.1 L1488.8 1043.7 L1491.3 1043.2 L1493.8 1042.7 L1496.3 1042.2 L1498.8 1041.7 L1501.3 1041.3 L1503.8 1040.8 L1506.3 1040.3 L1508.8 1039.8 L1511.3 1039.3 L1513.8 1038.9 L1516.3 1038.4 L1518.8 1037.9 L1521.3 1037.4 L1523.8 1037 L1526.3 1036.5 L1528.8 1036 L1531.4 1035.6 L1533.9 1035.1 L1536.4 1034.6 L1538.9 1034.2 L1541.4 1033.7 L1543.9 1033.2 L1546.4 1032.8 L1548.9 1032.3 L1551.4 1031.8 L1553.9 1031.4 L1556.4 1030.9 L1558.9 1030.5 L1561.4 1030 L1563.9 1029.6 L1566.4 1029.1 L1568.9 1028.7 L1571.4 1028.2 L1573.9 1027.8 L1576.4 1027.3 L1578.9 1026.9 L1581.4 1026.5 L1583.9 1026 L1586.4 1025.6 L1588.9 1025.2 L1591.4 1024.7 L1593.9 1024.3 L1596.4 1023.9 L1598.9 1023.4 L1601.4 1023 L1604 1022.6 L1606.5 1022.2 L1609 1021.8 L1611.5 1021.4 L1614 1020.9 L1616.5 1020.5 L1619 1020.1 L1621.5 1019.7 L1624 1019.3 L1626.5 1018.9 L1629 1018.5 L1631.5 1018.2 L1634 1017.8 L1636.5 1017.4 L1639 1017" fill="none" stroke="#ff6400" stroke-width="3.3"/><path d="M1055.1 1095.8 L1057.6 1096.3 L1060.1 1096.9 L1062.6 1097.4 L1065.1 1098 L1067.6 1098.4 L1070.1 1098.9 L1072.6 1099.4 L1075.1 1099.8 L1077.7 1100.2 L1080.2 1100.6 L1082.7 1101 L1085.2 1101.3 L1087.7 1101.6 L1090.2 1101.9 L1092.7 1102.2 L1095.2 1102.5 L1097.7 1102.7 L1100.2 1103 L1102.7 1103.2 L1105.2 1103.4 L1107.7 1103.6 L1110.2 1103.7 L1112.7 1103.9 L1115.2 1104 L1117.8 1104.1 L1120.3 1104.2 L1122.8 1104.3 L1125.3 1104.3 L1127.8 1104.4 L1130.3 1104.4 L1132.8 1104.4 L1135.3 1104.4 L1137.8 1104.4 L1140.3 1104.3 L1142.8 1104.3 L1145.3 1104.2 L1147.8 1104.2 L1150.3 1104.1 L1152.8 1104 L1155.3 1103.9 L1157.8 1103.7 L1160.4 1103.6 L1162.9 1103.4 L1165.4 1103.3 L1167.9 1103.1 L1170.4 1102.9 L1172.9 1102.7 L1175.4 1102.5 L1177.9 1102.3 L1180.4 1102.1 L1182.9 1101.8 L1185.4 1101.6 L1187.9 1101.3 L1190.4 1101 L1192.9 1100.8 L1195.4 1100.5 L1197.9 1100.2 L1200.4 1099.9 L1203 1099.6 L1205.5 1099.2 L1208 1098.9 L1210.5 1098.6 L1213 1098.2 L1215.5 1097.9 L1218 1097.5 L1220.5 1097.2 L1223 1096.8 L1225.5 1096.5 L1228 1096.1 L1230.5 1095.7 L1233 1095.3 L1235.5 1094.9 L1238 1094.5 L1240.5 1094.1 L1243.1 1093.7 L1245.6 1093.3 L1248.1 1092.9 L1250.6 1092.5 L1253.1 1092.1 L1255.6 1091.6 L1258.1 1091.2 L1260.6 1090.8 L1263.1 1090.4 L1265.6 1089.9 L1268.1 1089.5 L1270.6 1089 L1273.1 1088.6 L1275.6 1088.2 L1278.1 1087.7 L1280.6 1087.3 L1283.1 1086.8 L1285.7 1086.3 L1288.2 1085.9 L1290.7 1085.4 L1293.2 1085 L1295.7 1084.5 L1298.2 1084 L1300.7 1083.5 L1303.2 1083.1 L1305.7 1082.6 L1308.2 1082.1 L1310.7 1081.6 L1313.2 1081.1 L1315.7 1080.7 L1318.2 1080.2 L1320.7 1079.7 L1323.2 1079.2 L1325.7 1078.7 L1328.3 1078.2 L1330.8 1077.7 L1333.3 1077.2 L1335.8 1076.7 L1338.3 1076.2 L1340.8 1075.7 L1343.3 1075.2 L1345.8 1074.7 L1348.3 1074.2 L1350.8 1073.7 L1353.3 1073.2 L1355.8 1072.7 L1358.3 1072.2 L1360.8 1071.7 L1363.3 1071.1 L1365.8 1070.6 L1368.4 1070.1 L1370.9 1069.6 L1373.4 1069.1 L1375.9 1068.6 L1378.4 1068.1 L1380.9 1067.5 L1383.4 1067 L1385.9 1066.5 L1388.4 1066 L1390.9 1065.5 L1393.4 1065 L1395.9 1064.4 L1398.4 1063.9 L1400.9 1063.4 L1403.4 1062.9 L1405.9 1062.4 L1408.4 1061.8 L1411 1061.3 L1413.5 1060.8 L1416 1060.3 L1418.5 1059.8 L1421 1059.3 L1423.5 1058.7 L1426 1058.2 L1428.5 1057.7 L1431 1057.2 L1433.5 1056.7 L1436 1056.2 L1438.5 1055.7 L1441 1055.1 L1443.5 1054.6 L1446 1054.1 L1448.5 1053.6 L1451 1053.1 L1453.6 1052.6 L1456.1 1052.1 L1458.6 1051.6 L1461.1 1051.1 L1463.6 1050.6 L1466.1 1050.1 L1468.6 1049.6 L1471.1 1049.1 L1473.6 1048.6 L1476.1 1048.1 L1478.6 1047.6 L1481.1 1047.1 L1483.6 1046.7 L1486.1 1046.2 L1488.6 1045.7 L1491.1 1045.2 L1493.7 1044.7 L1496.2 1044.2 L1498.7 1043.8 L1501.2 1043.3 L1503.7 1042.8 L1506.2 1042.4 L1508.7 1041.9 L1511.2 1041.4 L1513.7 1041 L1516.2 1040.5 L1518.7 1040.1 L1521.2 1039.6 L1523.7 1039.2 L1526.2 1038.7 L1528.7 1038.3 L1531.2 1037.8 L1533.7 1037.4 L1536.3 1037 L1538.8 1036.5 L1541.3 1036.1 L1543.8 1035.7 L1546.3 1035.3 L1548.8 1034.8 L1551.3 1034.4 L1553.8 1034 L1556.3 1033.6 L1558.8 1033.2 L1561.3 1032.8 L1563.8 1032.4 L1566.3 1032 L1568.8 1031.6 L1571.3 1031.2 L1573.8 1030.9 L1576.3 1030.5 L1578.9 1030.1 L1581.4 1029.7 L1583.9 1029.4 L1586.4 1029 L1588.9 1028.7 L1591.4 1028.3 L1593.9 1028 L1596.4 1027.6 L1598.9 1027.3 L1601.4 1026.9 L1603.9 1026.6 L1606.4 1026.3 L1608.9 1026 L1611.4 1025.7 L1613.9 1025.4 L1616.4 1025 L1619 1024.7 L1621.5 1024.5 L1624 1024.2 L1626.5 1023.9 L1629 1023.6 L1631.5 1023.3 L1634 1023.1 L1636.5 1022.8 L1639 1022.5" fill="none" stroke="#ff3c00" stroke-width="3.3"/><path d="M1057.5 1110.8 L1060 1111.1 L1062.5 1111.4 L1065 1111.7 L1067.5 1112 L1070 1112.3 L1072.5 1112.5 L1075 1112.8 L1077.6 1113 L1080.1 1113.2 L1082.6 1113.4 L1085.1 1113.6 L1087.6 1113.7 L1090.1 1113.9 L1092.6 1114 L1095.1 1114.1 L1097.6 1114.2 L1100.1 1114.3 L1102.6 1114.4 L1105.1 1114.5 L1107.6 1114.5 L1110.1 1114.5 L1112.6 1114.5 L1115.1 1114.5 L1117.7 1114.5 L1120.2 1114.5 L1122.7 1114.5 L1125.2 1114.4 L1127.7 1114.3 L1130.2 1114.2 L1132.7 1114.1 L1135.2 1114 L1137.7 1113.9 L1140.2 1113.7 L1142.7 1113.6 L1145.2 1113.4 L1147.7 1113.2 L1150.2 1113 L1152.7 1112.8 L1155.3 1112.5 L1157.8 1112.3 L1160.3 1112 L1162.8 1111.8 L1165.3 1111.5 L1167.8 1111.2 L1170.3 1110.8 L1172.8 1110.5 L1175.3 1110.2 L1177.8 1109.8 L1180.3 1109.5 L1182.8 1109.1 L1185.3 1108.7 L1187.8 1108.3 L1190.3 1107.9 L1192.8 1107.5 L1195.4 1107.1 L1197.9 1106.7 L1200.4 1106.2 L1202.9 1105.8 L1205.4 1105.4 L1207.9 1104.9 L1210.4 1104.4 L1212.9 1104 L1215.4 1103.5 L1217.9 1103 L1220.4 1102.5 L1222.9 1102.1 L1225.4 1101.6 L1227.9 1101.1 L1230.4 1100.6 L1233 1100.1 L1235.5 1099.6 L1238 1099.1 L1240.5 1098.6 L1243 1098 L1245.5 1097.5 L1248 1097 L1250.5 1096.5 L1253 1096 L1255.5 1095.5 L1258 1095 L1260.5 1094.5 L1263 1094 L1265.5 1093.4 L1268 1092.9 L1270.5 1092.4 L1273.1 1091.9 L1275.6 1091.4 L1278.1 1090.9 L1280.6 1090.4 L1283.1 1089.9 L1285.6 1089.4 L1288.1 1088.9 L1290.6 1088.4 L1293.1 1087.9 L1295.6 1087.5 L1298.1 1087 L1300.6 1086.5 L1303.1 1086 L1305.6 1085.5 L1308.1 1085 L1310.7 1084.5 L1313.2 1084 L1315.7 1083.5 L1318.2 1083 L1320.7 1082.6 L1323.2 1082.1 L1325.7 1081.6 L1328.2 1081.1 L1330.7 1080.6 L1333.2 1080.1 L1335.7 1079.7 L1338.2 1079.2 L1340.7 1078.7 L1343.2 1078.2 L1345.7 1077.7 L1348.2 1077.3 L1350.8 1076.8 L1353.3 1076.3 L1355.8 1075.8 L1358.3 1075.3 L1360.8 1074.9 L1363.3 1074.4 L1365.8 1073.9 L1368.3 1073.4 L1370.8 1072.9 L1373.3 1072.4 L1375.8 1072 L1378.3 1071.5 L1380.8 1071 L1383.3 1070.5 L1385.8 1070 L1388.4 1069.6 L1390.9 1069.1 L1393.4 1068.6 L1395.9 1068.1 L1398.4 1067.6 L1400.9 1067.1 L1403.4 1066.7 L1405.9 1066.2 L1408.4 1065.7 L1410.9 1065.2 L1413.4 1064.7 L1415.9 1064.2 L1418.4 1063.8 L1420.9 1063.3 L1423.4 1062.8 L1426 1062.3 L1428.5 1061.8 L1431 1061.4 L1433.5 1060.9 L1436 1060.4 L1438.5 1059.9 L1441 1059.4 L1443.5 1059 L1446 1058.5 L1448.5 1058 L1451 1057.6 L1453.5 1057.1 L1456 1056.6 L1458.5 1056.1 L1461 1055.7 L1463.5 1055.2 L1466.1 1054.7 L1468.6 1054.3 L1471.1 1053.8 L1473.6 1053.4 L1476.1 1052.9 L1478.6 1052.4 L1481.1 1052 L1483.6 1051.5 L1486.1 1051.1 L1488.6 1050.6 L1491.1 1050.2 L1493.6 1049.7 L1496.1 1049.3 L1498.6 1048.8 L1501.1 1048.4 L1503.7 1047.9 L1506.2 1047.5 L1508.7 1047.1 L1511.2 1046.6 L1513.7 1046.2 L1516.2 1045.8 L1518.7 1045.3 L1521.2 1044.9 L1523.7 1044.5 L1526.2 1044.1 L1528.7 1043.7 L1531.2 1043.2 L1533.7 1042.8 L1536.2 1042.4 L1538.7 1042 L1541.2 1041.6 L1543.8 1041.2 L1546.3 1040.8 L1548.8 1040.4 L1551.3 1040 L1553.8 1039.6 L1556.3 1039.3 L1558.8 1038.9 L1561.3 1038.5 L1563.8 1038.1 L1566.3 1037.7 L1568.8 1037.4 L1571.3 1037 L1573.8 1036.6 L1576.3 1036.3 L1578.8 1035.9 L1581.4 1035.6 L1583.9 1035.2 L1586.4 1034.9 L1588.9 1034.5 L1591.4 1034.2 L1593.9 1033.8 L1596.4 1033.5 L1598.9 1033.2 L1601.4 1032.9 L1603.9 1032.5 L1606.4 1032.2 L1608.9 1031.9 L1611.4 1031.6 L1613.9 1031.3 L1616.4 1031 L1618.9 1030.7 L1621.5 1030.4 L1624 1030.1 L1626.5 1029.9 L1629 1029.6 L1631.5 1029.3 L1634 1029 L1636.5 1028.8 L1639 1028.5" fill="none" stroke="#ff1e00" stroke-width="3.3"/><path d="M1212.9 697.9 L1215.4 697.3 L1217.9 696.7 L1220.4 696.1 L1222.9 695.5 L1225.4 694.9 L1227.9 694.3 L1230.5 693.6 L1233 692.9 L1235.5 692.3 L1238 691.6 L1240.5 690.9 L1243 690.2 L1245.5 689.5 L1248 688.8 L1250.5 688.1 L1253 687.4 L1255.5 686.6 L1258 685.9 L1260.5 685.2 L1263 684.4 L1265.5 683.7 L1268 683 L1270.6 682.2 L1273.1 681.5 L1275.6 680.7 L1278.1 680 L1280.6 679.2 L1283.1 678.5 L1285.6 677.8 L1288.1 677 L1290.6 676.3 L1293.1 675.6 L1295.6 674.8 L1298.1 674.1 L1300.6 673.4 L1303.1 672.7 L1305.6 672 L1308.1 671.3 L1310.6 670.6 L1313.2 669.9 L1315.7 669.2 L1318.2 668.6 L1320.7 667.9 L1323.2 667.3 L1325.7 666.6 L1328.2 666 L1330.7 665.3 L1333.2 664.7 L1335.7 664.1 L1338.2 663.5 L1340.7 662.9 L1343.2 662.3 L1345.7 661.7 L1348.2 661.1 L1350.7 660.5 L1353.3 660 L1355.8 659.4 L1358.3 658.9 L1360.8 658.4 L1363.3 657.8 L1365.8 657.3 L1368.3 656.8 L1370.8 656.3 L1373.3 655.8 L1375.8 655.3 L1378.3 654.9 L1380.8 654.4 L1383.3 654 L1385.8 653.5 L1388.3 653.1 L1390.8 652.7 L1393.3 652.3 L1395.9 651.9 L1398.4 651.5 L1400.9 651.1 L1403.4 650.7 L1405.9 650.4 L1408.4 650 L1410.9 649.7 L1413.4 649.4 L1415.9 649.1 L1418.4 648.8 L1420.9 648.5 L1423.4 648.2 L1425.9 647.9 L1428.4 647.7 L1430.9 647.4 L1433.4 647.2 L1436 647 L1438.5 646.8 L1441 646.6 L1443.5 646.4 L1446 646.2 L1448.5 646 L1451 645.8 L1453.5 645.7 L1456 645.5 L1458.5 645.4 L1461 645.2 L1463.5 645.1 L1466 645 L1468.5 644.9 L1471 644.7 L1473.5 644.6 L1476.1 644.5 L1478.6 644.4 L1481.1 644.4 L1483.6 644.3 L1486.1 644.2 L1488.6 644.1 L1491.1 644.1 L1493.6 644 L1496.1 643.9 L1498.6 643.9 L1501.1 643.8 L1503.6 643.8 L1506.1 643.7 L1508.6 643.7 L1511.1 643.7 L1513.6 643.6 L1516.1 643.6 L1518.7 643.5 L1521.2 643.5 L1523.7 643.5 L1526.2 643.5 L1528.7 643.4 L1531.2 643.4 L1533.7 643.4 L1536.2 643.4 L1538.7 643.3" stroke="#800080" stroke-width="3.3" stroke-dasharray="9.5 7.5" fill="none" opacity="0.6"/><path d="M1347.4 652.3L1412 649.6" stroke="#800080" stroke-width="3.3" stroke-dasharray="9.5 7.5" fill="none" opacity="0.6"/><path d="M1370 654.6L1402 643.6" stroke="#800080" stroke-width="3.3" stroke-dasharray="9.5 7.5" fill="none" opacity="0.6"/><path d="M1278.1 906.8 L1280.6 906 L1283.1 905.3 L1285.6 904.5 L1288.1 903.7 L1290.6 902.9 L1293.1 902.1 L1295.6 901.3 L1298.1 900.5 L1300.6 899.7 L1303.1 898.9 L1305.6 898.1 L1308.1 897.3 L1310.6 896.5 L1313.2 895.6 L1315.7 894.8 L1318.2 894 L1320.7 893.2 L1323.2 892.3 L1325.7 891.5 L1328.2 890.7 L1330.7 889.8 L1333.2 889 L1335.7 888.1 L1338.2 887.3 L1340.7 886.4 L1343.2 885.6 L1345.7 884.8 L1348.2 883.9 L1350.7 883.1 L1353.3 882.2 L1355.8 881.4 L1358.3 880.5 L1360.8 879.7 L1363.3 878.8 L1365.8 878 L1368.3 877.2 L1370.8 876.3 L1373.3 875.5 L1375.8 874.6 L1378.3 873.8 L1380.8 873 L1383.3 872.1 L1385.8 871.3 L1388.3 870.5 L1390.8 869.7 L1393.3 868.8 L1395.9 868 L1398.4 867.2 L1400.9 866.4 L1403.4 865.6 L1405.9 864.8 L1408.4 864 L1410.9 863.2 L1413.4 862.4 L1415.9 861.6 L1418.4 860.8 L1420.9 860.1 L1423.4 859.3 L1425.9 858.5 L1428.4 857.8 L1430.9 857 L1433.4 856.3 L1436 855.5 L1438.5 854.8 L1441 854.1 L1443.5 853.4 L1446 852.6 L1448.5 851.9 L1451 851.2 L1453.5 850.5 L1456 849.9 L1458.5 849.2 L1461 848.5 L1463.5 847.9 L1466 847.2 L1468.5 846.5 L1471 845.9 L1473.5 845.3 L1476.1 844.6 L1478.6 844 L1481.1 843.4 L1483.6 842.8 L1486.1 842.2 L1488.6 841.6 L1491.1 841 L1493.6 840.4 L1496.1 839.8 L1498.6 839.2 L1501.1 838.6 L1503.6 838 L1506.1 837.5 L1508.6 836.9 L1511.1 836.3 L1513.6 835.8 L1516.1 835.2 L1518.7 834.7 L1521.2 834.1 L1523.7 833.6 L1526.2 833" stroke="#800080" stroke-width="3.3" stroke-dasharray="9.5 7.5" fill="none" opacity="0.6"/><path d="M1346.5 877.5L1435 853.5" stroke="#800080" stroke-width="3.3" stroke-dasharray="9.5 7.5" fill="none" opacity="0.6"/><path d="M1293.1 994.8 L1295.6 994.2 L1298.1 993.6 L1300.6 993 L1303.1 992.4 L1305.6 991.7 L1308.1 991.1 L1310.6 990.5 L1313.2 989.8 L1315.7 989.2 L1318.2 988.5 L1320.7 987.9 L1323.2 987.2 L1325.7 986.5 L1328.2 985.8 L1330.7 985.2 L1333.2 984.5 L1335.7 983.8 L1338.2 983.1 L1340.7 982.4 L1343.2 981.7 L1345.7 981 L1348.2 980.3 L1350.7 979.6 L1353.3 978.9 L1355.8 978.2 L1358.3 977.5 L1360.8 976.8 L1363.3 976.1 L1365.8 975.3 L1368.3 974.6 L1370.8 973.9 L1373.3 973.1 L1375.8 972.4 L1378.3 971.7 L1380.8 970.9 L1383.3 970.2 L1385.8 969.4 L1388.3 968.7 L1390.8 967.9 L1393.3 967.2 L1395.9 966.4 L1398.4 965.7 L1400.9 964.9 L1403.4 964.2 L1405.9 963.4 L1408.4 962.6 L1410.9 961.9 L1413.4 961.1 L1415.9 960.3 L1418.4 959.6 L1420.9 958.8 L1423.4 958 L1425.9 957.2 L1428.4 956.5 L1430.9 955.7 L1433.4 954.9 L1436 954.2 L1438.5 953.4 L1441 952.6 L1443.5 951.8 L1446 951 L1448.5 950.3 L1451 949.5 L1453.5 948.7 L1456 947.9 L1458.5 947.2 L1461 946.4 L1463.5 945.6 L1466 944.8 L1468.5 944.1 L1471 943.3 L1473.5 942.5 L1476.1 941.7 L1478.6 940.9 L1481.1 940.2 L1483.6 939.4 L1486.1 938.6 L1488.6 937.9 L1491.1 937.1 L1493.6 936.3 L1496.1 935.6 L1498.6 934.8 L1501.1 934 L1503.6 933.3 L1506.1 932.5 L1508.6 931.7 L1511.1 931 L1513.6 930.2 L1516.1 929.5 L1518.7 928.7 L1521.2 928 L1523.7 927.2 L1526.2 926.5 L1528.7 925.7 L1531.2 925 L1533.7 924.3" stroke="#800080" stroke-width="3.3" stroke-dasharray="9.5 7.5" fill="none" opacity="0.6"/><path d="M1388.3 969.5 L1390.8 968.7 L1393.3 968 L1395.9 967.2 L1398.4 966.5 L1400.9 965.7 L1403.4 965 L1405.9 964.2 L1408.4 963.4 L1410.9 962.7 L1413.4 961.9 L1415.9 961.1 L1418.4 960.4 L1420.9 959.6 L1423.4 958.8 L1425.9 958 L1428.4 957.3 L1430.9 956.5 L1433.4 955.7 L1436 955 L1438.5 954.2 L1441 953.4 L1443.5 952.6" stroke="#800080" stroke-width="3.3" stroke-dasharray="9.5 7.5" fill="none" opacity="0.6"/><path d="M1290.6 1042.1 L1293.1 1041.7 L1295.6 1041.3 L1298.1 1040.9 L1300.6 1040.5 L1303.1 1040 L1305.6 1039.6 L1308.1 1039.2 L1310.6 1038.7 L1313.2 1038.3 L1315.7 1037.8 L1318.2 1037.4 L1320.7 1036.9 L1323.2 1036.4 L1325.7 1035.9 L1328.2 1035.5 L1330.7 1035 L1333.2 1034.5 L1335.7 1034 L1338.2 1033.5 L1340.7 1033 L1343.2 1032.5 L1345.7 1032 L1348.2 1031.4 L1350.7 1030.9 L1353.3 1030.4 L1355.8 1029.9 L1358.3 1029.3 L1360.8 1028.8 L1363.3 1028.2 L1365.8 1027.7 L1368.3 1027.1 L1370.8 1026.6 L1373.3 1026 L1375.8 1025.5 L1378.3 1024.9 L1380.8 1024.3 L1383.3 1023.8 L1385.8 1023.2 L1388.3 1022.6 L1390.8 1022 L1393.3 1021.5 L1395.9 1020.9 L1398.4 1020.3 L1400.9 1019.7 L1403.4 1019.1 L1405.9 1018.5 L1408.4 1017.9 L1410.9 1017.3 L1413.4 1016.7 L1415.9 1016.1 L1418.4 1015.5 L1420.9 1014.8 L1423.4 1014.2 L1425.9 1013.6 L1428.4 1013 L1430.9 1012.4 L1433.4 1011.7 L1436 1011.1 L1438.5 1010.5 L1441 1009.9 L1443.5 1009.2 L1446 1008.6 L1448.5 1007.9 L1451 1007.3 L1453.5 1006.7 L1456 1006 L1458.5 1005.4 L1461 1004.7 L1463.5 1004.1 L1466 1003.4 L1468.5 1002.8 L1471 1002.2 L1473.5 1001.5 L1476.1 1000.8 L1478.6 1000.2 L1481.1 999.5 L1483.6 998.9 L1486.1 998.2 L1488.6 997.6 L1491.1 996.9 L1493.6 996.3 L1496.1 995.6 L1498.6 994.9 L1501.1 994.3 L1503.6 993.6 L1506.1 993 L1508.6 992.3 L1511.1 991.6 L1513.6 991 L1516.1 990.3 L1518.7 989.6 L1521.2 989 L1523.7 988.3 L1526.2 987.7 L1528.7 987 L1531.2 986.3 L1533.7 985.7 L1536.2 985 L1538.7 984.3 L1541.2 983.7 L1543.7 983 L1546.2 982.4 L1548.7 981.7 L1551.2 981 L1553.7 980.4 L1556.2 979.7 L1558.8 979.1 L1561.3 978.4 L1563.8 977.7 L1566.3 977.1 L1568.8 976.4 L1571.3 975.8 L1573.8 975.1 L1576.3 974.5 L1578.8 973.8" stroke="#800080" stroke-width="3.3" stroke-dasharray="9.5 7.5" fill="none" opacity="0.6"/><path d="M1395 1027.3L1462 1013" stroke="#800080" stroke-width="3.3" stroke-dasharray="9.5 7.5" fill="none" opacity="0.6"/><path d="M1308.2 1059.5 L1310.7 1059.2 L1313.2 1058.9 L1315.7 1058.6 L1318.2 1058.3 L1320.7 1058 L1323.2 1057.7 L1325.7 1057.4 L1328.2 1057.1 L1330.7 1056.8 L1333.2 1056.5 L1335.7 1056.2 L1338.2 1055.9 L1340.7 1055.6 L1343.3 1055.3 L1345.8 1055 L1348.3 1054.7 L1350.8 1054.4 L1353.3 1054.1 L1355.8 1053.8 L1358.3 1053.5 L1360.8 1053.2 L1363.3 1052.9 L1365.8 1052.6 L1368.3 1052.2 L1370.8 1051.9 L1373.3 1051.6 L1375.8 1051.3 L1378.3 1051 L1380.8 1050.7 L1383.4 1050.3 L1385.9 1050 L1388.4 1049.7 L1390.9 1049.4 L1393.4 1049 L1395.9 1048.7 L1398.4 1048.3 L1400.9 1048 L1403.4 1047.6 L1405.9 1047.3 L1408.4 1046.9 L1410.9 1046.6 L1413.4 1046.2 L1415.9 1045.8 L1418.4 1045.4 L1420.9 1045 L1423.5 1044.6 L1426 1044.2 L1428.5 1043.8 L1431 1043.4 L1433.5 1043 L1436 1042.6 L1438.5 1042.1 L1441 1041.7 L1443.5 1041.2 L1446 1040.8 L1448.5 1040.3 L1451 1039.8 L1453.5 1039.4 L1456 1038.9 L1458.5 1038.4 L1461.1 1037.9 L1463.6 1037.3 L1466.1 1036.8 L1468.6 1036.3 L1471.1 1035.7 L1473.6 1035.2 L1476.1 1034.6 L1478.6 1034 L1481.1 1033.4 L1483.6 1032.8 L1486.1 1032.2 L1488.6 1031.6 L1491.1 1031 L1493.6 1030.4 L1496.1 1029.8 L1498.6 1029.1 L1501.2 1028.5 L1503.7 1027.9 L1506.2 1027.2 L1508.7 1026.6 L1511.2 1025.9 L1513.7 1025.3 L1516.2 1024.6 L1518.7 1023.9 L1521.2 1023.3 L1523.7 1022.6 L1526.2 1022 L1528.7 1021.3 L1531.2 1020.6 L1533.7 1020 L1536.2 1019.3 L1538.7 1018.6 L1541.3 1018 L1543.8 1017.3" stroke="#800080" stroke-width="3.3" stroke-dasharray="9.5 7.5" fill="none" opacity="0.6"/><path d="M1423.2 1048.4L1432.7 1046.3" stroke="#800080" stroke-width="3.3" stroke-dasharray="9.5 7.5" fill="none" opacity="0.6"/><path d="M1441 1041.7 L1443.5 1041.2 L1446 1040.8" stroke="#800080" stroke-width="3.3" stroke-dasharray="9.5 7.5" fill="none" opacity="0.6"/><path d="M1384.8 709.9L1381 681.1" stroke="#ff0f87" stroke-width="3.8" fill="none"/><polygon points="1377.8,657.3 1387.8,681.2 1374.4,683" fill="#ff0f87"/><path d="M1412.5 912.6L1407.5 895.1" stroke="#ff0f87" stroke-width="3.8" fill="none"/><polygon points="1400.9,872 1414.3,894.2 1401.2,897.9" fill="#ff0f87"/><path d="M1440.6 908.9L1424.8 938.9" stroke="#ff0f87" stroke-width="3.8" fill="none"/><polygon points="1413.6,960.1 1419.2,934.8 1431.3,941.2" fill="#ff0f87"/><path d="M1455.4 976.6L1439.8 995.6" stroke="#ff0f87" stroke-width="3.8" fill="none"/><polygon points="1424.6,1014.1 1435.2,990.5 1445.7,999.1" fill="#ff0f87"/><path d="M1465.8 1016.1L1454.9 1026.6" stroke="#ff0f87" stroke-width="3.8" fill="none"/><polygon points="1436.9,1043.9 1450.9,1021 1460.4,1030.8" fill="#ff0f87"/><text x="1041" y="1044.7" font-size="32" text-anchor="end">0.5</text><text x="1041" y="819.1" font-size="32" text-anchor="end">1.0</text><text x="1041" y="687.1" font-size="32" text-anchor="end">1.5</text><text x="1051" y="1162.8" font-size="32" text-anchor="middle">0</text><text x="1331" y="1162.8" font-size="32" text-anchor="middle">100</text><text x="1610.9" y="1162.8" font-size="32" text-anchor="middle">200</text><text y="1203.7" font-size="43"><tspan x="1300.6" font-style="italic">T</tspan><tspan x="1335.3">(K)</tspan></text><text transform="translate(981.8,975.2) rotate(-90)" font-size="41.8"><tspan font-style="italic">ρ</tspan> (mΩ cm)</text><path d="M1650.8 772.6H1674.1" stroke="#32fa00" stroke-width="3.5"/><text x="1678.8" y="778.8" font-size="16.8" fill="#32fa00" textLength="68.5" lengthAdjust="spacingAndGlyphs">37.4GPa</text><path d="M1650.8 793.9H1674.1" stroke="#82f500" stroke-width="3.5"/><text x="1678.8" y="800.1" font-size="16.8" fill="#82f500">41.8</text><path d="M1650.8 815.1H1674.1" stroke="#d7f000" stroke-width="3.5"/><text x="1678.8" y="821.3" font-size="16.8" fill="#d7f000">45.7</text><path d="M1650.8 836.4H1674.1" stroke="#ffdc00" stroke-width="3.5"/><text x="1678.8" y="842.6" font-size="16.8" fill="#ffdc00">50.0</text><path d="M1650.8 857.6H1674.1" stroke="#ffaa00" stroke-width="3.5"/><text x="1678.8" y="863.8" font-size="16.8" fill="#ffaa00">54.9</text><path d="M1650.8 878.9H1674.1" stroke="#ff8c00" stroke-width="3.5"/><text x="1678.8" y="885.1" font-size="16.8" fill="#ff8c00">60.6</text><path d="M1650.8 900.2H1674.1" stroke="#ff6400" stroke-width="3.5"/><text x="1678.8" y="906.4" font-size="16.8" fill="#ff6400">65.5</text><path d="M1650.8 921.4H1674.1" stroke="#ff3c00" stroke-width="3.5"/><text x="1678.8" y="927.6" font-size="16.8" fill="#ff3c00">71.3</text><path d="M1650.8 942.7H1674.1" stroke="#ff1e00" stroke-width="3.5"/><text x="1678.8" y="948.9" font-size="16.8" fill="#ff1e00">77.2</text><text x="928" y="643" font-size="56">d</text></g>
</svg>
</body></html>
